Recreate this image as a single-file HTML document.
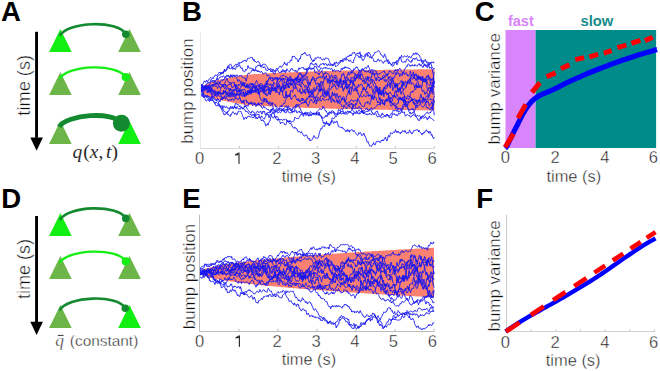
<!DOCTYPE html>
<html><head><meta charset="utf-8"><style>
html,body{margin:0;padding:0;background:#fff;}
svg{display:block;}
.lt{stroke:#fff;stroke-width:0.4px;}
</style></head><body>
<svg width="660" height="371" viewBox="0 0 660 371">
<rect width="660" height="371" fill="#fff"/>
<text x="1.11" y="20.6" font-family='"Liberation Sans", sans-serif' font-weight="bold" font-size="27.6" fill="#000">A</text>
<polygon points="49.1,51.9 71.7,51.9 60.4,28.9" fill="#11ee11"/>
<polygon points="118.2,51.9 140.8,51.9 129.5,28.9" fill="#6cb548"/>
<polygon points="49.1,94.9 71.7,94.9 60.4,71.9" fill="#6cb548"/>
<polygon points="118.2,94.9 140.8,94.9 129.5,71.9" fill="#6cb548"/>
<polygon points="49.1,143.9 71.7,143.9 60.4,120.9" fill="#6cb548"/>
<polygon points="118.2,143.9 140.8,143.9 129.5,120.9" fill="#11ee11"/>
<path d="M59.7,35.8 C67.6,21.4 117.9,19.8 125.8,34.2" fill="none" stroke="#138a2f" stroke-width="2.6" stroke-linecap="butt"/>
<circle cx="125.8" cy="34.2" r="3.8" fill="#138a2f"/>
<path d="M59.5,78.8 C67.5,64.7 117.8,63.1 125.8,77.2" fill="none" stroke="#14ee14" stroke-width="2.3" stroke-linecap="butt"/>
<circle cx="125.8" cy="77.2" r="4.1" fill="#14ee14"/>
<path d="M59.2,126.7 C66.7,114.3 113.9,110.9 121.4,123.3" fill="none" stroke="#138a2f" stroke-width="4.8" stroke-linecap="butt"/>
<circle cx="121.4" cy="123.3" r="8.5" fill="#138a2f"/>
<rect x="35.1" y="31.8" width="2.9" height="106" fill="#000"/>
<polygon points="30.3,137.6 42.9,137.6 36.6,150.7" fill="#000"/>
<text transform="translate(30.10,115.68) rotate(-90)" font-family='"Liberation Sans", sans-serif' font-size="18.2" class="lt" fill="#111" textLength="60.81" lengthAdjust="spacingAndGlyphs">time (s)</text>
<text x="72.6" y="157.6" font-family='"Liberation Serif", serif' font-size="19.5" fill="#2a2a2a"><tspan font-style="italic">q</tspan><tspan dx="0.8">(</tspan><tspan font-style="italic">x</tspan><tspan dx="0.3">,</tspan><tspan dx="2.4" font-style="italic">t</tspan><tspan dx="0.2">)</tspan></text>
<text x="1.15" y="207.8" font-family='"Liberation Sans", sans-serif' font-weight="bold" font-size="27.6" fill="#000">D</text>
<polygon points="49.1,236.1 71.7,236.1 60.4,213.1" fill="#11ee11"/>
<polygon points="118.2,236.1 140.8,236.1 129.5,213.1" fill="#6cb548"/>
<polygon points="49.1,279.1 71.7,279.1 60.4,256.1" fill="#6cb548"/>
<polygon points="118.2,279.1 140.8,279.1 129.5,256.1" fill="#6cb548"/>
<polygon points="49.1,328.1 71.7,328.1 60.4,305.1" fill="#6cb548"/>
<polygon points="118.2,328.1 140.8,328.1 129.5,305.1" fill="#11ee11"/>
<path d="M59.7,220.0 C67.6,205.6 117.9,204.0 125.8,218.39999999999998" fill="none" stroke="#138a2f" stroke-width="2.6" stroke-linecap="butt"/>
<circle cx="125.8" cy="218.39999999999998" r="3.8" fill="#138a2f"/>
<path d="M59.5,263.0 C67.5,248.9 117.8,247.3 125.8,261.4" fill="none" stroke="#14ee14" stroke-width="2.3" stroke-linecap="butt"/>
<circle cx="125.8" cy="261.4" r="4.1" fill="#14ee14"/>
<path d="M59.5,310.5 C67.4,296.2 117.4,293.9 125.3,308.2" fill="none" stroke="#138a2f" stroke-width="2.6" stroke-linecap="butt"/>
<circle cx="125.3" cy="308.2" r="3.8" fill="#138a2f"/>
<rect x="35.1" y="216.0" width="2.9" height="106" fill="#000"/>
<polygon points="30.3,321.79999999999995 42.9,321.79999999999995 36.6,334.9" fill="#000"/>
<text transform="translate(30.20,298.97) rotate(-90)" font-family='"Liberation Sans", sans-serif' font-size="18.2" class="lt" fill="#111" textLength="60.09" lengthAdjust="spacingAndGlyphs">time (s)</text>
<text x="55.3" y="346.0" class="lt" font-family='"Liberation Serif", serif' font-style="italic" font-size="17.5" fill="#222">q</text>
<rect x="57.8" y="334.9" width="5.8" height="1.0" fill="#3a3a3a"/>
<text x="69.85" y="346.00" font-family='"Liberation Sans", sans-serif' font-size="15.5" class="lt" fill="#111" textLength="68.41" lengthAdjust="spacingAndGlyphs">(constant)</text>
<text x="181.95" y="20.8" font-family='"Liberation Sans", sans-serif' font-weight="bold" font-size="27.6" fill="#000">B</text>
<polygon points="200.5,89.8 202.4,86.3 204.4,85.0 206.3,84.0 208.3,83.1 210.2,82.4 212.2,81.8 214.1,81.2 216.1,80.6 218.0,80.1 220.0,79.7 221.9,79.2 223.9,78.8 225.8,78.3 227.8,78.0 229.7,77.6 231.7,77.2 233.6,76.8 235.6,76.5 237.5,76.2 239.5,75.8 241.4,75.5 243.4,75.2 245.3,74.9 247.3,74.6 249.2,74.5 251.2,74.4 253.1,74.2 255.1,74.1 257.0,74.0 259.0,73.9 260.9,73.8 262.9,73.6 264.8,73.5 266.8,73.4 268.7,73.3 270.7,73.2 272.6,73.1 274.6,73.0 276.5,72.9 278.5,72.8 280.4,72.7 282.4,72.7 284.3,72.6 286.3,72.5 288.2,72.4 290.2,72.3 292.1,72.2 294.1,72.2 296.0,72.1 298.0,72.0 299.9,71.9 301.9,71.9 303.8,71.8 305.8,71.7 307.7,71.7 309.7,71.6 311.6,71.5 313.6,71.5 315.5,71.4 317.4,71.3 319.4,71.3 321.3,71.2 323.3,71.2 325.2,71.1 327.2,71.1 329.1,71.0 331.1,70.9 333.0,70.9 335.0,70.8 336.9,70.8 338.9,70.7 340.8,70.7 342.8,70.6 344.7,70.6 346.7,70.6 348.6,70.5 350.6,70.5 352.5,70.4 354.5,70.4 356.4,70.3 358.4,70.3 360.3,70.3 362.3,70.2 364.2,70.2 366.2,70.1 368.1,70.1 370.1,70.1 372.0,70.0 374.0,70.0 375.9,70.0 377.9,69.9 379.8,69.9 381.8,69.9 383.7,69.8 385.7,69.8 387.6,69.8 389.6,69.7 391.5,69.7 393.5,69.7 395.4,69.6 397.4,69.6 399.3,69.6 401.3,69.6 403.2,69.5 405.2,69.5 407.1,69.5 409.1,69.5 411.0,69.4 413.0,69.4 414.9,69.4 416.9,69.4 418.8,69.3 420.8,69.3 422.7,69.3 424.7,69.3 426.6,69.3 428.6,69.2 430.5,69.2 432.5,69.2 434.4,69.2 434.4,110.4 432.5,110.4 430.5,110.4 428.6,110.4 426.6,110.3 424.7,110.3 422.7,110.3 420.8,110.3 418.8,110.3 416.9,110.2 414.9,110.2 413.0,110.2 411.0,110.2 409.1,110.1 407.1,110.1 405.2,110.1 403.2,110.1 401.3,110.0 399.3,110.0 397.4,110.0 395.4,110.0 393.5,109.9 391.5,109.9 389.6,109.9 387.6,109.8 385.7,109.8 383.7,109.8 381.8,109.7 379.8,109.7 377.9,109.7 375.9,109.6 374.0,109.6 372.0,109.6 370.1,109.5 368.1,109.5 366.2,109.5 364.2,109.4 362.3,109.4 360.3,109.3 358.4,109.3 356.4,109.3 354.5,109.2 352.5,109.2 350.6,109.1 348.6,109.1 346.7,109.0 344.7,109.0 342.8,109.0 340.8,108.9 338.9,108.9 336.9,108.8 335.0,108.8 333.0,108.7 331.1,108.7 329.1,108.6 327.2,108.5 325.2,108.5 323.3,108.4 321.3,108.4 319.4,108.3 317.4,108.3 315.5,108.2 313.6,108.1 311.6,108.1 309.7,108.0 307.7,107.9 305.8,107.9 303.8,107.8 301.9,107.7 299.9,107.7 298.0,107.6 296.0,107.5 294.1,107.4 292.1,107.4 290.2,107.3 288.2,107.2 286.3,107.1 284.3,107.0 282.4,106.9 280.4,106.9 278.5,106.8 276.5,106.7 274.6,106.6 272.6,106.5 270.7,106.4 268.7,106.3 266.8,106.2 264.8,106.1 262.9,106.0 260.9,105.8 259.0,105.7 257.0,105.6 255.1,105.5 253.1,105.4 251.2,105.2 249.2,105.1 247.3,105.0 245.3,104.7 243.4,104.4 241.4,104.1 239.5,103.8 237.5,103.4 235.6,103.1 233.6,102.8 231.7,102.4 229.7,102.0 227.8,101.6 225.8,101.3 223.9,100.8 221.9,100.4 220.0,99.9 218.0,99.5 216.1,99.0 214.1,98.4 212.2,97.8 210.2,97.2 208.3,96.5 206.3,95.6 204.4,94.6 202.4,93.3 200.5,89.8" fill="#fa8072"/>
<g fill="none" stroke="#1515f2" stroke-width="0.9" stroke-linejoin="round"><polyline points="200.5,87.5 201.0,85.4 201.5,84.4 202.0,84.1 202.5,84.5 203.0,83.9 203.5,82.6 204.0,81.1 204.5,81.1 205.0,82.0 205.5,82.3 206.0,81.1 206.5,80.2 207.0,81.8 207.5,82.1 208.0,80.4 208.5,80.4 209.0,79.2 209.5,78.7 210.0,78.2 210.5,77.5 211.0,78.1 211.5,78.1 212.0,77.6 212.5,78.0 213.0,78.9 213.5,77.3 214.0,77.1 214.5,76.1 215.0,76.0 215.5,74.9 216.0,75.2 216.5,75.4 217.0,75.3 217.5,74.5 218.0,74.4 218.5,73.5 219.0,72.4 219.5,72.9 220.0,72.0 220.5,73.4 221.0,74.3 221.5,72.6 222.0,73.1 222.5,72.2 223.0,72.5 223.5,72.8 224.0,71.0 224.5,71.0 225.0,71.0 225.5,71.4 226.0,69.6 226.5,69.8 227.0,68.1 227.5,67.2 228.0,65.8 228.5,66.6 229.0,66.6 229.5,68.5 230.0,68.5 230.5,68.8 231.0,69.0 231.5,67.9 232.0,67.2 232.5,68.0 233.0,67.0 233.5,66.6 234.0,66.0 234.5,66.0 235.0,65.1 235.5,64.3 236.0,64.0 236.5,64.4 237.0,63.9 237.5,65.1 238.0,64.1 238.5,63.2 239.0,62.2 239.5,63.5 240.0,63.5 240.5,62.8 241.0,62.0 241.5,62.7 242.0,62.0 242.5,60.9 243.0,61.6 243.5,60.6 244.0,60.4 244.5,60.5 245.0,60.2 245.5,60.3 246.0,61.7 246.5,61.4 247.0,60.2 247.5,58.5 248.0,58.5 248.5,58.2 249.0,58.6 249.5,58.3 250.0,58.0 250.5,57.4 251.0,57.0 251.5,57.4 252.0,57.3 252.5,57.6 253.0,59.8 253.5,60.5 254.0,59.2 254.5,61.2 255.0,61.8 255.5,61.1 256.0,62.2 256.5,62.5 257.0,62.1 257.5,61.7 258.0,61.0 258.5,61.4 259.0,62.9 259.5,63.0 260.0,63.8 260.5,66.1 261.0,65.3 261.5,65.9 262.0,66.0 262.5,65.0 263.0,64.0 263.5,64.0 264.0,64.5 264.5,64.0 265.0,64.1 265.5,64.9 266.0,65.2 266.5,66.1 267.0,66.6 267.5,67.1 268.0,69.0 268.5,69.4 269.0,69.4 269.5,69.9 270.0,68.8 270.5,68.3 271.0,68.9 271.5,69.4 272.0,70.7 272.5,70.6 273.0,68.9 273.5,70.7 274.0,71.6 274.5,70.4 275.0,71.5 275.5,71.4 276.0,69.4 276.5,68.8 277.0,68.1 277.5,69.5 278.0,68.5 278.5,68.1 279.0,67.7 279.5,67.1 280.0,66.0 280.5,66.1 281.0,67.1 281.5,67.6 282.0,66.6 282.5,65.3 283.0,65.3 283.5,64.5 284.0,63.8 284.5,62.0 285.0,63.9 285.5,64.7 286.0,63.6 286.5,64.4 287.0,65.6 287.5,63.2 288.0,62.5 288.5,62.0 289.0,62.6 289.5,62.3 290.0,62.0 290.5,60.2 291.0,60.4 291.5,60.9 292.0,58.6 292.5,56.0 293.0,57.0 293.5,56.3 294.0,56.0 294.5,56.3 295.0,57.1 295.5,58.4 296.0,59.1 296.5,58.5 297.0,59.3 297.5,59.8 298.0,62.0 298.5,61.5 299.0,59.7 299.5,58.2 300.0,59.2 300.5,58.2 301.0,55.6 301.5,54.6 302.0,54.1 302.5,54.9 303.0,53.4 303.5,53.6 304.0,53.9 304.5,52.8 305.0,52.1 305.5,53.4 306.0,54.7 306.5,55.1 307.0,54.9 307.5,55.6 308.0,55.0 308.5,55.1 309.0,54.4 309.5,54.6 310.0,54.7 310.5,57.7 311.0,57.7 311.5,59.1 312.0,60.6 312.5,60.6 313.0,62.0 313.5,59.9 314.0,60.1 314.5,61.0 315.0,58.7 315.5,57.6 316.0,58.8 316.5,58.6 317.0,57.6 317.5,57.3 318.0,56.8 318.5,57.6 319.0,58.2 319.5,58.0 320.0,57.4 320.5,57.4 321.0,58.8 321.5,59.3 322.0,60.0 322.5,60.1 323.0,59.1 323.5,58.6 324.0,59.5 324.5,59.9 325.0,59.2 325.5,57.9 326.0,58.2 326.5,58.2 327.0,58.1 327.5,58.0 328.0,58.5 328.5,59.1 329.0,60.3 329.5,61.5 330.0,63.1 330.5,64.1 331.0,64.0 331.5,64.2 332.0,65.0 332.5,64.4 333.0,64.7 333.5,65.5 334.0,64.4 334.5,62.4 335.0,63.3 335.5,63.0 336.0,63.4 336.5,61.8 337.0,63.2 337.5,63.7 338.0,63.3 338.5,62.6 339.0,62.5 339.5,62.0 340.0,61.4 340.5,60.0 341.0,61.0 341.5,61.0 342.0,61.0 342.5,61.1 343.0,58.7 343.5,59.3 344.0,58.9 344.5,58.6 345.0,58.7 345.5,57.7 346.0,58.5 346.5,57.8 347.0,56.9 347.5,56.1 348.0,56.2 348.5,57.0 349.0,56.3 349.5,54.8 350.0,55.9 350.5,54.8 351.0,56.0 351.5,55.3 352.0,54.0 352.5,52.8 353.0,52.7 353.5,53.0 354.0,52.2 354.5,52.5 355.0,54.0 355.5,54.6 356.0,54.2 356.5,53.9 357.0,53.3 357.5,53.4 358.0,53.5 358.5,52.9 359.0,54.2 359.5,52.4 360.0,51.9 360.5,54.7 361.0,56.5 361.5,57.8 362.0,59.0 362.5,60.4 363.0,60.6 363.5,60.3 364.0,58.6 364.5,58.2 365.0,57.1 365.5,56.0 366.0,54.9 366.5,54.5 367.0,53.8 367.5,54.3 368.0,52.6 368.5,52.0 369.0,53.5 369.5,53.2 370.0,54.0 370.5,55.3 371.0,56.7 371.5,57.6 372.0,56.4 372.5,56.2 373.0,56.0 373.5,54.7 374.0,54.5 374.5,53.4 375.0,52.0 375.5,52.4 376.0,52.6 376.5,52.2 377.0,51.5 377.5,51.2 378.0,51.0 378.5,50.8 379.0,51.0 379.5,51.3 380.0,52.5 380.5,53.8 381.0,54.9 381.5,55.0 382.0,55.2 382.5,56.4 383.0,57.0 383.5,57.7 384.0,56.0 384.5,53.9 385.0,54.8 385.5,55.7 386.0,57.7 386.5,59.0 387.0,59.8 387.5,60.4 388.0,59.6 388.5,61.0 389.0,61.0 389.5,62.0 390.0,62.7 390.5,63.5 391.0,64.9 391.5,64.9 392.0,65.0 392.5,63.4 393.0,62.3 393.5,63.2 394.0,62.1 394.5,62.6 395.0,62.6 395.5,62.6 396.0,62.7 396.5,61.0 397.0,60.6 397.5,61.4 398.0,60.0 398.5,59.5 399.0,58.4 399.5,58.3 400.0,56.8 400.5,58.0 401.0,57.2 401.5,55.2 402.0,56.5 402.5,57.1 403.0,57.2 403.5,57.3 404.0,56.5 404.5,55.8 405.0,56.1 405.5,56.6 406.0,57.1 406.5,56.9 407.0,56.0 407.5,55.5 408.0,56.4 408.5,57.6 409.0,57.0 409.5,56.2 410.0,57.2 410.5,57.7 411.0,58.1 411.5,56.5 412.0,55.9 412.5,55.1 413.0,55.1 413.5,53.1 414.0,54.1 414.5,54.2 415.0,54.3 415.5,52.9 416.0,52.6 416.5,54.3 417.0,53.0 417.5,53.7 418.0,54.7 418.5,54.4 419.0,55.5 419.5,55.5 420.0,57.1 420.5,57.9 421.0,58.5 421.5,60.8 422.0,62.0 422.5,63.7 423.0,62.8 423.5,62.5 424.0,63.7 424.5,65.0 425.0,65.3 425.5,66.4 426.0,65.7 426.5,66.2 427.0,65.4 427.5,66.1 428.0,66.0 428.5,64.7 429.0,64.2 429.5,65.4 429.9,63.7 430.4,62.5 430.9,62.9 431.4,61.9 431.9,63.0 432.4,62.6 432.8,62.1 433.3,61.8 433.8,63.0 434.3,63.0"/><polyline points="200.5,90.8 201.0,90.5 201.5,88.4 202.0,87.0 202.5,87.9 203.0,88.2 203.5,88.1 204.0,88.2 204.5,87.2 205.0,87.0 205.5,85.5 206.0,85.4 206.5,84.1 207.0,83.3 207.5,83.3 208.0,82.4 208.5,82.5 209.0,82.4 209.5,82.2 210.0,83.0 210.5,81.2 211.0,79.3 211.5,79.6 212.0,80.2 212.5,81.8 213.0,82.3 213.5,82.8 214.0,81.5 214.5,82.0 215.0,82.3 215.5,80.9 216.0,79.7 216.5,79.3 217.0,79.2 217.5,75.9 218.0,75.7 218.5,75.6 219.0,75.1 219.5,75.0 220.0,75.1 220.5,73.8 221.0,73.9 221.5,73.3 222.0,72.0 222.5,72.2 223.0,73.8 223.5,72.4 224.0,70.7 224.5,69.1 225.0,71.1 225.5,70.9 226.0,70.9 226.5,70.2 227.0,69.3 227.5,67.3 228.0,67.5 228.5,67.8 229.0,65.9 229.5,64.9 230.0,64.1 230.5,64.2 231.0,64.4 231.5,65.6 232.0,67.0 232.5,68.1 233.0,69.5 233.5,68.4 234.0,67.9 234.5,69.0 235.0,69.4 235.5,69.4 236.0,67.5 236.5,65.7 237.0,66.4 237.5,66.8 238.0,66.6 238.5,66.2 239.0,64.5 239.5,64.9 240.0,66.0 240.5,67.9 241.0,68.3 241.5,68.4 242.0,67.6 242.5,69.1 243.0,71.2 243.5,70.9 244.0,71.5 244.5,71.8 245.0,71.6 245.5,69.4 246.0,69.3 246.5,70.2 247.0,69.1 247.5,68.6 248.0,65.6 248.5,67.2 249.0,68.0 249.5,68.3 250.0,68.4 250.5,68.1 251.0,68.3 251.5,68.3 252.0,68.3 252.5,68.6 253.0,69.0 253.5,70.9 254.0,69.7 254.5,70.3 255.0,70.0 255.5,68.9 256.0,66.6 256.5,67.2 257.0,66.3 257.5,65.5 258.0,66.0 258.5,65.0 259.0,65.0 259.5,65.0 260.0,65.8 260.5,66.9 261.0,66.0 261.5,67.0 262.0,66.9 262.5,67.1 263.0,66.9 263.5,67.7 264.0,66.5 264.5,66.8 265.0,68.0 265.5,68.1 266.0,70.4 266.5,70.0 267.0,70.6 267.5,70.4 268.0,70.1 268.5,69.3 269.0,69.1 269.5,69.4 270.0,69.0 270.5,70.2 271.0,72.0 271.5,70.8 272.0,72.0 272.5,71.7 273.0,71.5 273.5,73.5 274.0,74.2 274.5,74.1 275.0,73.8 275.5,71.2 276.0,71.5 276.5,70.3 277.0,70.0 277.5,69.6 278.0,70.1 278.5,71.7 279.0,72.2 279.5,73.0 280.0,72.3 280.5,72.3 281.0,72.6 281.5,70.7 282.0,72.3 282.5,71.1 283.0,69.4 283.5,70.6 284.0,72.2 284.5,71.1 285.0,70.0 285.5,72.6 286.0,72.3 286.5,69.9 287.0,68.8 287.5,70.3 288.0,70.5 288.5,70.8 289.0,71.6 289.5,71.8 290.0,71.0 290.5,69.3 291.0,69.6 291.5,68.4 292.0,68.2 292.5,69.9 293.0,70.3 293.5,70.2 294.0,70.2 294.5,70.8 295.0,71.6 295.5,70.2 296.0,70.2 296.5,71.8 297.0,72.5 297.5,71.6 298.0,70.8 298.5,68.6 299.0,67.7 299.5,69.2 300.0,69.0 300.5,68.3 301.0,67.8 301.5,67.9 302.0,67.9 302.5,67.7 303.0,67.1 303.5,67.8 304.0,69.5 304.5,69.1 305.0,68.7 305.5,70.0 306.0,68.7 306.5,68.2 307.0,68.0 307.5,68.3 308.0,68.1 308.5,67.4 309.0,67.8 309.5,66.8 310.0,65.2 310.5,63.3 311.0,64.2 311.5,62.6 312.0,63.2 312.5,64.0 313.0,64.9 313.5,64.9 314.0,64.5 314.5,64.7 315.0,64.2 315.5,63.1 316.0,64.5 316.5,63.7 317.0,65.7 317.5,66.3 318.0,66.0 318.5,66.4 319.0,67.5 319.5,66.0 320.0,65.0 320.5,63.9 321.0,64.0 321.5,64.3 322.0,64.3 322.5,63.5 323.0,62.9 323.5,64.0 324.0,65.0 324.5,64.9 325.0,63.4 325.5,63.9 326.0,63.9 326.5,64.0 327.0,65.5 327.5,66.1 328.0,65.0 328.5,63.8 329.0,65.0 329.5,65.0 330.0,65.7 330.5,65.4 331.0,64.2 331.5,64.4 332.0,65.8 332.5,66.0 333.0,64.7 333.5,64.3 334.0,63.6 334.5,63.7 335.0,64.6 335.5,66.4 336.0,66.6 336.5,66.0 337.0,66.0 337.5,65.7 338.0,64.9 338.5,64.6 339.0,64.2 339.5,62.7 340.0,62.9 340.5,62.2 341.0,60.8 341.5,61.0 342.0,60.1 342.5,61.5 343.0,61.7 343.5,61.4 344.0,60.3 344.5,59.5 345.0,60.0 345.5,59.5 346.0,60.4 346.5,58.4 347.0,58.8 347.5,59.7 348.0,60.2 348.5,60.3 349.0,61.5 349.5,60.8 350.0,59.9 350.5,60.2 351.0,61.5 351.5,62.1 352.0,62.0 352.5,62.4 353.0,63.0 353.5,61.9 354.0,59.2 354.5,58.4 355.0,57.0 355.5,56.5 356.0,55.4 356.5,54.7 357.0,55.2 357.5,55.4 358.0,55.5 358.5,57.2 359.0,56.9 359.5,56.6 360.0,58.0 360.5,56.6 361.0,54.6 361.5,55.6 362.0,55.7 362.5,56.0 363.0,56.3 363.5,56.9 364.0,56.1 364.5,55.8 365.0,54.3 365.5,54.2 366.0,54.1 366.5,53.4 367.0,53.8 367.5,56.4 368.0,55.0 368.5,55.7 369.0,56.5 369.5,57.5 370.0,56.6 370.5,57.7 371.0,58.2 371.5,58.0 372.0,57.6 372.5,57.7 373.0,58.6 373.5,59.4 374.0,61.6 374.5,61.1 375.0,61.7 375.5,61.2 376.0,61.9 376.5,61.9 377.0,61.2 377.5,59.8 378.0,59.0 378.5,59.2 379.0,60.6 379.5,61.3 380.0,60.0 380.5,60.0 381.0,60.6 381.5,60.9 382.0,61.5 382.5,62.7 383.0,63.4 383.5,63.1 384.0,61.6 384.5,61.7 385.0,60.5 385.5,60.7 386.0,61.4 386.5,60.5 387.0,60.7 387.5,60.7 388.0,63.0 388.5,63.8 389.0,62.3 389.5,63.0 390.0,63.8 390.5,63.9 391.0,63.8 391.5,64.7 392.0,65.7 392.5,66.4 393.0,65.7 393.5,65.8 394.0,64.5 394.5,63.3 395.0,63.0 395.5,62.0 396.0,61.7 396.5,64.3 397.0,64.9 397.5,64.0 398.0,62.0 398.5,61.2 399.0,59.8 399.5,57.7 400.0,58.4 400.5,58.0 401.0,58.5 401.5,61.6 402.0,62.0 402.5,62.1 403.0,62.5 403.5,62.3 404.0,61.5 404.5,61.4 405.0,62.5 405.5,62.3 406.0,61.0 406.5,59.8 407.0,58.8 407.5,58.9 408.0,59.4 408.5,60.0 409.0,61.2 409.5,61.1 410.0,62.0 410.5,62.0 411.0,62.5 411.5,60.4 412.0,61.4 412.5,59.6 413.0,58.2 413.5,58.7 414.0,58.1 414.5,59.6 415.0,59.6 415.5,58.3 416.0,58.2 416.5,57.6 417.0,59.0 417.5,60.4 418.0,60.9 418.5,60.3 419.0,60.2 419.5,61.0 420.0,60.0 420.5,59.5 421.0,60.7 421.5,61.7 422.0,61.8 422.5,61.8 423.0,60.2 423.5,61.7 423.9,61.9 424.4,60.8 424.9,59.9 425.4,59.4 425.9,61.4 426.4,62.4 426.9,61.4 427.4,63.5 427.9,65.2 428.4,64.4 428.9,62.1 429.4,63.4 429.9,63.1 430.4,63.3 430.8,63.1 431.3,64.6 431.8,66.4 432.3,67.6 432.8,67.7 433.3,68.3 433.8,69.3 434.3,68.0"/><polyline points="200.5,92.6 201.0,92.4 201.5,92.7 202.0,92.9 202.5,93.9 203.0,95.0 203.5,97.3 204.0,97.0 204.5,96.2 205.0,96.4 205.5,95.8 206.0,96.8 206.5,96.1 207.0,96.3 207.5,97.3 208.0,98.4 208.5,98.7 209.0,100.2 209.5,101.6 210.0,100.0 210.5,100.4 211.0,100.7 211.5,100.5 212.0,99.9 212.5,100.0 213.0,100.5 213.5,100.9 214.0,102.3 214.5,103.4 215.0,102.9 215.5,102.2 216.0,103.1 216.5,102.5 217.0,102.8 217.5,103.4 218.0,104.5 218.5,105.1 219.0,106.6 219.5,106.2 220.0,107.0 220.5,107.2 221.0,108.2 221.5,109.2 222.0,109.1 222.5,107.3 223.0,109.1 223.5,110.4 224.0,111.3 224.5,111.5 225.0,112.0 225.5,112.2 226.0,111.9 226.5,112.8 227.0,112.6 227.5,111.5 228.0,111.9 228.5,110.9 229.0,110.9 229.5,108.8 230.0,108.2 230.5,108.4 231.0,107.5 231.5,107.2 232.0,107.5 232.5,107.3 233.0,108.7 233.5,108.2 234.0,107.7 234.5,107.3 235.0,105.0 235.5,103.4 236.0,103.8 236.5,103.4 237.0,104.6 237.5,104.5 238.0,104.2 238.5,105.1 239.0,105.3 239.5,106.8 240.0,105.6 240.5,106.0 241.0,106.5 241.5,107.0 242.0,108.1 242.5,109.0 243.0,108.9 243.5,108.3 244.0,109.2 244.5,109.1 245.0,110.0 245.5,111.5 246.0,111.9 246.5,111.2 247.0,111.2 247.5,112.2 248.0,112.2 248.5,113.5 249.0,113.8 249.5,114.2 250.0,113.8 250.5,113.9 251.0,115.2 251.5,115.1 252.0,115.0 252.5,114.6 253.0,115.7 253.5,114.6 254.0,114.3 254.5,115.6 255.0,117.3 255.5,117.5 256.0,118.8 256.5,117.1 257.0,118.2 257.5,118.9 258.0,118.0 258.5,116.7 259.0,116.6 259.5,117.3 260.0,118.1 260.5,118.6 261.0,119.8 261.5,121.0 262.0,120.0 262.5,120.0 263.0,119.8 263.5,121.2 264.0,121.1 264.5,122.5 265.0,123.0 265.5,125.7 266.0,126.0 266.5,125.2 267.0,124.3 267.5,123.6 268.0,125.2 268.5,123.9 269.0,122.2 269.5,121.2 270.0,121.0 270.5,117.9 271.0,116.6 271.5,115.3 272.0,113.0 272.5,113.3 273.0,113.0 273.5,113.3 274.0,113.0 274.5,114.8 275.0,117.0 275.5,117.2 276.0,117.7 276.5,116.3 277.0,116.3 277.5,117.2 278.0,118.0 278.5,118.9 279.0,120.5 279.5,121.3 280.0,121.7 280.5,124.0 281.0,122.9 281.5,122.5 282.0,122.5 282.5,122.5 283.0,122.4 283.5,123.0 284.0,123.0 284.5,123.7 285.0,125.0 285.5,124.7 286.0,124.5 286.5,123.3 287.0,121.8 287.5,121.2 288.0,121.8 288.5,121.8 289.0,122.6 289.5,123.3 290.0,124.1 290.5,122.9 291.0,123.8 291.5,124.3 292.0,126.0 292.5,126.9 293.0,127.6 293.5,127.8 294.0,128.4 294.5,127.1 295.0,127.2 295.5,127.5 296.0,128.8 296.5,128.5 297.0,129.0 297.5,131.2 298.0,131.0 298.5,131.9 299.0,131.5 299.5,131.5 300.0,132.0 300.5,133.0 301.0,132.6 301.5,131.6 302.0,133.2 302.5,133.5 303.0,134.4 303.5,135.4 304.0,136.2 304.5,136.0 305.0,136.0 305.5,134.8 306.0,135.3 306.5,135.2 307.0,135.5 307.5,137.7 308.0,138.7 308.5,139.1 309.0,138.1 309.5,139.2 310.0,141.0 310.5,140.1 311.0,140.5 311.5,139.9 312.0,139.7 312.5,139.3 313.0,137.7 313.5,137.1 314.0,135.5 314.5,136.8 315.0,137.8 315.5,137.8 316.0,138.0 316.5,138.0 317.0,138.1 317.5,138.3 318.0,138.0 318.5,136.8 319.0,134.4 319.5,132.4 320.0,130.7 320.5,129.8 321.0,128.4 321.5,129.2 322.0,128.0 322.5,126.6 323.0,125.9 323.5,125.8 324.0,126.6 324.5,126.5 325.0,124.8 325.5,123.5 326.0,123.5 326.5,123.3 327.0,123.6 327.5,123.1 328.0,124.3 328.5,125.2 329.0,125.9 329.5,125.6 330.0,123.6 330.5,121.8 331.0,121.7 331.5,121.9 332.0,118.6 332.5,117.7 333.0,118.4 333.5,118.9 334.0,118.0 334.5,117.8 335.0,117.0 335.5,116.0 336.0,116.3 336.5,116.6 337.0,115.3 337.5,113.6 338.0,111.5 338.5,109.3 339.0,109.8 339.5,110.8 340.0,110.2 340.5,110.5 341.0,109.0 341.5,108.7 342.0,109.4 342.5,109.5 343.0,109.3 343.5,107.5 344.0,105.8 344.5,105.2 345.0,104.5 345.5,104.2 346.0,103.4 346.5,103.0 347.0,102.8 347.5,103.1 348.0,103.0 348.5,102.3 349.0,101.8 349.5,102.5 350.0,102.1 350.5,100.9 351.0,99.7 351.5,99.8 352.0,100.1 352.5,101.1 353.0,100.6 353.5,101.7 354.0,101.2 354.5,100.8 355.0,100.0 355.5,100.4 356.0,101.2 356.5,101.1 357.0,100.4 357.5,98.8 358.0,98.8 358.5,98.3 359.0,98.0 359.5,97.2 360.0,96.2 360.5,95.6 361.0,95.9 361.5,96.7 362.0,96.5 362.5,96.7 363.0,96.3 363.5,96.1 364.0,94.6 364.5,95.3 365.0,95.7 365.5,97.0 366.0,96.2 366.5,96.2 367.0,95.1 367.5,95.2 368.0,95.0 368.5,95.5 369.0,95.2 369.5,95.6 370.0,95.0 370.5,95.6 371.0,95.4 371.5,95.0 372.0,95.2 372.5,95.6 373.0,94.3 373.5,92.8 374.0,93.1 374.5,93.1 375.0,91.2 375.5,89.6 376.0,88.9 376.5,89.3 377.0,89.5 377.5,90.5 378.0,91.7 378.5,94.1 379.0,92.7 379.5,92.8 380.0,93.8 380.5,92.7 381.0,91.4 381.5,91.6 382.0,92.7 382.5,94.0 383.0,92.4 383.5,91.2 384.0,91.2 384.5,90.7 385.0,91.1 385.5,91.3 386.0,93.1 386.5,93.1 387.0,93.3 387.5,93.4 388.0,94.6 388.5,93.6 389.0,94.0 389.5,93.3 390.0,92.0 390.5,93.1 391.0,93.5 391.5,94.8 392.0,94.9 392.5,95.5 393.0,95.5 393.5,96.0 394.0,95.5 394.5,97.1 395.0,96.2 395.5,97.8 396.0,97.5 396.5,98.3 397.0,98.4 397.5,98.7 398.0,100.1 398.5,100.2 399.0,99.2 399.5,99.4 400.0,99.9 400.5,97.5 401.0,98.4 401.5,99.4 402.0,97.6 402.5,97.4 403.0,98.1 403.5,96.9 404.0,96.4 404.5,96.0 405.0,96.5 405.5,97.5 406.0,97.5 406.5,97.5 407.0,98.3 407.5,98.8 408.0,98.6 408.5,99.8 409.0,98.4 409.5,98.5 410.0,98.0 410.5,97.6 411.0,97.8 411.5,97.9 412.0,100.4 412.5,101.1 413.0,101.5 413.5,103.2 414.0,104.3 414.5,102.5 415.0,102.7 415.5,103.5 416.0,103.0 416.4,103.3 416.9,102.9 417.4,103.4 417.9,101.8 418.4,100.0 418.9,99.5 419.4,99.8 419.9,101.1 420.4,100.9 420.9,100.2 421.4,101.2 421.9,101.3 422.4,103.1 422.9,103.1 423.4,101.2 423.9,100.5 424.4,99.6 424.9,98.3 425.4,97.5 425.9,96.9 426.4,96.7 426.9,96.2 427.4,96.6 427.9,97.1 428.3,97.3 428.8,97.5 429.3,95.7 429.8,94.1 430.3,93.3 430.8,93.6 431.3,92.2 431.8,91.8 432.3,92.1 432.8,94.1 433.3,94.4 433.8,93.9 434.3,95.0"/><polyline points="200.5,90.1 201.0,90.0 201.5,91.3 202.0,90.6 202.5,91.0 203.0,91.3 203.5,92.4 204.0,91.5 204.5,90.4 205.0,90.2 205.5,90.2 206.0,90.4 206.5,90.2 207.0,90.9 207.5,91.8 208.0,92.2 208.5,91.3 209.0,92.7 209.5,91.3 210.0,91.3 210.5,92.4 211.0,92.0 211.5,93.5 212.0,95.6 212.5,97.3 213.0,97.9 213.5,99.1 214.0,98.8 214.5,99.4 215.0,100.0 215.5,100.4 216.0,100.9 216.5,101.0 217.0,99.3 217.5,100.0 218.0,100.6 218.5,103.0 219.0,104.0 219.5,104.4 220.0,105.5 220.5,106.5 221.0,106.8 221.5,106.7 222.0,105.5 222.5,106.0 223.0,107.9 223.5,106.3 224.0,105.7 224.5,106.8 225.0,107.3 225.5,108.0 226.0,106.5 226.5,106.2 227.0,107.0 227.5,107.9 228.0,108.5 228.5,107.9 229.0,108.8 229.5,107.9 230.0,107.2 230.5,106.4 231.0,108.1 231.5,108.0 232.0,108.4 232.5,106.5 233.0,107.9 233.5,108.7 234.0,107.3 234.5,106.0 235.0,108.0 235.5,107.2 236.0,109.1 236.5,108.7 237.0,106.4 237.5,107.6 238.0,108.2 238.5,109.0 239.0,108.6 239.5,108.5 240.0,109.5 240.5,108.8 241.0,107.0 241.5,108.0 242.0,107.5 242.5,108.8 243.0,108.4 243.5,108.1 244.0,108.0 244.5,105.7 245.0,107.0 245.5,106.5 246.0,106.4 246.5,107.9 247.0,108.2 247.5,109.2 248.0,109.6 248.5,110.5 249.0,110.9 249.5,112.1 250.0,112.0 250.5,112.5 251.0,111.9 251.5,113.1 252.0,111.0 252.5,111.2 253.0,111.6 253.5,112.0 254.0,112.1 254.5,113.4 255.0,115.6 255.5,115.1 256.0,113.2 256.5,112.2 257.0,111.4 257.5,111.3 258.0,111.3 258.5,112.5 259.0,112.1 259.5,112.1 260.0,112.3 260.5,111.4 261.0,111.2 261.5,114.0 262.0,113.9 262.5,113.0 263.0,110.9 263.5,112.0 264.0,111.7 264.5,111.1 265.0,113.6 265.5,115.1 266.0,113.5 266.5,113.2 267.0,114.2 267.5,115.1 268.0,114.0 268.5,115.9 269.0,117.8 269.5,116.7 270.0,115.0 270.5,114.0 271.0,115.1 271.5,116.6 272.0,117.2 272.5,117.0 273.0,117.3 273.5,118.3 274.0,117.5 274.5,116.2 275.0,116.5 275.5,118.2 276.0,118.8 276.5,119.4 277.0,119.1 277.5,120.4 278.0,119.1 278.5,119.5 279.0,119.3 279.5,119.5 280.0,119.0 280.5,119.9 281.0,119.9 281.5,119.5 282.0,120.1 282.5,120.2 283.0,119.8 283.5,119.3 284.0,120.2 284.5,119.4 285.0,119.3 285.5,119.1 286.0,119.6 286.5,119.5 287.0,121.8 287.5,120.1 288.0,120.8 288.5,120.9 289.0,122.1 289.5,120.6 290.0,122.0 290.5,120.7 291.0,121.5 291.5,122.1 292.0,122.3 292.5,121.7 293.0,121.0 293.5,121.2 294.0,120.5 294.5,118.7 295.0,117.0 295.5,117.6 296.0,118.2 296.5,118.5 297.0,118.3 297.5,118.4 298.0,118.7 298.5,118.8 299.0,117.7 299.5,116.8 300.0,115.4 300.5,115.4 301.0,114.2 301.5,113.8 302.0,114.9 302.5,114.3 303.0,115.1 303.5,116.4 304.0,114.4 304.5,112.7 305.0,113.0 305.5,112.1 306.0,112.5 306.5,113.1 307.0,112.4 307.5,113.1 308.0,114.7 308.5,115.5 309.0,114.5 309.5,114.2 310.0,113.6 310.5,115.0 311.0,114.7 311.5,113.9 312.0,113.8 312.5,114.2 313.0,113.7 313.5,113.6 314.0,113.5 314.5,114.1 315.0,115.0 315.5,115.1 316.0,114.5 316.5,114.8 317.0,113.8 317.5,114.8 318.0,115.0 318.5,114.8 319.0,112.0 319.5,114.0 320.0,115.0 320.5,115.9 321.0,115.6 321.5,115.9 322.0,118.4 322.5,117.3 323.0,117.7 323.5,117.9 324.0,117.7 324.5,117.6 325.0,116.3 325.5,116.6 326.0,114.9 326.5,116.3 327.0,116.8 327.5,115.6 328.0,113.1 328.5,112.9 329.0,113.0 329.5,111.7 330.0,113.0 330.5,113.1 331.0,112.6 331.5,111.0 332.0,110.8 332.5,110.5 333.0,111.0 333.5,112.0 334.0,111.9 334.5,112.2 335.0,113.5 335.5,114.0 336.0,113.7 336.5,114.2 337.0,113.5 337.5,113.9 338.0,113.8 338.5,112.6 339.0,113.1 339.5,113.1 340.0,113.7 340.5,112.2 341.0,113.2 341.5,114.3 342.0,113.8 342.5,113.6 343.0,113.5 343.5,113.4 344.0,114.1 344.5,113.3 345.0,112.0 345.5,111.7 346.0,113.5 346.5,113.1 347.0,112.0 347.5,111.0 348.0,111.1 348.5,112.2 349.0,111.4 349.5,111.5 350.0,111.7 350.5,112.1 351.0,112.1 351.5,113.1 352.0,113.7 352.5,113.0 353.0,115.4 353.5,113.9 354.0,112.5 354.5,113.5 355.0,113.6 355.5,113.2 356.0,113.4 356.5,114.0 357.0,113.4 357.5,112.7 358.0,111.6 358.5,110.6 359.0,109.8 359.5,110.8 360.0,111.0 360.5,111.6 361.0,111.0 361.5,112.1 362.0,110.6 362.5,111.1 363.0,111.8 363.5,111.2 364.0,110.2 364.5,110.7 365.0,110.0 365.5,109.2 366.0,109.2 366.5,108.0 367.0,107.9 367.5,110.0 368.0,109.5 368.5,110.5 369.0,109.4 369.5,109.5 370.0,109.3 370.5,109.1 371.0,109.9 371.5,112.0 372.0,111.9 372.5,113.2 373.0,113.6 373.5,114.3 374.0,113.9 374.5,113.2 375.0,113.0 375.5,112.2 376.0,112.2 376.5,111.1 377.0,111.1 377.5,111.2 378.0,113.0 378.5,114.7 379.0,115.2 379.5,114.7 380.0,115.3 380.5,116.1 381.0,115.9 381.5,115.0 382.0,113.2 382.5,113.1 383.0,115.0 383.5,114.8 384.0,115.2 384.5,115.5 385.0,116.0 385.5,116.7 386.0,114.7 386.5,114.5 387.0,114.9 387.5,114.8 388.0,116.0 388.5,115.5 389.0,116.3 389.5,117.9 390.0,117.5 390.5,117.4 391.0,117.0 391.5,117.6 392.0,115.4 392.5,113.8 393.0,113.4 393.5,114.1 394.0,114.6 394.5,113.6 395.0,115.1 395.5,115.1 396.0,114.4 396.5,114.8 397.0,116.0 397.5,115.8 398.0,114.1 398.5,113.5 399.0,113.4 399.5,114.3 400.0,113.2 400.5,113.3 401.0,112.0 401.5,112.0 402.0,110.6 402.5,110.1 403.0,108.5 403.5,107.5 404.0,105.8 404.5,103.8 405.0,105.0 405.5,106.1 406.0,106.5 406.5,106.1 407.0,107.6 407.5,107.2 408.0,107.6 408.5,108.7 409.0,108.9 409.5,110.3 410.0,110.1 410.5,109.9 411.0,110.0 411.5,109.3 412.0,108.6 412.5,109.9 413.0,108.6 413.5,110.1 414.0,110.9 414.5,112.5 415.0,113.7 415.5,114.7 416.0,116.9 416.5,117.3 417.0,117.6 417.5,119.2 418.0,119.0 418.5,120.2 419.0,120.9 419.5,120.5 420.0,119.2 420.5,117.3 421.0,119.2 421.5,117.7 422.0,116.6 422.5,117.5 423.0,118.0 423.5,118.2 424.0,118.4 424.5,118.0 425.0,117.1 425.5,116.4 426.0,117.0 426.5,118.3 427.0,119.6 427.5,119.8 428.0,117.7 428.4,118.4 428.9,118.5 429.4,115.9 429.9,117.5 430.4,117.9 430.9,118.1 431.4,118.4 431.9,118.7 432.3,119.2 432.8,119.5 433.3,119.7 433.8,120.5 434.3,121.0"/><polyline points="200.5,95.7 201.0,96.1 201.5,95.9 202.0,95.6 202.5,96.3 203.0,96.8 203.5,97.3 204.0,97.4 204.5,97.6 205.0,98.7 205.5,100.3 206.0,101.0 206.5,101.2 207.0,100.4 207.5,99.5 208.0,99.9 208.5,100.0 209.0,100.2 209.5,99.4 210.0,99.5 210.5,97.9 211.0,97.0 211.5,96.5 212.0,97.4 212.5,97.0 213.0,96.4 213.5,96.9 214.0,97.1 214.5,98.3 215.0,98.9 215.5,99.4 216.0,99.4 216.5,100.4 217.0,99.9 217.5,98.6 218.0,99.8 218.5,99.5 219.0,99.8 219.5,100.7 220.0,102.0 220.5,99.3 221.0,98.5 221.5,100.0 222.0,98.5 222.5,99.2 223.0,99.1 223.5,98.4 224.0,98.5 224.5,97.1 225.0,97.7 225.5,99.2 226.0,98.0 226.5,97.5 227.0,99.0 227.5,99.6 228.0,99.5 228.5,101.2 229.0,99.7 229.5,99.7 230.0,100.0 230.5,99.7 231.0,100.6 231.5,99.0 232.0,99.1 232.5,98.4 233.0,99.6 233.5,100.7 234.0,100.0 234.5,99.0 235.0,99.0 235.5,98.2 236.0,97.7 236.5,98.2 237.0,97.8 237.5,99.6 238.0,99.8 238.5,99.3 239.0,98.2 239.5,97.8 240.0,98.9 240.5,99.5 241.0,101.0 241.5,102.4 242.0,103.0 242.5,102.4 243.0,102.3 243.5,102.4 244.0,100.8 244.5,101.2 245.0,100.2 245.5,100.1 246.0,99.7 246.5,100.3 247.0,103.0 247.5,101.9 248.0,101.9 248.5,104.0 249.0,103.1 249.5,103.0 250.0,102.9 250.5,103.3 251.0,101.7 251.5,102.1 252.0,102.8 252.5,105.4 253.0,105.4 253.5,104.8 254.0,105.0 254.5,102.5 255.0,102.9 255.5,104.5 256.0,104.5 256.5,104.6 257.0,104.4 257.5,104.6 258.0,103.4 258.5,105.0 259.0,104.7 259.5,104.3 260.0,106.0 260.5,106.0 261.0,105.6 261.5,107.3 262.0,107.5 262.5,108.4 263.0,107.9 263.5,106.1 264.0,106.3 264.5,107.8 265.0,107.4 265.5,107.7 266.0,108.5 266.5,108.8 267.0,108.9 267.5,109.7 268.0,109.9 268.5,109.4 269.0,110.5 269.5,111.4 270.0,111.8 270.5,112.5 271.0,109.9 271.5,110.2 272.0,110.3 272.5,108.3 273.0,110.4 273.5,110.8 274.0,110.4 274.5,110.1 275.0,110.4 275.5,110.4 276.0,108.8 276.5,108.5 277.0,109.0 277.5,109.6 278.0,110.5 278.5,109.5 279.0,108.9 279.5,109.4 280.0,108.8 280.5,109.1 281.0,108.3 281.5,108.9 282.0,109.0 282.5,109.7 283.0,109.7 283.5,109.0 284.0,107.9 284.5,108.0 285.0,107.4 285.5,106.0 286.0,105.5 286.5,106.4 287.0,107.7 287.5,108.5 288.0,109.9 288.5,109.7 289.0,109.6 289.5,108.7 290.0,108.0 290.5,109.1 291.0,109.0 291.5,109.2 292.0,111.3 292.5,112.7 293.0,111.3 293.5,111.8 294.0,110.6 294.5,111.0 295.0,108.6 295.5,107.2 296.0,105.8 296.5,107.3 297.0,105.0 297.5,105.6 298.0,106.2 298.5,105.8 299.0,106.1 299.5,108.2 300.0,108.0 300.5,108.5 301.0,110.7 301.5,112.2 302.0,111.9 302.5,112.9 303.0,113.9 303.5,113.6 304.0,113.4 304.5,113.5 305.0,113.1 305.5,114.4 306.0,115.5 306.5,114.0 307.0,114.4 307.5,115.3 308.0,114.7 308.5,115.2 309.0,116.3 309.5,115.4 310.0,115.8 310.5,114.2 311.0,115.7 311.5,115.7 312.0,115.0 312.5,113.9 313.0,113.0 313.5,114.7 314.0,114.3 314.5,114.2 315.0,114.2 315.5,113.1 316.0,114.3 316.5,112.1 317.0,113.5 317.5,113.1 318.0,113.5 318.5,114.2 319.0,115.5 319.5,114.6 320.0,115.7 320.5,116.0 321.0,116.5 321.5,116.9 322.0,118.7 322.5,119.8 323.0,121.8 323.5,123.4 324.0,122.0 324.5,122.6 325.0,124.3 325.5,124.0 326.0,123.0 326.5,121.3 327.0,124.0 327.5,123.7 328.0,124.5 328.5,123.4 329.0,123.9 329.5,125.6 330.0,124.1 330.5,124.1 331.0,123.3 331.5,121.4 332.0,120.5 332.5,120.6 333.0,121.9 333.5,123.2 334.0,123.2 334.5,121.6 335.0,122.3 335.5,122.3 336.0,122.3 336.5,121.1 337.0,121.0 337.5,123.2 338.0,124.8 338.5,126.3 339.0,127.1 339.5,126.9 340.0,127.0 340.5,127.3 341.0,127.9 341.5,127.7 342.0,126.9 342.5,128.2 343.0,128.0 343.5,128.9 344.0,128.9 344.5,129.6 345.0,130.2 345.5,131.1 346.0,131.9 346.5,131.0 347.0,129.7 347.5,129.7 348.0,131.5 348.5,130.8 349.0,129.9 349.5,132.3 350.0,130.8 350.5,130.3 351.0,130.0 351.5,129.6 352.0,129.3 352.5,130.7 353.0,131.3 353.5,131.8 354.0,130.4 354.5,131.6 355.0,132.0 355.5,132.5 356.0,133.7 356.5,134.3 357.0,134.6 357.5,135.4 358.0,135.0 358.5,134.0 359.0,132.5 359.5,133.4 360.0,132.6 360.5,132.7 361.0,133.7 361.5,135.5 362.0,135.0 362.5,135.1 363.0,135.1 363.5,133.6 364.0,133.0 364.5,135.8 365.0,135.6 365.5,137.3 366.0,138.0 366.5,140.1 367.0,141.8 367.5,142.3 368.0,141.4 368.5,143.2 369.0,144.2 369.5,145.0 370.0,146.2 370.5,145.7 371.0,146.2 371.5,146.5 372.0,145.3 372.5,144.4 373.0,144.6 373.5,142.6 374.0,143.7 374.5,144.8 375.0,145.0 375.5,144.6 376.0,142.0 376.5,141.5 377.0,141.6 377.5,141.4 378.0,141.7 378.5,140.9 379.0,142.2 379.5,142.0 380.0,142.1 380.5,142.5 381.0,141.0 381.5,140.0 382.0,141.0 382.5,139.9 383.0,139.5 383.5,140.7 384.0,139.8 384.5,139.0 385.0,137.9 385.5,137.0 386.0,139.1 386.5,139.9 387.0,141.0 387.5,139.3 388.0,137.0 388.5,135.5 389.0,136.3 389.5,137.2 390.0,134.9 390.5,132.8 391.0,133.2 391.5,133.2 392.0,133.3 392.5,133.7 393.0,132.4 393.5,132.2 394.0,131.6 394.5,132.6 395.0,131.9 395.5,129.7 396.0,130.7 396.5,132.2 397.0,132.9 397.5,132.3 398.0,131.0 398.5,132.3 399.0,132.0 399.5,132.7 400.0,133.7 400.5,133.8 401.0,132.0 401.5,132.8 402.0,132.0 402.5,130.6 403.0,130.8 403.5,131.2 404.0,131.3 404.5,132.2 405.0,130.4 405.5,131.3 406.0,133.1 406.5,133.3 407.0,133.0 407.5,132.5 408.0,133.5 408.5,133.0 409.0,131.9 409.5,129.9 410.0,131.1 410.5,132.3 411.0,132.0 411.5,133.8 412.0,133.2 412.5,133.6 413.0,132.0 413.5,130.7 414.0,130.4 414.5,130.6 415.0,131.0 415.5,130.2 416.0,129.8 416.5,129.9 417.0,129.7 417.5,129.6 418.0,130.6 418.5,131.9 419.0,130.2 419.5,131.7 420.0,132.0 420.5,132.5 421.0,133.0 421.5,134.1 422.0,135.0 422.5,133.3 423.0,134.0 423.5,132.6 424.0,132.8 424.5,132.9 425.0,131.1 425.5,131.0 426.0,130.5 426.5,129.7 427.0,131.6 427.5,131.6 428.0,131.0 428.5,133.0 429.0,133.1 429.5,133.1 429.9,131.3 430.4,132.1 430.9,133.3 431.4,135.4 431.9,134.5 432.4,135.8 432.8,137.4 433.3,138.3 433.8,138.5 434.3,137.0"/><polyline points="200.5,90.0 201.0,90.5 201.5,89.9 202.0,91.6 202.5,92.6 203.0,93.5 203.5,96.6 204.0,97.1 204.5,96.1 205.0,95.0 205.5,96.6 206.0,97.4 206.5,97.7 207.0,96.5 207.5,96.7 208.0,96.6 208.5,97.5 209.0,97.7 209.5,97.8 210.0,98.8 210.5,99.0 211.0,100.4 211.5,98.0 212.0,97.7 212.5,100.0 213.0,101.2 213.5,101.1 214.0,101.9 214.5,102.4 215.0,103.0 215.5,105.1 216.0,105.2 216.5,106.0 217.0,105.8 217.5,105.6 218.0,104.7 218.5,104.6 219.0,104.8 219.5,105.1 220.0,105.7 220.5,106.4 221.0,107.7 221.5,108.1 222.0,110.0 222.5,111.0 223.0,112.7 223.5,113.0 224.0,114.6 224.5,115.1 225.0,113.8 225.5,114.1 226.0,114.3 226.5,113.2 227.0,112.6 227.5,112.3 228.0,115.0 228.5,114.6 229.0,115.6 229.5,115.8 230.0,116.2 230.5,116.3 231.0,114.0 231.5,114.5 232.0,112.8 232.5,112.5 233.0,111.6 233.5,112.5 234.0,113.0 234.5,114.1 235.0,113.9 235.5,113.1 236.0,113.2 236.5,114.9 237.0,114.7 237.5,114.0 238.0,112.0 238.5,111.1 239.0,110.8 239.5,111.3 240.0,111.8 240.5,111.5 241.0,111.4 241.5,112.8 242.0,114.5 242.5,115.5 243.0,116.9 243.5,117.9 244.0,119.6 244.5,118.2 245.0,117.5 245.5,117.6 246.0,117.8 246.5,118.9 247.0,116.9 247.5,116.9 248.0,117.0 248.5,116.2 249.0,115.9 249.5,116.8 250.0,117.1 250.5,116.9 251.0,116.9 251.5,116.7 252.0,117.5 252.5,117.3 253.0,118.1 253.5,117.4 254.0,117.3 254.5,116.0 255.0,115.7 255.5,116.4 256.0,115.3 256.5,114.8 257.0,114.8 257.5,114.3 258.0,115.0 258.5,113.9 259.0,114.8 259.5,116.2 260.0,118.0 260.5,118.1 261.0,117.4 261.5,115.9 262.0,116.7 262.5,117.6 263.0,118.0 263.5,118.4 264.0,119.2 264.5,119.0 265.0,117.6 265.5,116.3 266.0,115.6 266.5,114.8 267.0,113.3 267.5,112.9 268.0,112.0 268.5,112.6 269.0,112.5 269.5,113.2 270.0,111.8 270.5,110.7 271.0,109.0 271.5,109.2 272.0,112.3 272.5,112.5 273.0,112.0 273.5,112.2 274.0,112.1 274.5,113.0 275.0,112.9 275.5,112.0 276.0,110.0 276.5,110.3 277.0,111.3 277.5,111.4 278.0,110.5 278.5,110.0 279.0,109.6 279.5,110.1 280.0,110.0 280.5,110.9 281.0,110.4 281.5,109.5 282.0,111.1 282.5,109.8 283.0,108.7 283.5,110.5 284.0,110.5 284.5,112.1 285.0,109.3 285.5,110.2 286.0,110.0 286.5,109.8 287.0,110.0 287.5,106.9 288.0,105.8 288.5,105.9 289.0,108.9 289.5,107.9 290.0,110.0 290.5,110.3 291.0,111.1 291.5,109.8 292.0,110.2 292.5,109.0 293.0,107.5 293.5,108.5 294.0,107.6 294.5,106.8 295.0,107.2 295.5,106.1 296.0,104.5 296.5,104.5 297.0,104.5 297.5,105.7 298.0,104.3 298.5,104.7 299.0,105.2 299.5,104.5 300.0,104.0 300.5,104.3 301.0,103.6 301.5,102.5 302.0,103.5 302.5,102.7 303.0,102.0 303.5,103.1 304.0,102.9 304.5,102.8 305.0,101.6 305.5,100.7 306.0,99.5 306.5,98.4 307.0,100.0 307.5,99.3 308.0,97.2 308.5,96.3 309.0,97.3 309.5,96.4 310.0,96.6 310.5,95.9 311.0,94.4 311.5,94.1 312.0,93.3 312.5,93.7 313.0,94.6 313.5,94.8 314.0,97.7 314.5,96.8 315.0,98.4 315.5,99.1 316.0,100.7 316.5,101.5 317.0,99.4 317.5,99.4 318.0,100.6 318.5,100.9 319.0,99.8 319.5,99.4 320.0,100.0 320.5,101.2 321.0,100.6 321.5,100.7 322.0,99.8 322.5,98.5 323.0,98.0 323.5,99.4 324.0,100.1 324.5,99.8 325.0,99.7 325.5,100.3 326.0,100.1 326.5,99.6 327.0,99.3 327.5,99.9 328.0,99.5 328.5,100.3 329.0,98.4 329.5,97.6 330.0,97.1 330.5,97.6 331.0,96.7 331.5,96.1 332.0,96.4 332.5,96.2 333.0,95.5 333.5,95.1 334.0,94.1 334.5,94.9 335.0,95.3 335.5,96.1 336.0,98.3 336.5,99.5 337.0,100.0 337.5,99.9 338.0,102.2 338.5,102.4 339.0,102.2 339.5,103.5 340.0,104.0 340.5,103.7 341.0,104.1 341.5,106.1 342.0,106.2 342.5,106.6 343.0,105.7 343.5,105.3 344.0,106.2 344.5,106.1 345.0,106.3 345.5,107.5 346.0,107.2 346.5,108.8 347.0,108.2 347.5,107.5 348.0,106.8 348.5,105.3 349.0,105.9 349.5,106.0 350.0,107.4 350.5,106.8 351.0,107.6 351.5,109.0 352.0,108.8 352.5,108.7 353.0,106.2 353.5,108.2 354.0,108.1 354.5,108.8 355.0,108.3 355.5,108.7 356.0,107.5 356.5,108.3 357.0,108.4 357.5,108.1 358.0,108.6 358.5,106.8 359.0,107.0 359.5,106.5 360.0,108.0 360.5,108.8 361.0,108.6 361.5,108.3 362.0,111.2 362.5,110.2 363.0,112.1 363.5,113.0 364.0,113.8 364.5,111.8 365.0,112.6 365.5,112.1 366.0,111.2 366.5,111.7 367.0,111.0 367.5,111.5 368.0,110.5 368.5,111.1 369.0,111.5 369.5,110.6 370.0,109.6 370.5,108.9 371.0,108.3 371.5,107.6 372.0,109.4 372.5,109.8 373.0,109.4 373.5,109.0 374.0,108.1 374.5,108.3 375.0,108.2 375.5,107.4 376.0,106.7 376.5,106.2 377.0,105.1 377.5,105.1 378.0,104.1 378.5,104.6 379.0,104.2 379.5,104.7 380.0,104.0 380.5,101.8 381.0,100.1 381.5,99.5 382.0,99.6 382.5,99.7 383.0,99.9 383.5,100.2 384.0,100.3 384.5,100.4 385.0,99.9 385.5,100.1 386.0,99.7 386.5,99.3 387.0,99.2 387.5,101.1 388.0,99.4 388.5,98.6 389.0,98.0 389.5,98.1 390.0,97.8 390.5,99.2 391.0,97.3 391.5,98.8 392.0,97.3 392.5,96.3 393.0,96.5 393.5,96.3 394.0,96.0 394.5,95.8 395.0,95.9 395.5,96.5 396.0,96.6 396.5,95.1 397.0,94.1 397.5,95.2 398.0,96.8 398.5,97.4 399.0,98.2 399.5,98.2 400.0,100.0 400.5,99.7 401.0,99.6 401.5,99.0 402.0,100.8 402.5,100.5 403.0,101.3 403.5,100.1 404.0,98.9 404.5,100.1 405.0,101.1 405.5,102.2 406.0,102.6 406.5,102.6 407.0,102.4 407.5,101.6 408.0,101.4 408.5,103.0 409.0,103.1 409.5,102.0 410.0,102.0 410.5,101.3 411.0,100.4 411.5,100.5 412.0,100.0 412.5,99.0 413.0,100.8 413.5,102.7 414.0,103.1 414.5,104.8 415.0,104.6 415.5,104.8 416.0,106.3 416.5,106.9 417.0,107.9 417.5,105.4 418.0,105.9 418.5,105.7 419.0,105.8 419.5,104.5 420.0,104.0 420.5,104.4 421.0,104.9 421.5,105.5 422.0,106.1 422.5,107.1 423.0,107.3 423.5,106.9 423.9,106.1 424.4,105.5 424.9,104.4 425.4,103.2 425.9,103.0 426.4,100.5 426.9,99.1 427.4,98.2 427.9,98.5 428.4,99.4 428.9,99.6 429.4,99.4 429.9,98.7 430.4,99.6 430.8,100.2 431.3,99.3 431.8,99.2 432.3,99.4 432.8,100.1 433.3,99.7 433.8,101.0 434.3,102.0"/><polyline points="200.5,85.9 201.0,86.8 201.5,85.3 202.0,84.6 202.5,85.7 203.0,85.8 203.5,86.1 204.0,86.0 204.5,85.9 205.0,86.7 205.5,86.1 206.0,86.3 206.5,86.7 207.0,86.1 207.5,86.3 208.0,86.8 208.5,88.8 209.0,89.1 209.5,88.2 210.0,89.1 210.5,90.0 211.0,91.4 211.5,90.7 212.0,90.8 212.5,91.6 213.0,90.5 213.5,90.8 214.0,92.4 214.5,91.8 215.0,91.5 215.5,92.5 216.0,92.8 216.5,91.6 217.0,91.7 217.5,91.7 218.0,93.0 218.5,94.6 219.0,94.2 219.5,93.5 220.0,92.0 220.5,92.2 221.0,93.1 221.5,93.6 222.0,93.6 222.5,92.6 223.0,92.8 223.5,90.0 224.0,92.2 224.5,92.8 225.0,92.9 225.5,91.6 226.0,91.8 226.5,94.1 227.0,93.7 227.5,92.8 228.0,92.2 228.5,92.1 229.0,92.5 229.5,91.5 230.0,90.3 230.5,88.5 231.0,88.9 231.5,89.8 232.0,89.4 232.5,90.8 233.0,91.0 233.5,89.5 234.0,89.2 234.5,89.9 235.0,90.9 235.5,90.3 236.0,89.3 236.5,89.6 237.0,88.0 237.5,88.3 238.0,89.3 238.5,89.8 239.0,91.5 239.5,89.5 240.0,89.0 240.5,90.6 241.0,89.6 241.5,91.8 242.0,92.9 242.5,92.5 243.0,92.4 243.5,92.5 244.0,96.3 244.5,96.9 245.0,95.4 245.5,91.8 246.0,94.2 246.5,94.6 247.0,94.2 247.5,94.2 248.0,93.8 248.5,90.8 249.0,91.7 249.5,90.7 250.0,93.7 250.5,91.8 251.0,90.9 251.5,91.9 252.0,91.5 252.5,89.2 253.0,85.2 253.5,84.7 254.0,86.5 254.5,88.0 255.0,88.6 255.5,88.6 256.0,86.4 256.5,88.7 257.0,88.2 257.5,88.3 258.0,89.8 258.5,91.1 258.9,90.3 259.4,88.3 259.9,88.0 260.4,87.8 260.9,86.6 261.4,85.4 261.9,85.5 262.4,89.2 262.9,89.6 263.4,90.7 263.9,92.3 264.4,87.7 264.9,87.1 265.4,86.9 265.9,84.3 266.4,82.6 266.9,81.4 267.4,80.4 267.9,81.6 268.4,80.1 268.9,77.9 269.4,77.9 269.9,77.6 270.4,79.4 270.9,80.4 271.4,80.8 271.9,80.2 272.4,80.3 272.9,81.6 273.4,80.7 273.9,79.0 274.4,78.4 274.9,77.4 275.4,77.4 275.9,78.0 276.4,77.8 276.9,77.0 277.4,78.7 277.9,77.7 278.4,80.3 278.9,78.9 279.4,77.9 279.9,78.3 280.4,79.1 280.9,78.0 281.4,79.5 281.9,78.5 282.4,78.4 282.9,80.6 283.4,77.9 283.9,79.7 284.4,78.4 284.9,79.3 285.4,79.2 285.9,78.8 286.4,79.3 286.9,79.8 287.4,81.0 287.9,82.1 288.4,82.4 288.9,79.7 289.4,78.7 289.9,78.8 290.4,79.2 290.9,81.5 291.4,82.1 291.9,81.6 292.4,80.7 292.9,79.4 293.4,81.8 293.9,81.3 294.4,80.0 294.9,78.4 295.4,78.2 295.9,78.9 296.4,80.7 296.9,79.5 297.4,78.8 297.9,78.9 298.4,78.7 298.9,79.8 299.4,79.4 299.9,82.5 300.4,81.5 300.9,77.6 301.4,76.3 301.9,74.5 302.4,75.9 302.9,77.5 303.4,76.9 303.9,77.3 304.4,76.9 304.9,76.0 305.4,74.1 305.9,74.7 306.4,74.3 306.9,73.3 307.4,70.5 307.9,70.5 308.4,69.1 308.9,69.1 309.4,68.7 309.9,68.2 310.4,69.0 310.9,69.7 311.4,69.3 311.9,69.6 312.4,69.2 312.9,68.1 313.4,68.8 313.9,67.7 314.4,66.4 314.9,66.2 315.4,67.1 315.9,66.3 316.4,67.0 316.9,68.3 317.4,69.6 317.9,69.7 318.4,71.4 318.9,71.5 319.4,70.1 319.9,69.9 320.4,68.9 320.9,67.6 321.4,68.0 321.9,68.5 322.4,68.8 322.9,68.9 323.4,67.9 323.9,67.7 324.4,67.9 324.9,67.5 325.4,67.0 325.9,68.5 326.4,68.0 326.9,67.6 327.4,68.5 327.9,69.2 328.4,68.6 328.9,68.5 329.4,68.4 329.9,68.4 330.4,69.4 330.9,68.8 331.4,68.5 331.9,68.5 332.4,70.1 332.9,71.6 333.4,70.1 333.9,70.5 334.4,69.6 334.9,70.4 335.4,71.7 335.9,71.1 336.4,70.6 336.9,70.6 337.4,70.8 337.9,70.3 338.4,70.9 338.9,70.5 339.4,71.3 339.9,72.1 340.4,71.8 340.9,70.4 341.4,68.0 341.9,68.7 342.4,69.7 342.9,67.9 343.4,67.7 343.9,68.8 344.4,68.4 344.9,66.7 345.4,68.0 345.9,66.9 346.4,67.8 346.9,67.9 347.4,67.8 347.9,67.8 348.4,67.7 348.9,69.0 349.4,68.3 349.9,68.5 350.4,69.5 350.9,69.8 351.4,70.7 351.9,71.0 352.4,72.8 352.9,72.4 353.4,73.3 353.9,72.7 354.4,73.2 354.9,73.9 355.4,73.5 355.9,74.9 356.4,76.7 356.9,75.6 357.4,76.2 357.9,77.9 358.4,75.7 358.9,76.1 359.4,75.1 359.9,77.4 360.4,75.9 360.9,75.2 361.4,74.4 361.9,74.0 362.4,74.2 362.9,76.3 363.4,78.6 363.9,78.4 364.4,80.2 364.9,81.1 365.4,82.4 365.9,82.3 366.4,82.7 366.9,82.5 367.4,82.7 367.9,84.0 368.4,86.1 368.9,85.2 369.4,86.7 369.9,88.2 370.4,87.1 370.9,86.4 371.4,86.5 371.9,87.8 372.4,90.3 372.9,92.6 373.4,91.6 373.9,88.9 374.4,88.5 374.9,88.5 375.4,87.5 375.9,88.6 376.3,86.0 376.8,87.8 377.3,88.5 377.8,90.1 378.3,94.8 378.8,96.3 379.3,100.2 379.8,97.3 380.3,98.6 380.8,100.1 381.3,100.5 381.8,101.7 382.3,100.2 382.8,103.3 383.3,103.4 383.8,103.8 384.3,105.5 384.8,103.8 385.3,101.5 385.8,100.8 386.3,100.5 386.8,101.5 387.3,99.6 387.8,99.0 388.3,101.2 388.8,101.1 389.3,101.6 389.8,101.7 390.3,103.6 390.8,105.3 391.3,106.3 391.8,105.0 392.3,105.1 392.8,103.6 393.3,102.9 393.8,103.5 394.3,102.8 394.8,103.3 395.3,105.7 395.8,105.6 396.3,105.5 396.8,104.4 397.3,102.9 397.8,103.1 398.3,103.3 398.8,99.0 399.3,97.4 399.8,96.9 400.3,99.0 400.8,97.8 401.3,98.2 401.8,99.1 402.3,100.1 402.8,98.0 403.3,99.9 403.8,103.4 404.3,100.0 404.8,100.8 405.3,101.1 405.8,101.0 406.3,101.9 406.8,103.7 407.3,106.4 407.8,108.6 408.3,110.2 408.8,111.4 409.3,112.2 409.8,113.4 410.3,112.2 410.8,114.0 411.3,113.7 411.8,113.5 412.3,112.6 412.8,113.4 413.3,111.9 413.8,112.3 414.3,111.4 414.8,110.3 415.3,108.4 415.8,105.3 416.3,106.1 416.8,104.4 417.3,104.0 417.8,103.7 418.3,101.9 418.8,100.1 419.3,99.4 419.8,99.8 420.3,95.9 420.8,94.2 421.3,95.3 421.8,98.2 422.3,98.5 422.8,100.0 423.3,98.3 423.8,99.2 424.3,100.9 424.8,101.0 425.3,98.7 425.8,100.3 426.3,100.8 426.8,102.8 427.3,101.1 427.8,100.7 428.3,101.8 428.8,104.3 429.3,106.1 429.8,105.7 430.3,103.8 430.8,104.4 431.3,103.3 431.8,101.5 432.3,102.3 432.8,105.3 433.3,110.4 433.8,111.7 434.3,115.3"/><polyline points="200.5,88.9 201.0,89.5 201.5,90.0 202.0,89.8 202.5,89.8 203.0,90.1 203.5,89.0 204.0,88.4 204.5,87.8 205.0,88.7 205.5,88.9 206.0,89.4 206.5,88.3 207.0,89.7 207.5,89.2 208.0,89.5 208.5,89.6 209.0,90.9 209.5,89.4 210.0,89.9 210.5,90.8 211.0,90.7 211.5,89.7 212.0,88.6 212.5,89.9 213.0,90.8 213.5,90.0 214.0,90.0 214.5,89.8 215.0,90.5 215.5,92.2 216.0,92.9 216.5,93.5 217.0,93.8 217.5,92.2 218.0,91.8 218.5,91.2 219.0,93.3 219.5,93.3 220.0,91.5 220.5,89.4 221.0,87.4 221.5,86.7 222.0,85.9 222.5,84.6 223.0,85.2 223.5,85.5 224.0,87.9 224.5,88.7 225.0,87.3 225.5,87.6 226.0,88.6 226.5,89.4 227.0,87.7 227.5,88.4 228.0,87.6 228.5,88.5 229.0,90.5 229.5,91.2 230.0,88.0 230.5,90.1 231.0,90.3 231.5,91.9 232.0,93.3 232.5,91.8 233.0,90.2 233.5,91.4 234.0,91.4 234.5,90.0 235.0,90.1 235.5,86.9 236.0,86.2 236.5,86.4 237.0,85.8 237.5,86.1 238.0,86.5 238.5,84.1 239.0,85.3 239.5,84.6 240.0,84.8 240.5,84.2 241.0,83.2 241.5,84.9 242.0,85.0 242.5,84.6 243.0,83.5 243.5,85.4 244.0,83.5 244.5,86.5 245.0,86.4 245.5,87.8 246.0,86.2 246.5,85.3 247.0,87.2 247.5,85.2 248.0,85.2 248.5,85.2 249.0,86.6 249.5,84.3 250.0,83.3 250.5,84.0 251.0,83.3 251.5,85.0 252.0,84.1 252.5,83.5 253.0,85.6 253.5,85.6 254.0,88.2 254.5,89.0 255.0,89.6 255.5,87.1 256.0,86.9 256.5,87.2 257.0,87.1 257.5,90.2 258.0,90.7 258.5,88.7 258.9,88.4 259.4,86.4 259.9,84.3 260.4,83.6 260.9,83.6 261.4,83.6 261.9,83.6 262.4,84.4 262.9,87.5 263.4,87.0 263.9,86.6 264.4,86.5 264.9,84.7 265.4,83.8 265.9,84.6 266.4,85.0 266.9,83.2 267.4,85.3 267.9,85.7 268.4,87.0 268.9,88.5 269.4,87.4 269.9,88.7 270.4,88.7 270.9,87.8 271.4,87.0 271.9,85.6 272.4,84.5 272.9,86.2 273.4,84.3 273.9,82.3 274.4,83.9 274.9,83.8 275.4,84.2 275.9,83.7 276.4,84.0 276.9,82.6 277.4,79.5 277.9,79.4 278.4,79.0 278.9,79.4 279.4,78.2 279.9,77.2 280.4,77.0 280.9,76.1 281.4,75.8 281.9,76.2 282.4,76.3 282.9,75.0 283.4,75.3 283.9,75.0 284.4,75.6 284.9,76.2 285.4,76.5 285.9,77.7 286.4,76.4 286.9,77.0 287.4,77.7 287.9,80.2 288.4,78.8 288.9,79.3 289.4,77.5 289.9,76.4 290.4,75.9 290.9,78.5 291.4,80.0 291.9,80.6 292.4,80.8 292.9,79.7 293.4,82.1 293.9,80.9 294.4,79.4 294.9,78.7 295.4,79.0 295.9,77.7 296.4,80.0 296.9,77.1 297.4,78.6 297.9,80.5 298.4,82.1 298.9,81.0 299.4,80.6 299.9,81.9 300.4,80.3 300.9,80.7 301.4,78.4 301.9,78.2 302.4,78.6 302.9,78.1 303.4,80.5 303.9,79.2 304.4,78.9 304.9,78.3 305.4,78.4 305.9,78.1 306.4,76.9 306.9,76.1 307.4,79.0 307.9,79.3 308.4,82.2 308.9,82.9 309.4,82.0 309.9,84.5 310.4,83.0 310.9,82.2 311.4,81.6 311.9,78.8 312.4,78.1 312.9,76.6 313.4,77.9 313.9,78.2 314.4,80.5 314.9,80.0 315.4,80.9 315.9,81.2 316.4,77.9 316.9,78.9 317.4,77.7 317.9,77.9 318.4,77.9 318.9,76.6 319.4,77.2 319.9,77.3 320.4,76.1 320.9,77.4 321.4,77.0 321.9,78.2 322.4,77.7 322.9,75.7 323.4,73.9 323.9,74.6 324.4,73.2 324.9,74.1 325.4,71.8 325.9,72.9 326.4,72.9 326.9,73.9 327.4,73.9 327.9,73.3 328.4,73.9 328.9,74.3 329.4,77.2 329.9,78.8 330.4,76.7 330.9,77.1 331.4,74.8 331.9,74.9 332.4,77.5 332.9,77.9 333.4,77.5 333.9,78.0 334.4,75.4 334.9,76.1 335.4,76.0 335.9,75.3 336.4,76.6 336.9,78.0 337.4,80.3 337.9,80.8 338.4,81.3 338.9,81.9 339.4,81.7 339.9,83.3 340.4,83.2 340.9,84.4 341.4,85.3 341.9,87.1 342.4,85.8 342.9,83.3 343.4,82.8 343.9,84.5 344.4,82.4 344.9,82.8 345.4,81.7 345.9,81.9 346.4,85.0 346.9,85.9 347.4,88.4 347.9,85.7 348.4,85.4 348.9,87.1 349.4,85.0 349.9,85.2 350.4,82.6 350.9,81.8 351.4,83.0 351.9,81.4 352.4,82.7 352.9,84.5 353.4,84.0 353.9,81.2 354.4,77.2 354.9,74.5 355.4,74.6 355.9,75.4 356.4,75.3 356.9,76.3 357.4,74.5 357.9,75.1 358.4,73.2 358.9,72.0 359.4,71.5 359.9,69.9 360.4,70.8 360.9,71.5 361.4,71.0 361.9,69.5 362.4,69.2 362.9,69.9 363.4,69.5 363.9,69.8 364.4,70.9 364.9,71.8 365.4,70.7 365.9,71.8 366.4,72.2 366.9,71.1 367.4,71.7 367.9,71.8 368.4,70.4 368.9,71.6 369.4,73.0 369.9,72.3 370.4,72.0 370.9,71.5 371.4,69.3 371.9,69.9 372.4,70.1 372.9,69.7 373.4,70.6 373.9,70.3 374.4,70.3 374.9,70.3 375.4,70.7 375.9,71.8 376.3,71.2 376.8,73.6 377.3,73.3 377.8,73.4 378.3,74.4 378.8,74.1 379.3,74.2 379.8,73.0 380.3,73.8 380.8,73.2 381.3,72.9 381.8,72.3 382.3,71.6 382.8,71.9 383.3,71.8 383.8,71.9 384.3,70.8 384.8,73.1 385.3,73.0 385.8,73.6 386.3,75.2 386.8,75.3 387.3,74.9 387.8,73.5 388.3,74.4 388.8,73.7 389.3,70.6 389.8,71.7 390.3,71.3 390.8,71.7 391.3,71.7 391.8,72.6 392.3,73.9 392.8,74.0 393.3,73.4 393.8,73.7 394.3,70.6 394.8,71.2 395.3,69.6 395.8,71.0 396.3,70.6 396.8,70.3 397.3,69.3 397.8,71.3 398.3,70.0 398.8,69.8 399.3,68.9 399.8,68.1 400.3,69.3 400.8,69.6 401.3,71.6 401.8,72.2 402.3,72.2 402.8,74.3 403.3,73.3 403.8,72.2 404.3,73.4 404.8,74.6 405.3,73.3 405.8,73.1 406.3,72.5 406.8,73.6 407.3,76.0 407.8,74.5 408.3,76.0 408.8,75.7 409.3,76.2 409.8,75.7 410.3,70.9 410.8,73.7 411.3,74.0 411.8,75.4 412.3,75.7 412.8,74.1 413.3,71.8 413.8,74.7 414.3,75.7 414.8,78.9 415.3,78.3 415.8,80.2 416.3,80.9 416.8,78.6 417.3,76.9 417.8,77.8 418.3,78.1 418.8,76.7 419.3,76.2 419.8,77.6 420.3,80.2 420.8,78.8 421.3,79.7 421.8,80.9 422.3,78.4 422.8,76.3 423.3,79.0 423.8,80.1 424.3,78.7 424.8,80.1 425.3,79.8 425.8,80.0 426.3,82.0 426.8,81.1 427.3,82.6 427.8,84.0 428.3,84.5 428.8,84.9 429.3,85.6 429.8,85.7 430.3,84.4 430.8,82.2 431.3,82.0 431.8,82.5 432.3,82.0 432.8,87.5 433.3,90.1 433.8,93.0 434.3,92.7"/><polyline points="200.5,93.0 201.0,93.6 201.5,94.8 202.0,95.1 202.5,95.8 203.0,94.2 203.5,92.8 204.0,94.4 204.5,95.1 205.0,95.6 205.5,95.8 206.0,96.1 206.5,95.7 207.0,96.3 207.5,95.2 208.0,95.8 208.5,96.5 209.0,96.0 209.5,97.1 210.0,96.8 210.5,97.3 211.0,98.3 211.5,97.6 212.0,96.8 212.5,95.7 213.0,95.5 213.5,96.0 214.0,96.7 214.5,95.8 215.0,93.7 215.5,95.9 216.0,95.3 216.5,96.6 217.0,96.9 217.5,96.2 218.0,95.6 218.5,95.1 219.0,95.7 219.5,96.1 220.0,96.2 220.5,96.7 221.0,95.8 221.5,97.2 222.0,99.7 222.5,96.9 223.0,98.6 223.5,98.0 224.0,96.6 224.5,97.5 225.0,95.3 225.5,96.3 226.0,96.9 226.5,97.1 227.0,96.3 227.5,94.1 228.0,93.8 228.5,95.4 229.0,96.3 229.5,95.4 230.0,92.8 230.5,94.7 231.0,95.8 231.5,94.7 232.0,92.7 232.5,94.4 233.0,93.7 233.5,92.9 234.0,92.4 234.5,93.2 235.0,94.7 235.5,94.8 236.0,93.8 236.5,94.2 237.0,95.5 237.5,94.3 238.0,95.1 238.5,95.1 239.0,94.1 239.5,96.0 240.0,98.8 240.5,99.7 241.0,100.7 241.5,102.0 242.0,101.4 242.5,101.7 243.0,100.4 243.5,100.3 244.0,102.9 244.5,104.4 245.0,104.8 245.5,106.4 246.0,106.5 246.5,105.4 247.0,105.4 247.5,105.5 248.0,106.4 248.5,105.4 249.0,103.5 249.5,104.1 250.0,103.1 250.5,104.0 251.0,102.9 251.5,103.5 252.0,102.6 252.5,103.0 253.0,103.1 253.5,103.5 254.0,103.7 254.5,103.4 255.0,103.9 255.5,105.3 256.0,106.6 256.5,104.6 257.0,105.3 257.5,105.1 258.0,102.9 258.5,103.0 258.9,102.8 259.4,104.5 259.9,103.9 260.4,103.3 260.9,103.2 261.4,102.7 261.9,104.7 262.4,103.8 262.9,103.0 263.4,102.3 263.9,100.2 264.4,100.1 264.9,98.0 265.4,99.9 265.9,98.8 266.4,99.0 266.9,101.1 267.4,101.7 267.9,101.6 268.4,102.1 268.9,104.8 269.4,105.1 269.9,105.1 270.4,105.3 270.9,105.5 271.4,103.7 271.9,102.7 272.4,105.3 272.9,106.8 273.4,108.0 273.9,109.6 274.4,110.6 274.9,112.1 275.4,112.0 275.9,111.1 276.4,110.7 276.9,111.7 277.4,112.8 277.9,113.2 278.4,112.5 278.9,112.5 279.4,111.6 279.9,111.8 280.4,112.7 280.9,112.4 281.4,111.8 281.9,110.7 282.4,110.2 282.9,110.5 283.4,110.8 283.9,111.4 284.4,111.1 284.9,112.4 285.4,113.2 285.9,112.5 286.4,112.5 286.9,111.1 287.4,109.1 287.9,111.4 288.4,111.8 288.9,111.9 289.4,112.8 289.9,112.9 290.4,112.7 290.9,113.3 291.4,112.1 291.9,111.7 292.4,110.9 292.9,110.9 293.4,111.9 293.9,111.3 294.4,112.2 294.9,111.5 295.4,111.1 295.9,110.4 296.4,110.7 296.9,113.0 297.4,112.9 297.9,112.3 298.4,111.3 298.9,111.5 299.4,111.2 299.9,112.9 300.4,112.2 300.9,112.9 301.4,113.4 301.9,113.3 302.4,114.0 302.9,113.9 303.4,114.2 303.9,113.6 304.4,114.2 304.9,113.1 305.4,113.8 305.9,113.2 306.4,113.0 306.9,113.5 307.4,113.5 307.9,112.6 308.4,112.8 308.9,113.1 309.4,113.1 309.9,112.6 310.4,111.6 310.9,111.8 311.4,112.6 311.9,112.7 312.4,113.6 312.9,114.0 313.4,113.2 313.9,112.8 314.4,113.2 314.9,113.0 315.4,113.3 315.9,113.1 316.4,113.2 316.9,111.9 317.4,111.0 317.9,110.6 318.4,110.4 318.9,110.0 319.4,109.3 319.9,108.5 320.4,109.1 320.9,109.0 321.4,109.8 321.9,109.2 322.4,108.7 322.9,106.2 323.4,107.4 323.9,107.1 324.4,108.3 324.9,109.7 325.4,111.1 325.9,111.1 326.4,111.1 326.9,112.6 327.4,113.4 327.9,113.8 328.4,114.9 328.9,114.9 329.4,112.9 329.9,112.3 330.4,112.2 330.9,113.3 331.4,113.1 331.9,113.4 332.4,112.8 332.9,111.9 333.4,112.3 333.9,112.5 334.4,114.2 334.9,115.1 335.4,115.4 335.9,114.5 336.4,114.2 336.9,114.3 337.4,113.6 337.9,114.2 338.4,114.4 338.9,113.6 339.4,113.6 339.9,112.4 340.4,112.2 340.9,111.0 341.4,111.9 341.9,111.7 342.4,112.1 342.9,110.5 343.4,112.2 343.9,113.8 344.4,113.7 344.9,113.9 345.4,114.2 345.9,113.6 346.4,114.2 346.9,114.0 347.4,114.1 347.9,113.7 348.4,112.8 348.9,111.4 349.4,112.2 349.9,112.9 350.4,112.0 350.9,111.1 351.4,110.7 351.9,109.4 352.4,109.2 352.9,110.4 353.4,110.9 353.9,111.7 354.4,112.2 354.9,112.2 355.4,112.7 355.9,113.2 356.4,110.7 356.9,111.8 357.4,112.8 357.9,112.7 358.4,113.9 358.9,114.1 359.4,113.9 359.9,112.4 360.4,113.5 360.9,112.8 361.4,112.4 361.9,112.4 362.4,113.2 362.9,111.4 363.4,113.5 363.9,113.5 364.4,113.3 364.9,113.8 365.4,114.1 365.9,114.6 366.4,113.7 366.9,114.8 367.4,114.9 367.9,113.9 368.4,114.4 368.9,114.1 369.4,113.3 369.9,114.4 370.4,113.7 370.9,114.5 371.4,114.8 371.9,114.2 372.4,113.9 372.9,113.6 373.4,113.9 373.9,114.7 374.4,114.2 374.9,114.3 375.4,114.1 375.9,113.6 376.3,114.7 376.8,115.9 377.3,116.8 377.8,117.0 378.3,116.8 378.8,116.0 379.3,116.4 379.8,116.1 380.3,117.0 380.8,117.4 381.3,117.9 381.8,117.5 382.3,116.8 382.8,117.3 383.3,117.2 383.8,117.0 384.3,116.3 384.8,115.8 385.3,116.0 385.8,116.0 386.3,116.3 386.8,115.3 387.3,114.1 387.8,115.5 388.3,116.4 388.8,116.4 389.3,115.7 389.8,115.8 390.3,115.0 390.8,114.2 391.3,113.2 391.8,113.6 392.3,112.7 392.8,111.7 393.3,109.9 393.8,110.4 394.3,110.7 394.8,110.8 395.3,110.2 395.8,110.6 396.3,110.2 396.8,111.4 397.3,110.1 397.8,109.1 398.3,108.2 398.8,108.0 399.3,108.9 399.8,108.3 400.3,109.2 400.8,108.4 401.3,109.7 401.8,107.8 402.3,107.9 402.8,105.5 403.3,104.3 403.8,104.3 404.3,104.8 404.8,104.8 405.3,101.0 405.8,99.7 406.3,99.0 406.8,97.5 407.3,96.3 407.8,95.3 408.3,96.9 408.8,96.4 409.3,96.1 409.8,97.9 410.3,93.7 410.8,92.0 411.3,92.0 411.8,92.2 412.3,90.9 412.8,92.5 413.3,91.2 413.8,90.5 414.3,89.7 414.8,90.1 415.3,89.5 415.8,89.5 416.3,86.9 416.8,85.1 417.3,88.0 417.8,85.8 418.3,87.7 418.8,85.8 419.3,87.8 419.8,86.6 420.3,87.1 420.8,87.5 421.3,87.1 421.8,87.3 422.3,84.1 422.8,81.2 423.3,81.2 423.8,81.4 424.3,80.0 424.8,79.2 425.3,81.2 425.8,82.7 426.3,82.6 426.8,85.0 427.3,89.5 427.8,91.2 428.3,89.7 428.8,88.0 429.3,87.0 429.8,89.1 430.3,87.0 430.8,91.4 431.3,89.0 431.8,87.9 432.3,85.0 432.8,84.6 433.3,84.5 433.8,85.9 434.3,87.3"/><polyline points="200.5,88.5 201.0,86.5 201.5,86.8 202.0,86.6 202.5,86.6 203.0,86.5 203.5,87.0 204.0,86.9 204.5,86.6 205.0,86.4 205.5,85.2 206.0,85.7 206.5,86.0 207.0,86.0 207.5,86.5 208.0,86.0 208.5,86.7 209.0,86.4 209.5,85.9 210.0,87.0 210.5,86.4 211.0,86.1 211.5,85.9 212.0,85.4 212.5,85.4 213.0,84.6 213.5,84.7 214.0,84.3 214.5,83.8 215.0,82.9 215.5,84.0 216.0,84.4 216.5,83.1 217.0,82.8 217.5,81.8 218.0,82.1 218.5,81.4 219.0,81.8 219.5,83.8 220.0,83.0 220.5,82.2 221.0,80.7 221.5,79.6 222.0,80.2 222.5,80.3 223.0,80.6 223.5,79.2 224.0,80.1 224.5,78.5 225.0,78.1 225.5,77.1 226.0,77.4 226.5,77.0 227.0,76.9 227.5,75.4 228.0,74.9 228.5,75.9 229.0,76.5 229.5,77.4 230.0,76.5 230.5,74.7 231.0,74.9 231.5,76.2 232.0,77.1 232.5,77.6 233.0,76.4 233.5,75.6 234.0,75.9 234.5,75.1 235.0,75.4 235.5,76.2 236.0,77.1 236.5,77.3 237.0,78.9 237.5,79.8 238.0,81.6 238.5,80.7 239.0,79.6 239.5,80.3 240.0,80.8 240.5,82.9 241.0,81.7 241.5,82.1 242.0,81.9 242.5,84.4 243.0,86.2 243.5,85.8 244.0,86.3 244.5,85.9 245.0,85.2 245.5,85.8 246.0,86.7 246.5,87.8 247.0,84.4 247.5,83.8 248.0,85.0 248.5,87.4 249.0,87.7 249.5,88.2 250.0,88.9 250.5,92.5 251.0,94.3 251.5,92.0 252.0,90.6 252.5,91.6 253.0,91.1 253.5,92.5 254.0,92.0 254.5,91.7 255.0,92.5 255.5,89.6 256.0,90.2 256.5,90.2 257.0,88.9 257.5,90.8 258.0,90.2 258.5,94.3 258.9,91.7 259.4,93.4 259.9,92.7 260.4,91.2 260.9,90.8 261.4,90.4 261.9,91.5 262.4,92.2 262.9,91.3 263.4,93.0 263.9,93.6 264.4,91.7 264.9,93.9 265.4,94.7 265.9,92.9 266.4,95.7 266.9,95.8 267.4,95.8 267.9,93.4 268.4,93.9 268.9,91.4 269.4,90.6 269.9,92.6 270.4,92.0 270.9,91.2 271.4,87.5 271.9,88.6 272.4,87.2 272.9,87.1 273.4,87.9 273.9,89.9 274.4,89.9 274.9,90.3 275.4,89.9 275.9,88.5 276.4,90.5 276.9,88.2 277.4,88.3 277.9,87.1 278.4,88.9 278.9,88.6 279.4,89.0 279.9,89.0 280.4,90.1 280.9,90.1 281.4,89.2 281.9,88.6 282.4,84.7 282.9,85.2 283.4,86.3 283.9,86.8 284.4,89.8 284.9,88.6 285.4,84.9 285.9,86.3 286.4,83.2 286.9,84.9 287.4,84.8 287.9,84.5 288.4,84.0 288.9,83.2 289.4,83.7 289.9,84.2 290.4,79.5 290.9,79.7 291.4,78.0 291.9,78.3 292.4,80.0 292.9,80.0 293.4,79.5 293.9,80.1 294.4,80.1 294.9,79.6 295.4,78.7 295.9,79.7 296.4,80.3 296.9,77.9 297.4,77.9 297.9,75.6 298.4,76.5 298.9,73.5 299.4,72.9 299.9,74.9 300.4,72.8 300.9,73.5 301.4,75.3 301.9,75.6 302.4,77.3 302.9,77.8 303.4,75.9 303.9,74.7 304.4,75.5 304.9,74.7 305.4,74.8 305.9,73.5 306.4,71.6 306.9,68.7 307.4,69.9 307.9,69.2 308.4,68.6 308.9,68.9 309.4,68.6 309.9,67.7 310.4,67.8 310.9,68.6 311.4,68.1 311.9,68.1 312.4,68.9 312.9,68.3 313.4,67.9 313.9,68.5 314.4,69.5 314.9,72.7 315.4,72.4 315.9,71.7 316.4,72.8 316.9,72.9 317.4,73.5 317.9,72.8 318.4,73.3 318.9,75.1 319.4,73.3 319.9,73.6 320.4,72.0 320.9,72.0 321.4,71.6 321.9,70.3 322.4,72.9 322.9,73.5 323.4,74.6 323.9,76.6 324.4,79.4 324.9,78.6 325.4,78.8 325.9,78.9 326.4,78.5 326.9,79.0 327.4,79.7 327.9,80.1 328.4,81.6 328.9,83.1 329.4,83.0 329.9,83.5 330.4,80.4 330.9,81.4 331.4,81.0 331.9,80.7 332.4,80.0 332.9,81.6 333.4,81.6 333.9,80.8 334.4,81.7 334.9,81.9 335.4,80.8 335.9,82.4 336.4,80.9 336.9,83.1 337.4,83.2 337.9,83.0 338.4,82.3 338.9,81.1 339.4,82.3 339.9,81.7 340.4,81.0 340.9,79.3 341.4,79.7 341.9,81.9 342.4,81.6 342.9,82.1 343.4,81.2 343.9,82.9 344.4,81.9 344.9,82.9 345.4,83.3 345.9,87.8 346.4,86.4 346.9,89.3 347.4,86.9 347.9,86.7 348.4,88.1 348.9,87.6 349.4,90.1 349.9,94.0 350.4,95.0 350.9,94.1 351.4,90.9 351.9,88.0 352.4,87.3 352.9,89.0 353.4,91.0 353.9,91.2 354.4,89.5 354.9,88.0 355.4,87.5 355.9,91.0 356.4,91.3 356.9,86.3 357.4,86.6 357.9,87.7 358.4,84.4 358.9,86.2 359.4,86.0 359.9,86.1 360.4,84.5 360.9,83.9 361.4,84.1 361.9,83.9 362.4,86.0 362.9,87.2 363.4,90.1 363.9,88.7 364.4,88.4 364.9,88.7 365.4,89.4 365.9,91.7 366.4,93.6 366.9,92.8 367.4,91.4 367.9,92.3 368.4,95.4 368.9,96.7 369.4,94.7 369.9,95.4 370.4,94.7 370.9,95.1 371.4,96.8 371.9,99.2 372.4,95.7 372.9,98.5 373.4,99.7 373.9,99.6 374.4,94.9 374.9,94.6 375.4,93.2 375.9,92.0 376.3,89.8 376.8,91.8 377.3,91.2 377.8,90.5 378.3,88.9 378.8,89.4 379.3,87.6 379.8,92.3 380.3,93.2 380.8,91.3 381.3,91.6 381.8,90.2 382.3,89.9 382.8,89.8 383.3,91.3 383.8,96.8 384.3,94.0 384.8,92.5 385.3,91.9 385.8,93.2 386.3,93.0 386.8,94.9 387.3,93.4 387.8,92.9 388.3,95.3 388.8,97.0 389.3,100.0 389.8,102.1 390.3,102.2 390.8,100.7 391.3,103.2 391.8,101.5 392.3,101.0 392.8,98.7 393.3,97.4 393.8,95.2 394.3,96.0 394.8,92.8 395.3,90.5 395.8,91.2 396.3,93.3 396.8,91.9 397.3,89.1 397.8,87.8 398.3,92.4 398.8,91.9 399.3,89.9 399.8,88.6 400.3,89.1 400.8,89.0 401.3,86.7 401.8,86.6 402.3,84.8 402.8,88.6 403.3,90.8 403.8,88.5 404.3,88.6 404.8,88.3 405.3,88.1 405.8,88.0 406.3,85.5 406.8,84.7 407.3,82.1 407.8,82.7 408.3,82.1 408.8,81.6 409.3,79.0 409.8,79.5 410.3,80.7 410.8,77.4 411.3,78.2 411.8,78.9 412.3,79.4 412.8,79.2 413.3,78.5 413.8,78.3 414.3,74.2 414.8,75.6 415.3,75.5 415.8,75.6 416.3,74.2 416.8,75.1 417.3,77.9 417.8,76.7 418.3,75.3 418.8,78.9 419.3,78.8 419.8,78.9 420.3,76.7 420.8,78.1 421.3,76.5 421.8,77.2 422.3,79.0 422.8,80.7 423.3,82.0 423.8,80.2 424.3,81.8 424.8,81.2 425.3,82.0 425.8,80.0 426.3,78.2 426.8,75.8 427.3,76.6 427.8,77.4 428.3,74.8 428.8,77.7 429.3,79.7 429.8,79.3 430.3,82.7 430.8,82.6 431.3,85.5 431.8,88.8 432.3,91.6 432.8,86.1 433.3,79.7 433.8,74.0 434.3,71.7"/><polyline points="200.5,85.8 201.0,85.3 201.5,85.4 202.0,85.3 202.5,85.2 203.0,85.9 203.5,88.0 204.0,87.2 204.5,87.5 205.0,88.1 205.5,87.8 206.0,86.7 206.5,86.0 207.0,85.5 207.5,86.2 208.0,86.3 208.5,86.3 209.0,86.8 209.5,88.0 210.0,86.9 210.5,88.0 211.0,87.1 211.5,89.1 212.0,86.9 212.5,86.1 213.0,84.9 213.5,85.2 214.0,84.3 214.5,84.6 215.0,86.6 215.5,86.2 216.0,85.8 216.5,85.8 217.0,86.7 217.5,88.5 218.0,87.0 218.5,86.2 219.0,85.8 219.5,85.9 220.0,88.0 220.5,88.0 221.0,87.4 221.5,86.5 222.0,85.8 222.5,85.5 223.0,86.3 223.5,84.4 224.0,85.3 224.5,84.4 225.0,85.6 225.5,84.0 226.0,86.4 226.5,87.2 227.0,85.0 227.5,86.1 228.0,84.8 228.5,84.9 229.0,84.4 229.5,83.7 230.0,85.0 230.5,84.1 231.0,83.6 231.5,83.7 232.0,82.3 232.5,81.8 233.0,82.4 233.5,83.3 234.0,82.2 234.5,83.3 235.0,86.6 235.5,86.3 236.0,84.4 236.5,85.5 237.0,88.4 237.5,88.3 238.0,87.5 238.5,88.6 239.0,89.0 239.5,89.3 240.0,88.3 240.5,87.8 241.0,86.0 241.5,86.3 242.0,83.9 242.5,83.6 243.0,82.0 243.5,82.2 244.0,85.3 244.5,83.6 245.0,82.7 245.5,83.5 246.0,83.9 246.5,84.4 247.0,85.1 247.5,86.4 248.0,88.5 248.5,87.7 249.0,86.7 249.5,87.6 250.0,87.6 250.5,87.5 251.0,84.1 251.5,84.7 252.0,83.8 252.5,83.1 253.0,83.9 253.5,85.2 254.0,84.6 254.5,85.4 255.0,84.1 255.5,82.6 256.0,81.7 256.5,80.4 257.0,82.1 257.5,83.2 258.0,83.9 258.5,84.8 258.9,86.7 259.4,86.3 259.9,86.6 260.4,87.1 260.9,88.4 261.4,88.0 261.9,88.8 262.4,87.7 262.9,88.0 263.4,90.5 263.9,90.3 264.4,90.8 264.9,89.7 265.4,90.4 265.9,92.0 266.4,89.7 266.9,89.1 267.4,90.2 267.9,88.6 268.4,88.8 268.9,91.5 269.4,94.4 269.9,93.7 270.4,94.8 270.9,91.0 271.4,89.7 271.9,90.6 272.4,90.3 272.9,89.7 273.4,91.2 273.9,90.3 274.4,88.3 274.9,88.6 275.4,90.0 275.9,90.9 276.4,87.7 276.9,86.4 277.4,84.8 277.9,84.6 278.4,87.4 278.9,86.4 279.4,84.2 279.9,85.4 280.4,88.6 280.9,91.6 281.4,90.8 281.9,91.6 282.4,90.3 282.9,92.0 283.4,89.3 283.9,89.1 284.4,86.6 284.9,89.3 285.4,86.9 285.9,87.6 286.4,88.2 286.9,87.8 287.4,86.6 287.9,85.5 288.4,86.3 288.9,88.0 289.4,87.9 289.9,85.9 290.4,84.0 290.9,82.9 291.4,82.9 291.9,85.4 292.4,84.1 292.9,82.9 293.4,83.4 293.9,81.9 294.4,84.9 294.9,83.8 295.4,82.9 295.9,82.3 296.4,80.2 296.9,78.9 297.4,77.2 297.9,76.2 298.4,76.9 298.9,77.0 299.4,80.1 299.9,81.2 300.4,79.4 300.9,80.0 301.4,79.6 301.9,80.2 302.4,81.5 302.9,80.5 303.4,80.1 303.9,80.2 304.4,79.6 304.9,80.1 305.4,79.2 305.9,79.7 306.4,79.6 306.9,81.2 307.4,81.8 307.9,84.9 308.4,84.7 308.9,88.2 309.4,88.4 309.9,90.3 310.4,91.2 310.9,92.9 311.4,91.0 311.9,89.6 312.4,91.6 312.9,93.0 313.4,89.6 313.9,87.4 314.4,90.7 314.9,89.7 315.4,90.7 315.9,89.6 316.4,87.6 316.9,86.1 317.4,86.1 317.9,86.0 318.4,86.5 318.9,83.2 319.4,85.2 319.9,88.4 320.4,85.0 320.9,81.4 321.4,82.4 321.9,81.2 322.4,83.9 322.9,83.3 323.4,83.1 323.9,80.3 324.4,76.9 324.9,78.0 325.4,76.6 325.9,76.8 326.4,75.4 326.9,77.9 327.4,82.0 327.9,83.3 328.4,78.8 328.9,78.7 329.4,81.2 329.9,79.5 330.4,81.5 330.9,82.0 331.4,82.1 331.9,79.8 332.4,78.6 332.9,79.7 333.4,81.7 333.9,78.8 334.4,78.9 334.9,77.2 335.4,77.2 335.9,79.4 336.4,80.5 336.9,80.5 337.4,81.1 337.9,86.3 338.4,85.8 338.9,85.1 339.4,84.7 339.9,86.5 340.4,87.5 340.9,87.1 341.4,87.5 341.9,87.1 342.4,86.5 342.9,90.3 343.4,91.3 343.9,88.3 344.4,89.2 344.9,86.6 345.4,86.1 345.9,83.9 346.4,82.4 346.9,84.1 347.4,84.9 347.9,84.0 348.4,85.5 348.9,85.3 349.4,86.0 349.9,83.8 350.4,82.1 350.9,81.1 351.4,81.1 351.9,79.7 352.4,81.1 352.9,80.6 353.4,83.4 353.9,85.4 354.4,84.2 354.9,86.7 355.4,86.9 355.9,87.8 356.4,88.5 356.9,89.0 357.4,89.7 357.9,93.9 358.4,93.3 358.9,95.6 359.4,96.8 359.9,95.5 360.4,95.2 360.9,95.6 361.4,91.3 361.9,92.3 362.4,90.8 362.9,88.6 363.4,89.8 363.9,87.0 364.4,89.8 364.9,89.3 365.4,90.6 365.9,90.4 366.4,89.1 366.9,86.2 367.4,86.5 367.9,83.4 368.4,85.1 368.9,86.1 369.4,84.4 369.9,84.7 370.4,82.5 370.9,83.1 371.4,79.3 371.9,79.2 372.4,80.7 372.9,84.0 373.4,85.2 373.9,86.3 374.4,86.7 374.9,87.3 375.4,86.6 375.9,86.1 376.3,86.7 376.8,87.1 377.3,87.1 377.8,88.2 378.3,90.6 378.8,91.6 379.3,93.6 379.8,94.9 380.3,95.0 380.8,93.8 381.3,94.2 381.8,95.4 382.3,93.6 382.8,92.8 383.3,92.6 383.8,89.4 384.3,86.8 384.8,88.5 385.3,87.2 385.8,85.3 386.3,85.6 386.8,86.4 387.3,84.6 387.8,82.4 388.3,81.3 388.8,81.3 389.3,82.6 389.8,85.3 390.3,85.3 390.8,82.6 391.3,82.8 391.8,81.3 392.3,86.7 392.8,90.5 393.3,89.8 393.8,89.1 394.3,84.8 394.8,84.5 395.3,88.1 395.8,85.7 396.3,86.1 396.8,85.0 397.3,88.0 397.8,90.7 398.3,91.9 398.8,90.3 399.3,88.4 399.8,87.6 400.3,92.0 400.8,93.9 401.3,94.4 401.8,91.6 402.3,91.0 402.8,91.7 403.3,92.7 403.8,93.9 404.3,95.6 404.8,101.0 405.3,102.8 405.8,106.5 406.3,105.0 406.8,104.9 407.3,104.1 407.8,105.8 408.3,101.6 408.8,101.0 409.3,100.8 409.8,101.1 410.3,101.7 410.8,99.9 411.3,99.6 411.8,98.2 412.3,101.0 412.8,99.3 413.3,99.0 413.8,99.9 414.3,99.4 414.8,98.6 415.3,101.6 415.8,100.9 416.3,99.8 416.8,102.6 417.3,101.7 417.8,100.2 418.3,101.7 418.8,100.8 419.3,100.9 419.8,100.6 420.3,104.1 420.8,101.8 421.3,101.7 421.8,101.8 422.3,101.3 422.8,99.7 423.3,97.1 423.8,99.6 424.3,101.5 424.8,101.9 425.3,102.0 425.8,103.4 426.3,107.5 426.8,107.6 427.3,108.1 427.8,107.2 428.3,108.6 428.8,107.9 429.3,109.1 429.8,109.2 430.3,109.8 430.8,109.3 431.3,106.6 431.8,108.9 432.3,107.3 432.8,106.8 433.3,106.0 433.8,103.5 434.3,100.4"/><polyline points="200.5,91.9 201.0,91.1 201.5,88.4 202.0,88.3 202.5,89.1 203.0,89.3 203.5,88.3 204.0,88.0 204.5,87.3 205.0,86.5 205.5,87.1 206.0,87.3 206.5,87.1 207.0,86.8 207.5,86.3 208.0,86.7 208.5,87.9 209.0,85.5 209.5,84.9 210.0,83.7 210.5,82.5 211.0,82.0 211.5,81.3 212.0,81.3 212.5,81.0 213.0,80.9 213.5,80.2 214.0,81.3 214.5,80.7 215.0,80.4 215.5,81.0 216.0,80.4 216.5,79.5 217.0,78.5 217.5,79.8 218.0,80.1 218.5,79.4 219.0,78.2 219.5,77.8 220.0,77.9 220.5,76.8 221.0,77.1 221.5,76.7 222.0,76.9 222.5,77.1 223.0,76.0 223.5,75.7 224.0,76.7 224.5,76.9 225.0,77.8 225.5,76.6 226.0,76.5 226.5,75.4 227.0,75.4 227.5,75.7 228.0,76.5 228.5,76.3 229.0,76.1 229.5,77.1 230.0,77.8 230.5,75.9 231.0,75.1 231.5,75.2 232.0,76.6 232.5,76.1 233.0,74.7 233.5,75.4 234.0,75.4 234.5,76.8 235.0,76.6 235.5,75.4 236.0,75.1 236.5,75.2 237.0,74.7 237.5,76.3 238.0,76.7 238.5,76.3 239.0,76.0 239.5,75.5 240.0,76.3 240.5,75.8 241.0,75.1 241.5,76.2 242.0,76.4 242.5,77.6 243.0,78.0 243.5,77.7 244.0,77.9 244.5,77.9 245.0,78.0 245.5,79.1 246.0,81.2 246.5,80.3 247.0,76.9 247.5,74.6 248.0,73.8 248.5,72.8 249.0,73.7 249.5,73.5 250.0,73.3 250.5,72.7 251.0,71.8 251.5,70.7 252.0,69.9 252.5,70.4 253.0,68.8 253.5,69.2 254.0,70.3 254.5,71.3 255.0,70.6 255.5,70.5 256.0,69.7 256.5,71.0 257.0,70.7 257.5,71.8 258.0,70.4 258.5,71.9 258.9,71.3 259.4,71.3 259.9,72.4 260.4,72.2 260.9,72.2 261.4,71.1 261.9,72.3 262.4,72.5 262.9,73.9 263.4,73.9 263.9,74.1 264.4,73.3 264.9,72.7 265.4,72.8 265.9,72.7 266.4,73.5 266.9,74.7 267.4,76.1 267.9,75.7 268.4,74.9 268.9,75.9 269.4,75.9 269.9,76.6 270.4,79.4 270.9,79.1 271.4,77.5 271.9,77.7 272.4,77.3 272.9,79.7 273.4,79.5 273.9,77.9 274.4,78.7 274.9,79.7 275.4,78.8 275.9,78.0 276.4,79.2 276.9,78.9 277.4,81.3 277.9,83.3 278.4,84.2 278.9,82.4 279.4,81.5 279.9,81.6 280.4,81.1 280.9,78.8 281.4,79.8 281.9,80.7 282.4,83.5 282.9,84.9 283.4,85.9 283.9,83.4 284.4,80.6 284.9,82.9 285.4,83.1 285.9,82.7 286.4,83.0 286.9,80.7 287.4,81.4 287.9,77.7 288.4,80.6 288.9,80.7 289.4,79.8 289.9,81.0 290.4,78.9 290.9,79.9 291.4,81.0 291.9,80.8 292.4,80.9 292.9,81.7 293.4,82.0 293.9,83.0 294.4,81.9 294.9,79.7 295.4,79.6 295.9,79.3 296.4,80.1 296.9,80.3 297.4,80.5 297.9,83.0 298.4,82.5 298.9,82.4 299.4,83.2 299.9,86.0 300.4,85.9 300.9,86.9 301.4,85.7 301.9,87.4 302.4,88.8 302.9,90.3 303.4,90.9 303.9,92.0 304.4,89.0 304.9,89.7 305.4,89.4 305.9,89.2 306.4,88.0 306.9,87.2 307.4,88.7 307.9,89.0 308.4,89.5 308.9,92.2 309.4,96.0 309.9,97.8 310.4,95.0 310.9,95.6 311.4,96.9 311.9,97.3 312.4,96.0 312.9,96.7 313.4,98.2 313.9,99.4 314.4,100.4 314.9,99.3 315.4,98.9 315.9,96.6 316.4,98.0 316.9,96.5 317.4,94.4 317.9,93.8 318.4,92.4 318.9,91.1 319.4,88.9 319.9,90.4 320.4,89.1 320.9,90.8 321.4,89.4 321.9,85.7 322.4,83.1 322.9,84.1 323.4,86.7 323.9,87.2 324.4,88.4 324.9,90.7 325.4,93.1 325.9,92.4 326.4,90.6 326.9,92.2 327.4,93.2 327.9,92.5 328.4,91.5 328.9,92.4 329.4,88.5 329.9,88.8 330.4,89.2 330.9,89.6 331.4,88.4 331.9,86.5 332.4,87.5 332.9,85.7 333.4,85.7 333.9,85.6 334.4,85.5 334.9,86.4 335.4,85.5 335.9,88.0 336.4,89.2 336.9,89.4 337.4,89.3 337.9,88.7 338.4,87.7 338.9,83.0 339.4,81.1 339.9,78.8 340.4,80.7 340.9,80.8 341.4,84.3 341.9,84.6 342.4,84.1 342.9,84.2 343.4,80.1 343.9,82.3 344.4,82.5 344.9,80.2 345.4,81.3 345.9,79.2 346.4,82.8 346.9,81.5 347.4,79.5 347.9,77.6 348.4,78.7 348.9,80.5 349.4,81.7 349.9,79.7 350.4,81.5 350.9,78.0 351.4,77.3 351.9,78.3 352.4,77.7 352.9,77.2 353.4,77.3 353.9,79.0 354.4,79.4 354.9,80.5 355.4,80.7 355.9,78.2 356.4,78.4 356.9,76.2 357.4,75.3 357.9,75.4 358.4,73.3 358.9,73.5 359.4,75.4 359.9,78.5 360.4,78.2 360.9,78.5 361.4,79.7 361.9,79.5 362.4,80.4 362.9,81.5 363.4,81.0 363.9,80.8 364.4,83.9 364.9,82.6 365.4,83.0 365.9,81.5 366.4,80.4 366.9,79.8 367.4,76.0 367.9,78.8 368.4,76.9 368.9,78.5 369.4,77.0 369.9,77.4 370.4,77.5 370.9,78.0 371.4,77.4 371.9,74.1 372.4,72.4 372.9,75.0 373.4,74.0 373.9,74.0 374.4,75.8 374.9,73.4 375.4,74.2 375.9,73.2 376.3,73.6 376.8,74.3 377.3,74.2 377.8,75.9 378.3,77.9 378.8,77.1 379.3,78.2 379.8,77.6 380.3,78.2 380.8,80.0 381.3,79.0 381.8,79.6 382.3,77.9 382.8,77.1 383.3,77.2 383.8,78.1 384.3,81.0 384.8,81.4 385.3,81.4 385.8,79.2 386.3,81.6 386.8,80.9 387.3,80.6 387.8,79.7 388.3,77.4 388.8,79.1 389.3,79.4 389.8,80.3 390.3,81.1 390.8,78.7 391.3,78.2 391.8,77.9 392.3,80.1 392.8,78.3 393.3,81.2 393.8,83.2 394.3,84.0 394.8,84.5 395.3,86.5 395.8,85.3 396.3,85.6 396.8,85.4 397.3,85.2 397.8,88.3 398.3,88.0 398.8,88.8 399.3,88.6 399.8,89.4 400.3,90.9 400.8,87.8 401.3,86.4 401.8,84.1 402.3,83.9 402.8,81.1 403.3,81.5 403.8,83.3 404.3,83.9 404.8,85.2 405.3,86.3 405.8,86.0 406.3,86.9 406.8,83.9 407.3,83.4 407.8,80.4 408.3,80.8 408.8,80.3 409.3,80.0 409.8,78.7 410.3,77.8 410.8,76.9 411.3,75.2 411.8,76.2 412.3,77.4 412.8,77.2 413.3,77.5 413.8,76.7 414.3,78.5 414.8,76.2 415.3,74.4 415.8,73.7 416.3,74.9 416.8,75.6 417.3,77.4 417.8,80.4 418.3,78.3 418.8,79.1 419.3,78.8 419.8,77.3 420.3,78.7 420.8,78.2 421.3,78.5 421.8,78.6 422.3,77.8 422.8,80.2 423.3,79.5 423.8,79.2 424.3,78.8 424.8,78.7 425.3,78.3 425.8,78.5 426.3,81.6 426.8,80.4 427.3,79.5 427.8,80.1 428.3,78.3 428.8,77.9 429.3,76.7 429.8,77.6 430.3,79.1 430.8,80.7 431.3,79.3 431.8,80.4 432.3,78.4 432.8,77.9 433.3,80.6 433.8,84.6 434.3,81.0"/><polyline points="200.5,86.4 201.0,88.3 201.5,88.4 202.0,88.8 202.5,89.2 203.0,90.5 203.5,90.5 204.0,90.0 204.5,88.2 205.0,87.0 205.5,87.2 206.0,89.5 206.5,90.1 207.0,90.7 207.5,92.9 208.0,91.4 208.5,90.1 209.0,91.2 209.5,90.9 210.0,91.4 210.5,91.3 211.0,93.5 211.5,92.9 212.0,94.8 212.5,93.4 213.0,92.7 213.5,92.9 214.0,94.0 214.5,95.2 215.0,95.5 215.5,94.2 216.0,94.4 216.5,94.9 217.0,95.1 217.5,95.3 218.0,93.9 218.5,95.0 219.0,92.9 219.5,92.9 220.0,92.6 220.5,93.6 221.0,93.4 221.5,94.2 222.0,93.4 222.5,93.4 223.0,94.3 223.5,92.9 224.0,91.9 224.5,91.8 225.0,92.2 225.5,93.5 226.0,94.8 226.5,93.8 227.0,94.5 227.5,94.7 228.0,96.7 228.5,96.5 229.0,94.4 229.5,94.8 230.0,97.4 230.5,96.4 231.0,95.9 231.5,96.3 232.0,95.7 232.5,93.5 233.0,94.0 233.5,95.2 234.0,96.3 234.5,96.7 235.0,97.6 235.5,98.3 236.0,95.1 236.5,93.6 237.0,91.5 237.5,92.2 238.0,91.1 238.5,91.0 239.0,91.1 239.5,90.0 240.0,93.7 240.5,92.4 241.0,91.4 241.5,90.4 242.0,89.4 242.5,90.8 243.0,90.1 243.5,89.5 244.0,89.0 244.5,89.0 245.0,90.1 245.5,91.6 246.0,93.7 246.5,95.0 247.0,93.1 247.5,93.2 248.0,95.0 248.5,94.7 249.0,93.5 249.5,91.3 250.0,90.7 250.5,88.9 251.0,88.2 251.5,87.9 252.0,87.4 252.5,90.3 253.0,90.6 253.5,90.9 254.0,90.3 254.5,89.8 255.0,91.7 255.5,91.8 256.0,91.7 256.5,91.8 257.0,90.0 257.5,89.6 258.0,89.2 258.5,89.3 258.9,94.2 259.4,93.0 259.9,96.8 260.4,98.0 260.9,99.8 261.4,100.5 261.9,100.2 262.4,101.1 262.9,100.7 263.4,98.1 263.9,98.1 264.4,99.6 264.9,101.5 265.4,102.1 265.9,101.0 266.4,102.1 266.9,100.2 267.4,103.0 267.9,103.5 268.4,103.0 268.9,103.5 269.4,103.5 269.9,101.8 270.4,102.3 270.9,103.2 271.4,104.6 271.9,104.0 272.4,102.6 272.9,104.1 273.4,103.6 273.9,104.1 274.4,104.5 274.9,104.2 275.4,104.7 275.9,107.1 276.4,106.1 276.9,107.4 277.4,108.2 277.9,108.0 278.4,108.3 278.9,109.1 279.4,109.3 279.9,106.5 280.4,106.2 280.9,106.6 281.4,105.1 281.9,107.1 282.4,105.5 282.9,105.0 283.4,103.9 283.9,102.9 284.4,103.4 284.9,103.2 285.4,100.3 285.9,99.3 286.4,97.7 286.9,94.8 287.4,97.6 287.9,96.3 288.4,95.0 288.9,96.1 289.4,94.3 289.9,93.7 290.4,96.3 290.9,99.1 291.4,99.6 291.9,98.0 292.4,97.8 292.9,97.1 293.4,96.5 293.9,95.6 294.4,96.0 294.9,94.7 295.4,95.9 295.9,97.3 296.4,98.9 296.9,99.9 297.4,99.3 297.9,101.0 298.4,98.5 298.9,98.8 299.4,101.7 299.9,100.4 300.4,101.4 300.9,101.2 301.4,98.8 301.9,98.0 302.4,100.8 302.9,98.3 303.4,99.6 303.9,99.3 304.4,102.1 304.9,101.9 305.4,102.8 305.9,100.6 306.4,101.9 306.9,104.2 307.4,104.4 307.9,106.2 308.4,105.9 308.9,103.7 309.4,103.2 309.9,100.4 310.4,99.3 310.9,99.0 311.4,101.0 311.9,100.3 312.4,101.3 312.9,101.3 313.4,103.1 313.9,102.7 314.4,102.2 314.9,100.7 315.4,102.4 315.9,103.4 316.4,104.1 316.9,102.1 317.4,99.3 317.9,97.6 318.4,97.2 318.9,98.6 319.4,99.3 319.9,100.2 320.4,97.1 320.9,96.1 321.4,96.1 321.9,96.2 322.4,95.1 322.9,92.3 323.4,96.3 323.9,96.0 324.4,97.8 324.9,96.9 325.4,95.2 325.9,93.4 326.4,94.4 326.9,95.2 327.4,93.4 327.9,89.2 328.4,88.5 328.9,87.7 329.4,87.2 329.9,84.9 330.4,81.3 330.9,80.7 331.4,80.5 331.9,81.9 332.4,82.9 332.9,84.5 333.4,85.9 333.9,84.1 334.4,84.1 334.9,83.8 335.4,81.6 335.9,82.5 336.4,84.1 336.9,85.2 337.4,85.7 337.9,85.3 338.4,84.8 338.9,84.2 339.4,83.0 339.9,83.4 340.4,81.7 340.9,78.0 341.4,77.1 341.9,74.0 342.4,74.5 342.9,75.3 343.4,72.9 343.9,74.0 344.4,76.4 344.9,79.2 345.4,79.6 345.9,76.8 346.4,78.1 346.9,76.1 347.4,75.9 347.9,73.9 348.4,72.2 348.9,73.5 349.4,75.2 349.9,74.4 350.4,71.6 350.9,72.4 351.4,73.6 351.9,71.8 352.4,70.3 352.9,70.4 353.4,71.2 353.9,68.6 354.4,69.5 354.9,69.3 355.4,67.8 355.9,67.3 356.4,68.0 356.9,66.7 357.4,67.9 357.9,68.7 358.4,69.9 358.9,71.0 359.4,70.5 359.9,71.9 360.4,77.3 360.9,73.8 361.4,70.6 361.9,68.9 362.4,68.4 362.9,69.7 363.4,70.6 363.9,69.1 364.4,68.3 364.9,67.7 365.4,67.2 365.9,67.8 366.4,68.8 366.9,67.5 367.4,66.3 367.9,65.5 368.4,65.6 368.9,67.6 369.4,68.3 369.9,70.2 370.4,72.0 370.9,73.2 371.4,73.4 371.9,72.9 372.4,71.3 372.9,71.3 373.4,71.4 373.9,72.7 374.4,75.1 374.9,77.2 375.4,78.0 375.9,80.4 376.3,81.1 376.8,77.5 377.3,78.8 377.8,79.2 378.3,79.8 378.8,81.0 379.3,81.1 379.8,79.4 380.3,79.0 380.8,78.3 381.3,79.4 381.8,78.7 382.3,78.8 382.8,75.9 383.3,75.6 383.8,75.4 384.3,75.4 384.8,77.7 385.3,75.5 385.8,75.2 386.3,75.9 386.8,74.1 387.3,74.2 387.8,76.7 388.3,77.4 388.8,76.8 389.3,78.1 389.8,76.8 390.3,76.2 390.8,76.5 391.3,78.0 391.8,78.5 392.3,78.4 392.8,77.6 393.3,77.2 393.8,78.3 394.3,76.7 394.8,76.4 395.3,74.7 395.8,72.5 396.3,74.9 396.8,74.4 397.3,71.7 397.8,72.5 398.3,73.3 398.8,73.0 399.3,74.9 399.8,76.6 400.3,74.4 400.8,73.5 401.3,74.4 401.8,75.5 402.3,75.7 402.8,72.7 403.3,71.6 403.8,72.2 404.3,70.1 404.8,69.5 405.3,67.9 405.8,67.6 406.3,67.3 406.8,65.9 407.3,66.3 407.8,64.6 408.3,63.9 408.8,64.2 409.3,64.6 409.8,66.1 410.3,65.4 410.8,66.4 411.3,66.0 411.8,65.2 412.3,64.6 412.8,66.0 413.3,65.5 413.8,65.9 414.3,66.1 414.8,64.5 415.3,65.3 415.8,65.0 416.3,65.8 416.8,66.3 417.3,66.0 417.8,65.2 418.3,64.1 418.8,63.9 419.3,63.6 419.8,65.1 420.3,66.0 420.8,64.6 421.3,64.4 421.8,65.8 422.3,67.1 422.8,67.3 423.3,67.3 423.8,64.8 424.3,64.8 424.8,65.7 425.3,64.6 425.8,64.4 426.3,65.6 426.8,66.6 427.3,67.9 427.8,67.5 428.3,65.6 428.8,66.2 429.3,66.8 429.8,68.4 430.3,67.9 430.8,67.4 431.3,67.2 431.8,69.2 432.3,69.5 432.8,72.8 433.3,74.4 433.8,79.3 434.3,83.9"/><polyline points="200.5,88.8 201.0,89.3 201.5,91.5 202.0,91.9 202.5,90.7 203.0,89.5 203.5,88.4 204.0,89.3 204.5,89.8 205.0,89.7 205.5,88.3 206.0,86.7 206.5,87.7 207.0,89.0 207.5,87.5 208.0,90.4 208.5,90.6 209.0,90.9 209.5,87.4 210.0,89.0 210.5,88.5 211.0,91.3 211.5,91.4 212.0,90.3 212.5,90.2 213.0,92.2 213.5,93.0 214.0,93.3 214.5,92.1 215.0,91.4 215.5,94.8 216.0,95.1 216.5,94.7 217.0,92.7 217.5,93.6 218.0,93.4 218.5,92.3 219.0,93.9 219.5,91.9 220.0,93.1 220.5,94.5 221.0,95.4 221.5,94.6 222.0,94.2 222.5,92.6 223.0,94.3 223.5,92.8 224.0,91.7 224.5,91.5 225.0,91.0 225.5,89.8 226.0,93.0 226.5,92.7 227.0,92.1 227.5,91.9 228.0,93.3 228.5,93.8 229.0,93.1 229.5,93.2 230.0,93.9 230.5,92.1 231.0,93.8 231.5,94.8 232.0,96.4 232.5,95.9 233.0,96.9 233.5,94.5 234.0,93.2 234.5,95.4 235.0,95.1 235.5,95.5 236.0,94.5 236.5,95.5 237.0,94.5 237.5,92.6 238.0,93.5 238.5,93.9 239.0,93.5 239.5,95.0 240.0,95.5 240.5,93.8 241.0,92.9 241.5,93.5 242.0,94.0 242.5,94.3 243.0,92.4 243.5,91.5 244.0,92.6 244.5,96.8 245.0,95.1 245.5,95.0 246.0,94.0 246.5,95.3 247.0,92.7 247.5,90.3 248.0,91.3 248.5,90.6 249.0,90.6 249.5,93.2 250.0,92.7 250.5,90.1 251.0,89.3 251.5,90.8 252.0,92.8 252.5,92.1 253.0,92.5 253.5,90.7 254.0,90.7 254.5,91.2 255.0,91.5 255.5,89.8 256.0,91.4 256.5,92.7 257.0,92.8 257.5,93.0 258.0,92.7 258.5,91.3 258.9,93.0 259.4,92.1 259.9,91.3 260.4,88.7 260.9,89.4 261.4,90.1 261.9,90.6 262.4,91.4 262.9,90.0 263.4,86.5 263.9,85.2 264.4,88.2 264.9,88.4 265.4,85.0 265.9,83.8 266.4,81.0 266.9,81.6 267.4,81.4 267.9,84.0 268.4,84.6 268.9,83.9 269.4,84.6 269.9,85.5 270.4,83.9 270.9,83.8 271.4,85.5 271.9,85.2 272.4,85.2 272.9,85.0 273.4,86.4 273.9,86.9 274.4,87.1 274.9,89.4 275.4,88.8 275.9,87.0 276.4,85.6 276.9,84.5 277.4,86.8 277.9,87.1 278.4,86.2 278.9,87.2 279.4,85.6 279.9,87.4 280.4,88.6 280.9,90.4 281.4,89.1 281.9,86.5 282.4,88.0 282.9,88.6 283.4,86.3 283.9,86.6 284.4,85.0 284.9,85.1 285.4,85.1 285.9,85.5 286.4,86.2 286.9,85.4 287.4,83.0 287.9,84.6 288.4,87.4 288.9,83.1 289.4,83.5 289.9,82.9 290.4,84.8 290.9,84.8 291.4,83.8 291.9,84.1 292.4,86.1 292.9,86.3 293.4,86.6 293.9,85.9 294.4,84.4 294.9,84.7 295.4,85.4 295.9,87.0 296.4,87.1 296.9,89.0 297.4,90.4 297.9,90.7 298.4,91.9 298.9,91.7 299.4,91.7 299.9,88.7 300.4,93.0 300.9,93.6 301.4,92.1 301.9,94.1 302.4,91.6 302.9,91.4 303.4,91.0 303.9,92.6 304.4,90.7 304.9,92.8 305.4,94.0 305.9,91.3 306.4,89.8 306.9,90.2 307.4,89.1 307.9,93.0 308.4,91.0 308.9,93.2 309.4,92.3 309.9,91.0 310.4,92.2 310.9,93.9 311.4,94.9 311.9,92.2 312.4,94.8 312.9,95.5 313.4,91.4 313.9,91.6 314.4,90.5 314.9,91.4 315.4,91.1 315.9,90.2 316.4,89.3 316.9,87.1 317.4,87.8 317.9,88.5 318.4,89.9 318.9,89.8 319.4,90.5 319.9,92.1 320.4,90.6 320.9,90.5 321.4,90.6 321.9,88.8 322.4,91.4 322.9,91.7 323.4,91.4 323.9,92.3 324.4,93.8 324.9,92.2 325.4,92.0 325.9,91.9 326.4,95.0 326.9,94.7 327.4,93.5 327.9,91.9 328.4,95.5 328.9,96.5 329.4,97.8 329.9,98.6 330.4,99.4 330.9,98.7 331.4,95.7 331.9,94.2 332.4,91.8 332.9,95.4 333.4,95.5 333.9,94.3 334.4,92.9 334.9,93.2 335.4,96.2 335.9,97.2 336.4,93.6 336.9,94.3 337.4,93.9 337.9,97.3 338.4,98.7 338.9,96.3 339.4,96.9 339.9,95.6 340.4,96.6 340.9,97.8 341.4,99.3 341.9,99.8 342.4,97.6 342.9,96.8 343.4,96.8 343.9,96.6 344.4,98.8 344.9,101.2 345.4,101.2 345.9,100.1 346.4,97.5 346.9,95.5 347.4,95.0 347.9,93.9 348.4,90.5 348.9,93.4 349.4,89.6 349.9,89.7 350.4,87.0 350.9,88.0 351.4,86.7 351.9,87.5 352.4,86.0 352.9,86.2 353.4,82.0 353.9,81.0 354.4,80.8 354.9,79.4 355.4,77.4 355.9,79.1 356.4,78.4 356.9,77.7 357.4,77.7 357.9,77.6 358.4,78.8 358.9,79.0 359.4,78.6 359.9,79.1 360.4,78.9 360.9,78.3 361.4,79.8 361.9,79.6 362.4,80.2 362.9,81.5 363.4,80.6 363.9,80.7 364.4,80.9 364.9,79.6 365.4,77.6 365.9,77.9 366.4,79.3 366.9,80.7 367.4,79.2 367.9,78.5 368.4,78.8 368.9,81.7 369.4,81.4 369.9,81.1 370.4,80.0 370.9,78.6 371.4,79.6 371.9,79.6 372.4,79.7 372.9,79.9 373.4,80.0 373.9,81.0 374.4,81.8 374.9,83.6 375.4,83.8 375.9,85.3 376.3,87.7 376.8,86.1 377.3,89.4 377.8,91.0 378.3,91.4 378.8,93.9 379.3,89.5 379.8,87.0 380.3,91.8 380.8,91.5 381.3,95.1 381.8,92.6 382.3,93.6 382.8,90.9 383.3,90.2 383.8,87.7 384.3,88.3 384.8,89.0 385.3,89.2 385.8,88.1 386.3,88.7 386.8,87.7 387.3,87.4 387.8,83.9 388.3,85.4 388.8,84.7 389.3,85.5 389.8,86.7 390.3,88.2 390.8,84.4 391.3,81.7 391.8,80.1 392.3,79.1 392.8,81.5 393.3,82.0 393.8,82.0 394.3,84.7 394.8,84.9 395.3,83.4 395.8,85.0 396.3,87.1 396.8,83.1 397.3,83.7 397.8,85.6 398.3,84.5 398.8,83.6 399.3,83.9 399.8,83.0 400.3,82.3 400.8,81.1 401.3,80.4 401.8,81.9 402.3,83.5 402.8,82.3 403.3,85.6 403.8,82.3 404.3,83.0 404.8,83.3 405.3,81.3 405.8,81.1 406.3,83.5 406.8,83.9 407.3,82.9 407.8,82.2 408.3,83.0 408.8,81.6 409.3,84.1 409.8,82.7 410.3,79.3 410.8,80.7 411.3,84.4 411.8,82.8 412.3,83.1 412.8,83.5 413.3,83.4 413.8,84.5 414.3,85.8 414.8,88.5 415.3,85.4 415.8,84.5 416.3,87.0 416.8,83.2 417.3,82.0 417.8,81.5 418.3,82.7 418.8,85.3 419.3,84.9 419.8,86.2 420.3,85.6 420.8,85.2 421.3,88.5 421.8,88.5 422.3,91.4 422.8,90.6 423.3,90.9 423.8,90.3 424.3,93.0 424.8,94.4 425.3,93.1 425.8,92.1 426.3,91.9 426.8,91.9 427.3,95.4 427.8,96.3 428.3,97.0 428.8,94.2 429.3,93.7 429.8,90.7 430.3,91.4 430.8,92.0 431.3,88.7 431.8,88.3 432.3,88.9 432.8,88.4 433.3,86.8 433.8,85.8 434.3,86.7"/><polyline points="200.5,88.9 201.0,89.5 201.5,89.0 202.0,88.5 202.5,86.0 203.0,86.4 203.5,87.5 204.0,87.8 204.5,86.4 205.0,86.0 205.5,86.6 206.0,87.7 206.5,88.1 207.0,86.9 207.5,87.1 208.0,87.3 208.5,85.9 209.0,84.5 209.5,84.9 210.0,85.3 210.5,85.9 211.0,84.7 211.5,85.1 212.0,85.4 212.5,84.4 213.0,85.4 213.5,86.4 214.0,85.5 214.5,85.5 215.0,84.5 215.5,83.3 216.0,82.4 216.5,84.3 217.0,83.1 217.5,84.4 218.0,84.7 218.5,85.6 219.0,82.5 219.5,83.5 220.0,83.3 220.5,84.0 221.0,85.0 221.5,84.1 222.0,84.8 222.5,86.4 223.0,87.1 223.5,85.8 224.0,84.2 224.5,83.7 225.0,83.0 225.5,81.2 226.0,80.6 226.5,78.9 227.0,78.0 227.5,80.6 228.0,81.5 228.5,81.9 229.0,81.7 229.5,83.1 230.0,82.9 230.5,82.4 231.0,83.5 231.5,86.9 232.0,87.1 232.5,87.9 233.0,86.6 233.5,87.2 234.0,86.7 234.5,84.3 235.0,84.3 235.5,86.0 236.0,88.1 236.5,89.9 237.0,91.9 237.5,90.1 238.0,90.8 238.5,91.2 239.0,90.6 239.5,90.7 240.0,92.4 240.5,93.5 241.0,94.2 241.5,95.8 242.0,95.8 242.5,96.5 243.0,95.2 243.5,94.7 244.0,96.0 244.5,95.7 245.0,95.6 245.5,95.9 246.0,96.2 246.5,95.2 247.0,92.8 247.5,91.9 248.0,92.8 248.5,91.6 249.0,92.7 249.5,90.4 250.0,90.6 250.5,93.9 251.0,93.1 251.5,89.6 252.0,87.8 252.5,86.1 253.0,86.2 253.5,87.5 254.0,87.2 254.5,88.2 255.0,85.7 255.5,85.6 256.0,87.6 256.5,85.6 257.0,86.0 257.5,85.1 258.0,86.5 258.5,86.5 258.9,85.1 259.4,84.3 259.9,84.5 260.4,88.3 260.9,87.1 261.4,89.1 261.9,88.3 262.4,88.7 262.9,90.4 263.4,91.4 263.9,89.8 264.4,91.3 264.9,88.9 265.4,86.8 265.9,87.3 266.4,87.3 266.9,85.9 267.4,86.9 267.9,87.3 268.4,90.3 268.9,88.9 269.4,88.8 269.9,90.9 270.4,92.0 270.9,92.7 271.4,89.4 271.9,88.9 272.4,87.6 272.9,90.0 273.4,90.7 273.9,90.2 274.4,90.2 274.9,90.9 275.4,91.4 275.9,92.8 276.4,91.5 276.9,90.1 277.4,92.1 277.9,92.1 278.4,93.1 278.9,92.6 279.4,94.8 279.9,92.0 280.4,89.9 280.9,87.7 281.4,90.4 281.9,90.9 282.4,91.3 282.9,95.2 283.4,96.4 283.9,97.7 284.4,97.0 284.9,98.1 285.4,97.0 285.9,90.9 286.4,93.4 286.9,95.0 287.4,96.0 287.9,95.7 288.4,96.5 288.9,95.2 289.4,97.0 289.9,95.2 290.4,91.7 290.9,90.1 291.4,90.7 291.9,90.5 292.4,92.4 292.9,91.4 293.4,87.1 293.9,86.6 294.4,88.1 294.9,89.0 295.4,87.9 295.9,82.7 296.4,82.5 296.9,84.0 297.4,85.1 297.9,84.5 298.4,84.5 298.9,84.5 299.4,84.8 299.9,85.4 300.4,85.1 300.9,84.1 301.4,83.9 301.9,81.5 302.4,81.5 302.9,84.5 303.4,84.4 303.9,84.8 304.4,85.9 304.9,87.4 305.4,86.3 305.9,85.3 306.4,85.5 306.9,86.8 307.4,88.3 307.9,87.3 308.4,86.2 308.9,83.5 309.4,82.7 309.9,85.6 310.4,82.2 310.9,81.4 311.4,79.1 311.9,80.0 312.4,79.9 312.9,78.9 313.4,78.1 313.9,78.7 314.4,78.8 314.9,81.3 315.4,83.0 315.9,84.6 316.4,84.8 316.9,83.9 317.4,82.6 317.9,83.4 318.4,84.3 318.9,84.0 319.4,84.2 319.9,87.8 320.4,90.3 320.9,89.2 321.4,90.3 321.9,89.0 322.4,88.9 322.9,88.5 323.4,88.9 323.9,91.1 324.4,91.6 324.9,94.5 325.4,92.4 325.9,94.2 326.4,96.4 326.9,96.1 327.4,94.2 327.9,94.9 328.4,93.8 328.9,92.8 329.4,95.9 329.9,96.9 330.4,99.7 330.9,100.8 331.4,102.6 331.9,100.2 332.4,98.1 332.9,98.8 333.4,101.3 333.9,99.7 334.4,100.0 334.9,102.3 335.4,101.8 335.9,101.4 336.4,101.7 336.9,100.0 337.4,100.7 337.9,103.4 338.4,102.2 338.9,100.7 339.4,99.5 339.9,101.6 340.4,102.8 340.9,101.8 341.4,100.0 341.9,99.5 342.4,98.6 342.9,100.1 343.4,99.1 343.9,98.5 344.4,100.9 344.9,102.3 345.4,100.7 345.9,102.0 346.4,103.9 346.9,105.1 347.4,105.8 347.9,105.8 348.4,105.0 348.9,103.8 349.4,104.3 349.9,105.3 350.4,104.4 350.9,103.0 351.4,104.6 351.9,103.3 352.4,105.0 352.9,107.2 353.4,104.8 353.9,104.0 354.4,104.7 354.9,105.5 355.4,106.6 355.9,103.0 356.4,104.6 356.9,103.1 357.4,101.0 357.9,99.1 358.4,99.5 358.9,100.5 359.4,102.3 359.9,103.4 360.4,102.6 360.9,105.0 361.4,105.6 361.9,105.5 362.4,106.5 362.9,106.1 363.4,106.8 363.9,107.0 364.4,106.1 364.9,104.3 365.4,102.6 365.9,102.3 366.4,102.6 366.9,102.4 367.4,103.4 367.9,101.3 368.4,102.5 368.9,103.0 369.4,103.8 369.9,104.8 370.4,102.1 370.9,101.3 371.4,96.7 371.9,96.4 372.4,98.8 372.9,98.9 373.4,98.7 373.9,97.2 374.4,95.5 374.9,97.7 375.4,97.4 375.9,97.4 376.3,98.2 376.8,100.7 377.3,101.8 377.8,103.1 378.3,101.2 378.8,101.5 379.3,102.5 379.8,101.9 380.3,105.2 380.8,103.8 381.3,103.2 381.8,103.1 382.3,103.6 382.8,102.1 383.3,103.4 383.8,103.1 384.3,104.9 384.8,101.1 385.3,101.1 385.8,100.5 386.3,99.2 386.8,100.8 387.3,100.1 387.8,98.6 388.3,96.6 388.8,95.3 389.3,98.1 389.8,99.0 390.3,98.8 390.8,101.7 391.3,101.2 391.8,102.7 392.3,103.9 392.8,105.1 393.3,104.2 393.8,104.4 394.3,106.1 394.8,105.8 395.3,107.0 395.8,109.0 396.3,107.9 396.8,106.4 397.3,108.2 397.8,110.0 398.3,112.3 398.8,111.4 399.3,111.9 399.8,111.7 400.3,110.0 400.8,109.8 401.3,110.4 401.8,110.3 402.3,112.6 402.8,112.7 403.3,112.4 403.8,112.4 404.3,111.8 404.8,114.1 405.3,116.0 405.8,116.1 406.3,115.4 406.8,115.3 407.3,114.4 407.8,114.7 408.3,115.1 408.8,115.7 409.3,115.3 409.8,115.5 410.3,117.1 410.8,117.1 411.3,116.8 411.8,116.0 412.3,115.3 412.8,115.9 413.3,114.4 413.8,114.2 414.3,114.7 414.8,115.8 415.3,116.4 415.8,116.3 416.3,116.6 416.8,115.9 417.3,115.1 417.8,115.5 418.3,116.0 418.8,116.1 419.3,115.5 419.8,116.2 420.3,116.8 420.8,117.0 421.3,116.9 421.8,117.0 422.3,116.8 422.8,115.5 423.3,116.5 423.8,116.4 424.3,115.3 424.8,115.1 425.3,113.8 425.8,113.3 426.3,113.0 426.8,113.1 427.3,111.8 427.8,112.5 428.3,113.6 428.8,113.6 429.3,112.9 429.8,112.4 430.3,113.1 430.8,111.8 431.3,110.9 431.8,111.0 432.3,110.0 432.8,106.5 433.3,101.2 433.8,98.5 434.3,95.6"/></g>
<line x1="200.5" y1="32.2" x2="200.5" y2="148.5" stroke="#e8e8e8" stroke-width="1"/>
<line x1="200.5" y1="148.5" x2="434.5" y2="148.5" stroke="#d8d8d8" stroke-width="1.2"/>
<g stroke="#c4c4c4" stroke-width="1"><line x1="239.5" y1="146" x2="239.5" y2="148"/><line x1="278.4" y1="146" x2="278.4" y2="148"/><line x1="317.4" y1="146" x2="317.4" y2="148"/><line x1="356.4" y1="146" x2="356.4" y2="148"/><line x1="395.4" y1="146" x2="395.4" y2="148"/><line x1="434.3" y1="146" x2="434.3" y2="148"/></g>
<text transform="translate(192.50,143.69) rotate(-90)" font-family='"Liberation Sans", sans-serif' font-size="16" class="lt" fill="#111" textLength="105.29" lengthAdjust="spacingAndGlyphs">bump position</text>
<text x="199.7" y="164.1" text-anchor="middle" class="lt" font-family='"Liberation Sans", sans-serif' font-size="16.6" fill="#111">0</text>
<rect x="238.43" y="152.50" width="1.15" height="11.4" fill="#2a2a2a"/>
<polygon points="235.10,154.30 238.50,152.60 238.50,155.20 235.10,155.50" fill="#2a2a2a"/>
<text x="276.8" y="164.1" text-anchor="middle" class="lt" font-family='"Liberation Sans", sans-serif' font-size="16.6" fill="#111">2</text>
<text x="315.6" y="164.1" text-anchor="middle" class="lt" font-family='"Liberation Sans", sans-serif' font-size="16.6" fill="#111">3</text>
<text x="354.8" y="164.1" text-anchor="middle" class="lt" font-family='"Liberation Sans", sans-serif' font-size="16.6" fill="#111">4</text>
<text x="393.1" y="164.1" text-anchor="middle" class="lt" font-family='"Liberation Sans", sans-serif' font-size="16.6" fill="#111">5</text>
<text x="432.2" y="164.1" text-anchor="middle" class="lt" font-family='"Liberation Sans", sans-serif' font-size="16.6" fill="#111">6</text>
<text x="281.75" y="182.30" font-family='"Liberation Sans", sans-serif' font-size="16" class="lt" fill="#111" textLength="54.05" lengthAdjust="spacingAndGlyphs">time (s)</text>
<text x="182.35" y="207.8" font-family='"Liberation Sans", sans-serif' font-weight="bold" font-size="27.6" fill="#000">E</text>
<polygon points="200.0,272.5 201.9,270.2 203.9,269.3 205.8,268.6 207.8,268.0 209.8,267.4 211.7,267.0 213.7,266.5 215.6,266.1 217.6,265.7 219.5,265.3 221.4,265.0 223.4,264.7 225.3,264.3 227.3,264.0 229.2,263.7 231.2,263.4 233.2,263.2 235.1,262.9 237.1,262.6 239.0,262.4 240.9,262.1 242.9,261.9 244.8,261.6 246.8,261.4 248.8,261.2 250.7,261.0 252.7,260.7 254.6,260.5 256.6,260.3 258.5,260.1 260.4,259.9 262.4,259.7 264.4,259.5 266.3,259.3 268.2,259.1 270.2,258.9 272.1,258.7 274.1,258.5 276.1,258.4 278.0,258.2 279.9,258.0 281.9,257.8 283.9,257.7 285.8,257.5 287.8,257.3 289.7,257.1 291.6,257.0 293.6,256.8 295.6,256.7 297.5,256.5 299.4,256.3 301.4,256.2 303.4,256.0 305.3,255.9 307.2,255.7 309.2,255.6 311.1,255.4 313.1,255.3 315.1,255.1 317.0,255.0 318.9,254.8 320.9,254.7 322.9,254.5 324.8,254.4 326.8,254.2 328.7,254.1 330.6,254.0 332.6,253.8 334.6,253.7 336.5,253.6 338.5,253.4 340.4,253.3 342.4,253.2 344.3,253.0 346.2,252.9 348.2,252.8 350.1,252.6 352.1,252.5 354.1,252.4 356.0,252.3 357.9,252.1 359.9,252.0 361.9,251.9 363.8,251.8 365.8,251.6 367.7,251.5 369.6,251.4 371.6,251.3 373.5,251.1 375.5,251.0 377.5,250.9 379.4,250.8 381.4,250.7 383.3,250.6 385.2,250.4 387.2,250.3 389.1,250.2 391.1,250.1 393.0,250.0 395.0,249.9 397.0,249.7 398.9,249.6 400.9,249.5 402.8,249.4 404.8,249.3 406.7,249.2 408.6,249.1 410.6,249.0 412.5,248.9 414.5,248.8 416.5,248.6 418.4,248.5 420.4,248.4 422.3,248.3 424.2,248.2 426.2,248.1 428.1,248.0 430.1,247.9 432.0,247.8 434.0,247.7 434.0,297.3 432.0,297.2 430.1,297.1 428.1,297.0 426.2,296.9 424.2,296.8 422.3,296.7 420.4,296.6 418.4,296.5 416.5,296.4 414.5,296.2 412.5,296.1 410.6,296.0 408.6,295.9 406.7,295.8 404.8,295.7 402.8,295.6 400.9,295.5 398.9,295.4 397.0,295.3 395.0,295.1 393.0,295.0 391.1,294.9 389.1,294.8 387.2,294.7 385.2,294.6 383.3,294.4 381.4,294.3 379.4,294.2 377.5,294.1 375.5,294.0 373.5,293.9 371.6,293.7 369.6,293.6 367.7,293.5 365.8,293.4 363.8,293.2 361.9,293.1 359.9,293.0 357.9,292.9 356.0,292.7 354.1,292.6 352.1,292.5 350.1,292.4 348.2,292.2 346.2,292.1 344.3,292.0 342.4,291.8 340.4,291.7 338.5,291.6 336.5,291.4 334.6,291.3 332.6,291.2 330.6,291.0 328.7,290.9 326.8,290.8 324.8,290.6 322.9,290.5 320.9,290.3 318.9,290.2 317.0,290.0 315.1,289.9 313.1,289.7 311.1,289.6 309.2,289.4 307.2,289.3 305.3,289.1 303.4,289.0 301.4,288.8 299.4,288.7 297.5,288.5 295.6,288.3 293.6,288.2 291.6,288.0 289.7,287.9 287.8,287.7 285.8,287.5 283.9,287.3 281.9,287.2 279.9,287.0 278.0,286.8 276.1,286.6 274.1,286.5 272.1,286.3 270.2,286.1 268.2,285.9 266.3,285.7 264.4,285.5 262.4,285.3 260.4,285.1 258.5,284.9 256.6,284.7 254.6,284.5 252.7,284.3 250.7,284.0 248.8,283.8 246.8,283.6 244.8,283.4 242.9,283.1 240.9,282.9 239.0,282.6 237.1,282.4 235.1,282.1 233.2,281.8 231.2,281.6 229.2,281.3 227.3,281.0 225.3,280.7 223.4,280.3 221.4,280.0 219.5,279.7 217.6,279.3 215.6,278.9 213.7,278.5 211.7,278.0 209.8,277.6 207.8,277.0 205.8,276.4 203.9,275.7 201.9,274.8 200.0,272.5" fill="#fa8072"/>
<g fill="none" stroke="#1515f2" stroke-width="0.9" stroke-linejoin="round"><polyline points="200.0,270.5 200.5,270.3 201.0,268.3 201.5,268.5 202.0,269.2 202.5,268.4 203.0,268.4 203.5,268.2 204.0,267.4 204.5,266.1 205.0,263.7 205.5,264.7 206.0,264.2 206.5,266.3 207.0,266.7 207.5,266.6 208.0,265.5 208.5,266.5 209.0,265.6 209.5,266.8 210.0,265.9 210.5,265.7 211.0,263.8 211.5,265.7 212.0,265.2 212.5,264.4 213.0,264.8 213.5,264.0 214.0,264.9 214.5,263.8 215.1,264.5 215.6,263.6 216.1,261.8 216.6,261.4 217.1,260.0 217.6,260.7 218.2,260.8 218.7,261.4 219.2,261.6 219.7,261.4 220.2,261.3 220.7,262.2 221.3,261.9 221.8,261.0 222.3,259.8 222.8,259.5 223.3,258.6 223.8,260.3 224.4,259.0 224.9,257.8 225.4,257.3 225.9,258.1 226.5,257.9 227.0,257.0 227.5,256.3 228.0,256.1 228.6,257.2 229.1,256.3 229.6,256.5 230.1,256.2 230.7,256.8 231.2,257.6 231.7,256.4 232.2,259.1 232.7,259.6 233.2,259.4 233.8,258.8 234.3,258.9 234.8,259.2 235.3,260.5 235.8,261.1 236.4,262.3 236.9,261.3 237.4,261.2 237.9,260.9 238.5,261.7 239.0,262.8 239.5,262.0 240.0,261.2 240.5,261.4 241.1,261.7 241.6,260.0 242.1,259.9 242.6,259.7 243.1,258.7 243.6,260.0 244.2,258.3 244.7,257.4 245.2,257.3 245.7,257.2 246.2,256.7 246.8,257.8 247.3,258.9 247.8,259.5 248.3,260.1 248.9,259.7 249.4,258.2 249.9,260.1 250.4,259.1 250.9,261.2 251.4,261.0 251.9,261.1 252.4,260.9 252.9,261.8 253.5,261.2 254.0,262.9 254.5,263.4 255.0,263.5 255.5,262.8 256.0,263.0 256.5,262.6 257.0,264.1 257.6,264.7 258.1,262.7 258.6,263.9 259.1,261.1 259.6,262.3 260.1,260.0 260.6,259.6 261.2,260.1 261.7,259.7 262.2,258.2 262.7,259.5 263.2,257.8 263.7,256.4 264.1,257.8 264.6,257.0 265.1,257.3 265.6,258.2 266.1,258.1 266.6,258.4 267.1,258.6 267.6,258.9 268.1,260.1 268.5,261.1 269.0,261.5 269.5,262.5 270.0,262.0 270.5,261.1 271.0,260.0 271.5,260.7 272.0,262.3 272.5,262.3 273.0,260.2 273.5,259.6 274.0,260.0 274.5,260.2 275.0,260.2 275.5,261.1 276.0,261.9 276.5,260.5 277.0,260.8 277.5,260.0 278.0,260.1 278.5,261.3 279.0,263.0 279.5,263.6 280.0,263.0 280.5,262.7 281.0,263.4 281.5,262.5 282.0,262.5 282.5,263.2 283.0,264.2 283.5,264.0 284.0,264.4 284.5,265.9 285.0,266.3 285.5,264.6 286.0,264.9 286.5,265.3 287.0,264.9 287.5,265.1 288.0,263.7 288.5,265.0 289.0,265.5 289.5,265.1 290.0,265.4 290.5,265.6 291.0,264.8 291.5,262.2 292.0,259.5 292.5,261.6 293.0,260.5 293.5,260.3 294.0,261.0 294.5,260.7 295.0,262.0 295.5,260.8 296.0,261.2 296.5,258.9 297.0,259.4 297.5,259.9 298.0,260.0 298.5,260.1 299.0,260.2 299.5,260.8 300.0,261.6 300.5,260.4 301.0,261.3 301.5,260.1 302.0,260.1 302.5,259.6 303.0,259.9 303.5,259.4 304.0,259.6 304.5,258.9 305.0,257.7 305.5,258.6 306.0,258.9 306.5,259.2 307.0,260.0 307.5,258.7 308.0,259.4 308.5,258.2 309.0,258.3 309.5,257.9 310.0,258.0 310.5,259.0 311.0,259.4 311.5,258.8 312.0,260.0 312.5,261.5 313.0,262.5 313.5,263.9 314.0,262.4 314.5,262.8 315.0,263.0 315.5,261.4 316.0,261.8 316.5,262.1 317.0,260.9 317.5,260.4 318.0,260.8 318.5,261.7 319.0,262.8 319.5,262.0 320.0,261.2 320.5,261.0 321.0,261.3 321.5,261.0 322.0,261.2 322.5,262.2 323.0,263.2 323.5,263.7 324.0,262.8 324.5,262.7 325.0,263.6 325.5,264.7 326.0,266.1 326.5,265.4 327.0,265.2 327.5,264.3 328.0,261.7 328.5,260.9 329.0,259.5 329.5,261.2 330.0,262.0 330.5,261.2 331.0,261.1 331.5,261.3 332.0,262.9 332.5,263.5 333.0,264.9 333.5,265.2 334.0,266.3 334.5,267.6 335.0,268.4 335.5,268.2 336.0,269.2 336.5,268.6 337.0,269.9 337.5,269.4 338.0,268.6 338.5,270.3 339.0,269.7 339.5,269.7 340.0,268.5 340.5,267.6 341.0,267.1 341.5,266.0 342.0,267.0 342.5,266.2 343.0,264.7 343.5,265.7 344.0,266.2 344.5,263.7 345.0,263.0 345.5,263.8 346.0,262.9 346.5,262.5 347.0,262.1 347.5,259.7 348.0,258.6 348.5,259.2 349.0,260.5 349.5,260.3 350.0,260.0 350.5,260.5 351.0,260.6 351.5,261.0 352.0,260.1 352.5,260.1 353.0,260.5 353.5,261.1 354.0,259.4 354.5,260.2 355.0,260.3 355.5,260.4 356.0,258.5 356.5,258.5 357.0,256.9 357.5,254.3 358.0,254.3 358.5,254.3 359.0,254.3 359.5,254.4 360.0,254.3 360.5,255.4 361.0,256.2 361.5,257.7 362.0,260.2 362.5,261.0 363.0,261.7 363.5,263.6 364.0,262.7 364.5,262.3 365.0,262.5 365.5,260.9 366.0,261.9 366.5,263.4 367.0,262.1 367.5,261.3 368.0,262.1 368.5,263.5 369.0,261.8 369.5,262.3 370.0,262.0 370.5,260.4 371.0,260.2 371.5,259.9 372.0,260.3 372.5,260.5 373.0,260.5 373.5,260.6 374.0,260.7 374.5,261.4 375.0,262.6 375.5,263.8 376.0,263.2 376.5,262.6 377.0,262.2 377.5,263.8 378.0,264.6 378.5,264.0 379.0,263.1 379.5,262.3 380.0,262.6 380.5,261.7 381.0,261.9 381.5,263.5 382.0,263.5 382.5,264.6 383.0,263.3 383.5,263.9 384.0,264.4 384.5,263.7 385.0,265.3 385.5,265.5 386.0,265.1 386.5,265.0 387.0,266.2 387.5,265.0 388.0,265.4 388.5,264.7 389.0,265.1 389.5,264.8 390.0,265.0 390.5,265.6 391.0,265.5 391.5,265.9 392.0,266.4 392.5,266.7 393.0,266.7 393.5,266.6 394.0,267.1 394.5,268.1 395.0,269.8 395.5,271.4 396.0,270.3 396.5,270.4 397.0,270.7 397.5,271.8 398.0,272.7 398.5,271.1 399.0,271.2 399.5,269.4 400.0,268.7 400.5,267.6 401.0,266.9 401.5,268.3 402.0,267.6 402.5,266.9 403.0,266.9 403.5,267.8 404.0,265.9 404.5,267.4 405.0,266.5 405.5,265.3 406.0,265.3 406.5,265.8 407.0,268.4 407.5,269.1 408.0,268.3 408.5,268.0 409.0,266.8 409.5,267.3 410.0,268.0 410.5,267.8 411.0,269.1 411.5,267.6 412.0,267.2 412.5,266.5 413.0,266.0 413.5,264.5 414.0,265.6 414.5,264.8 415.0,264.9 415.5,266.2 416.0,268.0 416.5,269.3 417.0,267.2 417.5,267.0 418.0,266.8 418.5,266.3 419.0,265.7 419.5,265.3 420.0,266.0 420.5,265.7 421.0,264.5 421.5,263.0 422.0,263.3 422.5,261.8 423.0,262.6 423.5,262.3 424.0,261.9 424.5,262.3 425.0,262.1 425.5,262.9 426.0,261.8 426.5,260.1 427.0,262.2 427.5,262.6 428.0,260.1 428.5,262.0 429.0,260.7 429.5,262.9 430.0,264.9 430.5,266.0 431.0,266.1 431.5,265.4 432.0,266.5 432.5,266.3 433.0,267.5 433.5,267.4 434.0,266.0"/><polyline points="200.0,270.7 200.5,270.7 201.0,270.2 201.5,270.3 202.0,269.3 202.5,270.8 203.0,270.2 203.5,270.7 204.0,268.9 204.5,269.7 205.0,271.2 205.5,271.8 206.0,271.5 206.5,270.5 207.0,271.0 207.5,271.5 208.0,270.2 208.5,270.1 209.0,270.6 209.5,269.8 210.0,270.4 210.5,270.0 211.0,271.4 211.5,270.1 212.0,270.6 212.5,270.7 213.0,268.7 213.5,267.7 214.0,266.8 214.5,267.7 215.0,267.3 215.5,267.2 216.0,267.3 216.5,269.9 217.0,269.6 217.5,271.4 218.0,271.2 218.5,269.6 219.0,268.7 219.5,267.4 220.0,267.0 220.5,265.4 221.0,264.4 221.5,266.3 222.0,266.5 222.5,266.8 223.0,268.5 223.5,266.8 224.0,267.3 224.5,266.8 225.0,266.7 225.5,266.0 226.0,266.0 226.5,267.2 227.0,268.3 227.5,268.5 228.0,269.3 228.5,268.0 229.0,265.0 229.5,266.0 230.0,268.0 230.5,268.2 231.0,267.4 231.5,267.2 232.0,268.2 232.5,266.8 233.0,266.6 233.5,267.0 234.0,265.7 234.5,267.6 235.0,268.2 235.5,269.6 236.0,268.3 236.5,268.3 237.0,269.6 237.5,269.8 238.0,270.8 238.5,268.7 239.0,268.4 239.5,266.1 240.0,265.4 240.5,265.5 241.0,265.1 241.5,263.6 242.0,263.7 242.5,264.1 243.0,263.7 243.5,264.3 244.0,265.2 244.5,266.2 245.0,265.6 245.5,265.9 246.0,265.0 246.5,264.7 247.0,265.5 247.5,265.2 248.0,264.5 248.5,263.7 249.0,263.9 249.5,265.3 250.0,266.0 250.5,265.6 251.0,266.3 251.5,267.0 252.0,268.3 252.5,267.5 253.0,268.0 253.5,267.4 254.0,266.7 254.5,267.8 255.0,268.2 255.5,268.1 256.0,269.3 256.5,269.3 257.0,268.3 257.5,269.0 258.0,267.9 258.5,266.9 259.0,266.3 259.5,266.0 260.0,266.7 260.5,266.2 261.0,264.2 261.5,263.5 262.0,263.7 262.5,263.4 263.0,263.1 263.5,261.7 264.0,261.2 264.5,261.6 265.0,262.0 265.5,260.9 266.0,260.0 266.5,258.8 267.0,259.5 267.5,258.5 268.1,258.0 268.6,256.9 269.1,255.8 269.6,255.4 270.1,256.1 270.6,255.3 271.1,256.2 271.6,255.9 272.1,256.4 272.6,258.7 273.1,260.7 273.6,260.8 274.1,260.6 274.7,260.2 275.2,260.7 275.7,258.6 276.2,257.7 276.7,257.3 277.2,256.3 277.7,255.1 278.2,256.2 278.8,254.6 279.3,254.0 279.8,253.2 280.3,252.6 280.8,251.3 281.3,251.9 281.9,251.6 282.4,253.2 282.9,251.6 283.4,252.1 283.9,251.1 284.4,251.7 284.9,253.2 285.4,252.3 285.9,253.7 286.4,253.2 287.0,252.4 287.5,253.0 288.0,254.1 288.5,254.6 289.0,255.2 289.5,255.5 290.0,255.3 290.5,253.5 291.0,252.8 291.5,251.8 292.0,252.1 292.5,251.0 293.0,252.7 293.5,253.0 294.0,252.3 294.5,252.6 295.0,252.1 295.5,253.1 296.0,252.4 296.5,253.5 297.0,252.1 297.5,252.0 298.0,251.6 298.5,250.8 299.0,250.6 299.5,250.8 300.0,249.7 300.5,249.0 301.0,249.6 301.5,249.0 302.0,250.7 302.5,252.4 303.0,252.0 303.5,252.5 304.0,253.2 304.5,254.0 305.0,253.6 305.5,254.5 306.0,253.6 306.5,253.2 307.0,254.1 307.5,253.7 308.0,252.4 308.5,251.5 309.0,251.5 309.6,250.4 310.1,249.1 310.6,248.9 311.1,247.6 311.6,249.4 312.1,248.3 312.6,248.7 313.1,246.9 313.6,246.8 314.1,247.9 314.6,248.7 315.1,249.6 315.6,249.3 316.0,249.8 316.5,249.8 317.0,248.7 317.5,250.1 318.0,249.7 318.5,248.5 319.0,248.3 319.5,248.0 320.0,249.6 320.4,248.5 320.9,248.9 321.4,247.8 321.9,246.8 322.4,246.9 322.9,247.5 323.4,246.9 323.9,246.7 324.4,246.8 324.9,248.4 325.4,247.5 325.9,247.6 326.4,248.1 326.9,248.2 327.4,247.6 327.9,248.3 328.4,247.3 328.9,249.1 329.4,246.4 329.9,244.4 330.4,244.5 330.9,245.0 331.4,246.2 331.9,246.3 332.5,246.9 333.0,247.7 333.5,247.5 334.0,247.9 334.6,247.7 335.1,249.5 335.6,250.7 336.1,250.5 336.6,250.3 337.1,250.0 337.6,249.9 338.1,250.4 338.5,250.2 339.0,249.9 339.5,250.5 340.0,250.5 340.5,250.7 341.0,251.0 341.5,251.2 342.0,250.4 342.5,250.6 343.0,252.2 343.5,251.7 344.0,251.2 344.5,251.2 345.0,251.2 345.5,252.9 346.0,253.0 346.5,252.6 346.9,251.8 347.4,251.0 347.9,250.1 348.3,248.8 348.8,247.8 349.3,249.4 349.8,247.8 350.4,248.5 350.9,250.1 351.4,249.8 351.9,250.2 352.4,251.4 353.0,250.0 353.5,250.7 354.0,250.0 354.5,250.2 355.0,250.6 355.5,250.8 356.0,249.8 356.5,249.8 357.0,249.1 357.5,249.4 358.0,249.0 358.5,248.8 359.0,250.3 359.5,249.7 360.0,249.8 360.5,251.5 361.0,252.4 361.5,253.9 362.0,253.5 362.5,254.3 363.0,254.0 363.5,252.9 364.0,254.0 364.5,253.6 365.0,254.3 365.5,254.0 366.0,255.1 366.5,256.3 367.0,255.9 367.5,255.4 368.0,253.4 368.5,253.5 369.0,253.9 369.5,253.7 370.0,255.0 370.5,255.2 371.0,255.4 371.5,255.0 372.0,253.8 372.5,254.1 373.0,255.2 373.5,256.7 374.0,257.1 374.5,256.1 375.0,256.0 375.5,256.4 376.0,255.5 376.5,255.4 377.0,255.0 377.5,254.5 378.0,253.7 378.5,254.2 379.0,255.0 379.5,256.5 380.0,256.5 380.5,256.8 381.0,255.3 381.5,255.9 382.0,257.5 382.5,257.0 383.0,257.7 383.5,257.4 384.0,258.2 384.5,259.2 385.0,258.0 385.5,256.7 386.0,255.6 386.5,255.1 387.0,256.0 387.5,255.7 388.0,255.5 388.5,255.3 389.0,254.3 389.5,255.1 390.0,255.2 390.5,255.6 391.0,255.6 391.5,253.8 392.0,254.0 392.5,253.0 393.0,251.8 393.5,254.1 394.0,254.7 394.5,253.9 395.0,254.4 395.5,255.1 396.0,255.0 396.5,254.3 397.0,254.9 397.5,255.3 398.0,255.7 398.5,253.6 399.0,253.7 399.5,255.4 400.0,254.0 400.5,253.2 401.0,252.0 401.5,251.1 402.0,250.6 402.5,252.2 403.0,251.6 403.5,252.8 404.0,251.4 404.5,251.7 405.0,251.3 405.6,250.5 406.1,250.4 406.6,251.3 407.1,251.4 407.6,251.6 408.1,251.4 408.6,251.5 409.1,251.5 409.6,252.0 410.1,251.5 410.6,250.5 411.1,249.7 411.6,248.3 412.1,247.9 412.5,246.1 413.0,245.9 413.5,245.2 413.9,245.6 414.4,244.8 414.9,245.0 415.4,245.7 415.9,246.1 416.4,246.1 416.9,246.8 417.4,247.1 417.9,246.7 418.4,246.5 418.9,244.8 419.4,246.2 419.9,247.6 420.4,247.3 420.9,246.3 421.4,247.2 421.9,248.6 422.4,248.8 422.9,247.3 423.4,247.7 424.0,247.8 424.5,248.0 425.0,249.1 425.5,248.2 426.0,247.5 426.5,248.7 427.1,248.7 427.6,250.4 428.1,246.9 428.6,245.2 429.0,245.6 429.5,245.8 430.0,244.5 430.4,243.3 430.9,242.2 431.4,243.7 431.9,243.2 432.4,243.9 433.0,244.0 433.5,241.9 434.0,243.0"/><polyline points="200.0,277.0 200.5,277.0 201.0,278.0 201.5,278.3 202.0,278.4 202.5,276.9 203.0,277.0 203.5,275.2 204.0,274.8 204.5,275.1 205.0,275.5 205.5,274.9 206.0,275.0 206.5,274.2 207.0,275.2 207.5,274.3 208.0,277.3 208.5,278.4 209.0,278.6 209.5,280.6 210.0,280.0 210.5,281.6 211.0,281.4 211.5,281.9 212.0,281.7 212.5,281.4 213.0,281.2 213.5,281.8 214.0,281.9 214.5,284.2 215.0,284.6 215.5,282.4 216.0,282.0 216.5,282.1 217.0,282.8 217.5,283.7 218.0,282.8 218.5,283.3 219.0,282.8 219.5,283.2 220.0,283.3 220.5,284.9 221.0,286.2 221.5,288.1 222.0,287.6 222.5,287.0 223.0,287.0 223.5,286.4 224.0,285.7 224.5,286.2 225.0,288.4 225.5,288.7 226.0,290.2 226.5,288.7 227.0,290.7 227.5,292.9 228.0,293.0 228.5,292.5 229.0,293.0 229.5,291.3 230.0,291.6 230.5,289.8 231.0,291.4 231.5,291.3 232.0,290.5 232.5,288.5 233.0,290.1 233.5,290.3 234.0,289.9 234.5,291.2 235.0,290.0 235.5,291.3 236.0,292.7 236.5,292.6 237.0,294.0 237.5,295.9 238.0,295.3 238.5,294.8 239.0,295.8 239.5,296.8 240.0,296.2 240.5,293.3 241.0,292.1 241.5,293.7 242.0,293.5 242.5,292.9 243.0,293.6 243.5,292.2 244.0,294.7 244.5,293.1 245.0,293.3 245.5,294.0 246.0,294.9 246.5,294.2 247.0,294.2 247.5,295.5 248.0,296.0 248.5,296.9 249.0,297.3 249.5,297.8 250.0,297.1 250.5,296.2 251.0,296.2 251.6,295.3 252.1,297.0 252.6,297.9 253.1,299.4 253.6,298.2 254.1,297.1 254.6,298.0 255.1,299.2 255.5,300.5 256.0,302.5 256.5,302.5 256.9,302.2 257.4,302.4 257.9,303.3 258.4,302.1 258.9,300.2 259.4,300.5 259.9,300.3 260.4,300.0 260.9,299.5 261.4,298.1 261.9,298.7 262.4,299.5 262.9,298.3 263.4,297.1 263.9,296.4 264.3,297.2 264.8,296.6 265.3,296.3 265.8,295.8 266.3,295.8 266.8,296.6 267.3,295.8 267.8,295.4 268.3,296.8 268.8,294.8 269.3,294.8 269.8,294.6 270.3,294.1 270.8,294.8 271.3,296.6 271.8,296.2 272.3,295.8 272.8,296.6 273.3,295.6 273.8,295.4 274.3,295.9 274.8,296.3 275.3,295.7 275.8,297.0 276.2,296.0 276.7,295.5 277.2,294.6 277.7,295.2 278.2,296.2 278.7,296.2 279.2,297.5 279.7,297.3 280.2,297.5 280.7,297.8 281.2,297.9 281.7,298.1 282.2,297.2 282.6,295.2 283.1,294.7 283.6,294.5 284.1,294.3 284.6,293.4 285.1,292.2 285.6,294.3 286.1,295.8 286.6,296.8 287.1,297.7 287.6,297.8 288.1,298.3 288.6,300.2 289.1,301.5 289.6,301.3 290.1,301.2 290.6,301.0 291.0,300.6 291.5,301.8 292.0,302.8 292.5,303.5 293.0,303.2 293.5,304.8 294.0,305.1 294.5,302.9 295.0,304.5 295.5,305.0 296.0,304.7 296.5,306.4 297.0,304.3 297.5,304.0 298.0,305.0 298.5,304.6 299.0,306.9 299.5,308.7 300.0,308.9 300.5,309.0 301.0,310.6 301.5,311.1 301.9,310.0 302.4,309.6 302.9,308.6 303.4,309.1 303.9,309.2 304.4,310.4 304.9,310.6 305.4,310.6 305.9,310.2 306.4,312.5 306.9,314.6 307.3,314.5 307.8,313.8 308.3,313.0 308.8,314.7 309.3,315.1 309.8,316.7 310.3,316.0 310.9,315.5 311.4,315.0 311.9,315.4 312.4,316.9 312.9,315.7 313.4,316.3 314.0,317.5 314.5,317.1 315.0,316.5 315.5,317.9 316.0,317.7 316.5,317.8 317.0,317.2 317.5,317.0 318.0,317.6 318.4,318.4 318.9,318.5 319.4,319.0 319.9,318.0 320.4,320.4 320.9,319.7 321.4,320.6 321.9,320.1 322.4,320.8 322.9,319.5 323.4,319.5 323.9,319.0 324.4,320.0 324.9,320.8 325.3,320.6 325.8,320.3 326.3,321.4 326.8,321.6 327.3,322.8 327.8,323.8 328.3,323.4 328.8,323.1 329.3,321.3 329.8,321.3 330.3,321.1 330.8,321.1 331.2,322.5 331.7,322.7 332.2,322.7 332.7,322.8 333.2,322.4 333.7,323.8 334.2,323.1 334.7,323.6 335.2,323.6 335.7,322.1 336.2,321.7 336.7,322.1 337.2,321.0 337.7,320.4 338.2,319.4 338.7,318.5 339.2,318.6 339.7,317.1 340.2,317.2 340.7,317.8 341.2,315.6 341.7,315.7 342.2,316.2 342.6,317.0 343.1,316.8 343.6,316.3 344.1,317.5 344.6,317.3 345.1,318.1 345.6,318.6 346.1,318.3 346.6,318.4 347.1,318.1 347.6,319.5 348.1,320.2 348.6,319.0 349.0,321.3 349.5,323.2 350.0,325.0 350.5,324.6 351.0,324.6 351.5,324.5 352.0,325.7 352.5,325.6 353.0,325.6 353.5,325.1 354.0,323.5 354.5,324.1 355.0,326.1 355.5,325.6 356.0,324.5 356.5,325.3 357.0,326.1 357.5,326.1 358.0,327.1 358.5,328.2 359.0,328.2 359.5,327.5 360.0,325.9 360.5,323.6 361.0,322.5 361.4,322.9 361.9,323.2 362.4,323.2 362.9,323.2 363.4,323.0 363.9,322.8 364.4,322.7 364.9,323.8 365.4,322.5 365.9,322.4 366.4,320.1 366.8,319.8 367.3,320.3 367.8,319.0 368.3,319.8 368.8,318.0 369.3,318.6 369.8,317.9 370.3,317.8 370.9,317.0 371.4,317.2 371.9,316.5 372.4,317.2 372.9,316.8 373.4,316.6 374.0,315.9 374.5,315.8 375.0,314.9 375.5,316.4 376.0,316.8 376.4,318.2 376.9,319.5 377.4,321.2 377.9,323.0 378.4,321.8 378.9,322.9 379.4,325.4 379.9,325.8 380.4,324.1 380.9,325.3 381.4,325.6 381.9,325.7 382.4,326.2 382.9,326.5 383.4,326.6 383.9,327.5 384.4,327.1 384.9,326.1 385.4,326.1 385.9,326.7 386.4,327.3 386.9,325.7 387.5,325.1 388.0,325.1 388.5,324.6 389.0,323.8 389.5,324.3 390.0,324.0 390.5,324.1 391.0,322.1 391.5,320.3 392.0,319.4 392.5,319.2 393.0,319.7 393.5,318.5 394.0,319.7 394.5,319.5 395.0,318.6 395.5,319.0 396.0,320.0 396.5,319.9 397.0,319.8 397.5,319.9 398.0,320.5 398.5,320.1 399.0,319.9 399.5,319.9 400.0,319.5 400.5,319.7 401.0,318.8 401.5,316.7 402.0,316.0 402.5,315.4 403.0,317.0 403.5,317.7 404.0,317.8 404.5,317.1 405.0,315.6 405.5,314.7 406.0,314.9 406.5,314.4 407.0,313.1 407.5,313.0 408.0,312.0 408.5,312.6 409.0,314.5 409.5,315.5 410.0,313.2 410.5,314.4 411.0,314.0 411.5,314.4 412.0,314.8 412.5,315.1 413.0,313.5 413.5,314.8 414.0,314.0 414.5,313.5 415.0,314.1 415.5,315.2 416.0,315.0 416.5,313.8 417.0,314.6 417.5,314.7 418.0,315.9 418.5,317.5 419.0,316.7 419.5,315.8 420.0,316.0 420.5,314.6 421.0,315.8 421.5,315.3 422.0,314.9 422.5,314.7 423.0,315.6 423.5,315.6 424.0,315.9 424.5,314.7 425.0,314.9 425.5,314.1 426.0,313.0 426.5,312.4 427.0,313.6 427.5,313.2 428.0,313.6 428.5,313.7 429.0,314.2 429.5,313.6 430.0,312.2 430.5,311.9 431.0,312.0 431.5,311.1 432.0,311.0 432.5,311.6 433.0,309.6 433.5,311.0 434.0,312.0"/><polyline points="200.0,273.4 200.5,274.7 201.0,272.8 201.5,273.1 202.0,273.7 202.5,274.3 203.0,274.9 203.5,276.9 204.0,277.8 204.5,277.3 205.0,276.0 205.5,275.2 206.0,275.0 206.5,275.4 207.0,275.5 207.5,275.9 208.0,275.5 208.5,275.3 209.0,275.8 209.5,275.7 210.0,275.2 210.5,274.8 211.0,275.4 211.5,275.0 212.0,274.9 212.5,276.8 213.0,276.8 213.5,277.1 214.0,278.3 214.5,280.2 215.0,281.0 215.5,280.0 216.0,282.6 216.5,281.9 217.0,281.0 217.5,280.5 218.0,282.2 218.5,282.4 219.0,280.7 219.5,282.8 220.0,281.5 220.5,283.6 221.0,281.3 221.5,281.4 222.0,281.7 222.5,281.3 223.0,281.5 223.5,282.8 224.0,283.2 224.5,284.2 225.0,284.6 225.5,285.0 226.0,284.7 226.5,284.8 227.0,286.0 227.5,287.3 228.0,286.4 228.5,286.0 229.0,286.5 229.5,286.6 230.0,286.0 230.5,284.0 231.0,284.4 231.5,283.8 232.0,286.0 232.5,287.2 233.0,287.8 233.5,286.5 234.0,285.9 234.5,287.1 235.0,286.4 235.5,286.3 236.0,286.8 236.5,287.5 237.0,287.3 237.5,287.9 238.0,286.3 238.5,286.4 239.0,286.4 239.5,288.2 240.0,288.7 240.5,286.6 241.0,288.2 241.5,291.0 242.0,291.7 242.5,292.5 243.0,294.2 243.5,294.3 244.0,294.4 244.5,294.7 245.0,291.5 245.5,291.0 246.0,291.8 246.5,292.5 247.0,291.0 247.5,290.9 248.0,290.4 248.5,289.7 249.0,290.8 249.5,289.9 250.0,289.8 250.5,291.1 251.0,290.9 251.5,291.5 252.0,291.2 252.5,291.8 252.9,292.4 253.4,293.6 253.9,293.8 254.4,294.2 254.9,293.2 255.4,293.2 255.9,292.8 256.4,291.6 256.9,291.3 257.4,291.4 257.9,291.4 258.4,292.6 258.9,292.2 259.4,291.5 259.9,289.5 260.4,290.7 260.8,291.5 261.3,292.3 261.8,291.6 262.3,291.1 262.8,290.7 263.3,289.5 263.8,289.9 264.3,290.0 264.8,291.3 265.3,291.4 265.8,291.1 266.3,291.7 266.8,292.4 267.3,291.2 267.8,289.5 268.3,288.3 268.8,289.2 269.3,289.7 269.8,291.0 270.3,291.1 270.8,291.4 271.3,290.9 271.8,292.9 272.3,293.5 272.8,295.0 273.3,295.3 273.8,294.5 274.3,295.4 274.8,293.8 275.3,294.5 275.8,294.3 276.2,294.6 276.7,293.3 277.2,293.2 277.7,292.5 278.2,291.5 278.7,292.9 279.2,293.3 279.7,292.8 280.2,292.1 280.7,291.7 281.2,291.9 281.7,292.2 282.2,292.3 282.7,290.6 283.2,290.6 283.6,290.8 284.1,291.5 284.6,291.5 285.1,291.3 285.6,291.4 286.1,290.8 286.6,292.9 287.1,292.1 287.6,291.2 288.1,291.5 288.6,291.8 289.1,292.5 289.5,292.3 290.0,291.8 290.5,291.0 291.0,291.0 291.5,291.3 292.0,291.9 292.5,291.4 293.0,290.8 293.5,292.6 294.0,293.3 294.5,293.8 295.0,296.3 295.5,297.9 296.0,297.3 296.5,297.1 297.0,298.2 297.5,298.9 298.0,299.3 298.4,301.0 298.9,299.8 299.4,300.7 299.9,300.4 300.4,301.7 300.9,301.6 301.4,300.0 301.9,300.2 302.4,297.7 302.9,298.8 303.4,299.1 303.9,300.3 304.4,300.6 304.9,300.8 305.4,302.3 305.9,303.1 306.4,301.7 306.9,301.8 307.4,303.9 307.9,303.4 308.5,302.7 309.0,302.5 309.5,301.6 310.0,302.3 310.5,302.5 311.0,304.0 311.5,304.1 312.0,306.2 312.5,306.3 312.9,307.6 313.4,309.3 313.9,310.1 314.4,310.3 314.9,309.4 315.4,308.7 315.9,309.7 316.4,310.2 316.9,311.7 317.4,311.8 317.9,312.7 318.4,313.6 318.9,315.2 319.4,315.8 319.9,317.3 320.4,316.6 320.9,316.1 321.4,317.1 321.9,317.8 322.4,318.7 322.9,317.6 323.4,318.4 323.9,317.1 324.4,318.9 324.9,318.7 325.3,318.7 325.8,319.7 326.3,320.6 326.8,320.5 327.3,320.8 327.8,323.0 328.3,322.0 328.8,323.4 329.3,322.8 329.8,321.5 330.3,322.7 330.8,323.3 331.2,323.3 331.7,324.3 332.2,324.1 332.7,323.7 333.2,324.2 333.7,324.5 334.2,323.2 334.7,323.9 335.2,323.8 335.7,324.9 336.2,327.8 336.7,326.0 337.2,326.0 337.7,325.9 338.2,324.2 338.7,324.1 339.2,321.1 339.7,319.3 340.2,320.4 340.7,319.3 341.2,318.9 341.7,319.0 342.2,318.0 342.6,317.5 343.1,318.1 343.6,318.4 344.1,318.3 344.6,319.8 345.1,319.8 345.6,320.8 346.1,321.9 346.6,321.5 347.1,321.5 347.6,323.1 348.1,322.6 348.6,323.8 349.1,325.4 349.6,325.3 350.1,324.5 350.6,325.4 351.1,326.9 351.6,327.0 352.1,328.5 352.5,328.9 353.0,328.2 353.5,328.2 354.0,328.7 354.5,325.3 355.0,325.9 355.5,327.5 356.0,328.6 356.5,328.6 357.0,328.6 357.5,327.1 358.0,328.3 358.5,326.4 359.0,327.5 359.5,327.3 360.0,326.4 360.4,326.4 360.9,326.8 361.4,325.7 361.9,323.8 362.4,324.5 362.9,324.2 363.4,324.3 363.9,323.0 364.4,324.3 364.9,325.0 365.4,323.4 365.9,321.4 366.4,321.5 366.9,321.1 367.4,320.2 367.9,319.3 368.4,318.9 368.9,318.7 369.4,318.5 369.9,319.9 370.4,321.2 370.9,318.6 371.4,319.1 372.0,320.2 372.5,318.3 373.0,317.3 373.5,316.6 374.0,317.0 374.5,317.1 375.0,317.1 375.5,317.2 376.0,318.1 376.5,318.4 377.0,317.3 377.5,316.3 378.0,315.6 378.5,317.3 379.0,317.7 379.5,318.3 380.0,320.0 380.5,319.9 381.0,317.5 381.5,317.3 381.9,316.3 382.4,315.2 382.9,314.1 383.4,313.4 383.9,311.8 384.4,312.3 384.9,312.4 385.3,312.4 385.8,312.3 386.3,310.8 386.8,311.2 387.3,310.0 387.8,308.2 388.3,307.7 388.8,307.6 389.3,307.6 389.8,308.5 390.3,307.9 390.8,309.0 391.3,310.4 391.8,311.3 392.3,310.7 392.8,312.6 393.3,313.1 393.7,313.8 394.2,312.8 394.7,311.5 395.2,313.6 395.7,314.9 396.2,314.2 396.7,313.8 397.2,312.6 397.7,312.6 398.2,310.6 398.7,311.5 399.2,311.9 399.7,313.1 400.2,313.2 400.7,313.9 401.2,314.3 401.7,314.9 402.2,314.2 402.7,315.1 403.2,313.7 403.7,313.0 404.2,312.8 404.6,315.0 405.1,313.8 405.6,314.0 406.1,314.2 406.6,312.4 407.1,314.7 407.6,315.6 408.1,316.4 408.6,316.7 409.1,318.0 409.6,316.2 410.1,318.3 410.6,318.5 411.1,320.0 411.6,319.4 412.1,319.3 412.6,318.1 413.1,319.0 413.6,320.2 414.1,320.6 414.5,323.4 415.0,324.5 415.5,325.5 416.0,325.7 416.5,327.5 417.0,327.0 417.5,326.9 418.0,325.8 418.5,327.0 419.0,328.4 419.4,328.1 419.9,328.5 420.4,327.8 420.9,328.8 421.4,329.8 421.9,329.1 422.4,329.7 422.9,328.3 423.4,328.6 423.9,328.0 424.4,328.6 424.9,329.2 425.4,328.3 425.9,327.5 426.4,327.4 426.9,327.5 427.4,326.5 427.9,325.9 428.4,324.7 428.9,326.0 429.4,325.7 429.9,324.4 430.3,324.9 430.8,324.9 431.3,325.3 431.8,325.8 432.3,324.1 432.8,323.0 433.4,323.3 434.0,322.3"/><polyline points="200.0,274.0 200.5,273.4 201.0,274.1 201.5,274.9 202.0,274.6 202.5,272.8 203.0,273.5 203.5,272.8 204.0,273.5 204.5,271.6 205.0,273.1 205.5,273.4 206.0,274.3 206.5,274.5 207.0,276.0 207.5,277.7 208.0,277.1 208.5,276.8 209.0,277.5 209.5,278.5 210.0,276.5 210.5,276.8 211.0,275.6 211.5,276.9 212.0,277.5 212.5,276.7 213.0,275.9 213.5,277.8 214.0,279.8 214.5,279.9 215.0,279.6 215.5,280.5 216.0,279.7 216.5,279.7 217.0,280.3 217.5,280.9 218.0,281.7 218.5,281.7 219.0,281.6 219.5,280.5 220.0,278.7 220.5,279.3 221.0,279.2 221.5,280.9 222.0,281.6 222.5,280.1 223.0,281.1 223.5,280.4 224.0,280.2 224.5,279.6 225.0,277.7 225.5,279.4 226.0,279.3 226.5,279.7 227.0,279.3 227.5,278.4 228.0,277.8 228.5,279.6 229.0,279.1 229.5,277.9 230.0,280.0 230.5,279.6 231.0,278.8 231.5,279.9 232.0,279.1 232.5,279.5 233.0,279.4 233.5,278.5 234.0,277.2 234.5,278.4 235.0,279.3 235.5,281.3 236.0,281.4 236.5,281.3 237.0,281.6 237.5,282.2 238.0,283.4 238.5,281.5 239.0,282.6 239.5,282.2 240.0,282.6 240.5,281.8 241.0,281.9 241.5,283.7 242.0,281.7 242.5,282.2 243.0,282.3 243.5,282.0 244.0,282.0 244.5,282.5 245.0,282.1 245.5,282.1 246.0,281.9 246.5,282.2 247.0,281.9 247.5,281.8 248.0,282.6 248.5,283.1 249.0,284.5 249.5,284.1 250.0,282.2 250.5,282.2 251.0,281.3 251.5,280.3 252.0,280.5 252.5,280.2 253.0,280.5 253.5,282.2 254.0,283.9 254.5,284.3 255.0,285.0 255.5,286.0 256.0,287.2 256.5,285.9 257.0,284.3 257.5,285.7 258.0,284.9 258.5,282.9 259.0,282.8 259.5,281.8 260.0,283.0 260.5,284.3 261.0,284.8 261.5,284.6 262.0,284.8 262.5,284.3 263.0,284.4 263.5,284.7 264.0,284.2 264.5,283.9 265.0,283.5 265.5,285.2 266.0,285.3 266.5,284.4 267.0,285.6 267.5,285.4 268.0,285.0 268.5,282.3 269.0,281.4 269.5,280.0 270.0,279.9 270.5,279.5 271.0,279.6 271.5,279.9 272.0,278.9 272.5,276.6 273.0,277.1 273.5,276.6 274.0,275.8 274.5,274.6 275.0,273.5 275.5,276.2 276.0,275.7 276.5,276.2 277.0,275.5 277.5,274.0 278.0,275.0 278.5,276.4 279.0,278.0 279.5,278.2 280.0,277.9 280.5,279.1 281.0,279.6 281.5,280.9 282.0,281.9 282.5,284.2 283.0,284.4 283.5,284.9 284.0,283.6 284.5,284.7 285.0,284.3 285.5,285.6 286.0,284.6 286.5,285.1 287.0,284.3 287.5,283.4 288.0,282.9 288.5,286.2 289.0,286.3 289.5,284.9 290.0,286.0 290.5,286.2 291.0,285.3 291.5,286.6 292.0,285.5 292.5,284.6 293.0,282.9 293.5,282.9 294.0,282.4 294.5,282.8 295.0,284.7 295.5,283.4 296.0,283.1 296.5,283.1 297.0,284.1 297.5,283.9 298.0,283.2 298.5,283.9 299.0,283.4 299.5,283.3 300.0,284.1 300.5,284.2 301.0,285.6 301.5,286.7 302.0,285.9 302.5,286.3 303.0,286.5 303.5,285.7 304.0,285.7 304.5,286.4 305.0,287.0 305.5,288.2 306.0,287.8 306.5,288.0 307.0,289.1 307.5,288.5 308.0,288.2 308.5,289.9 309.0,289.6 309.5,289.6 310.0,291.9 310.5,291.9 311.0,292.4 311.5,291.5 312.0,291.6 312.5,291.5 313.0,290.6 313.5,289.1 314.0,289.0 314.5,288.9 315.0,289.6 315.5,291.4 316.0,292.0 316.5,292.9 316.9,292.5 317.4,292.7 317.9,293.8 318.4,295.8 318.9,294.8 319.4,295.3 319.9,296.7 320.4,296.6 320.9,298.4 321.4,298.2 321.9,298.4 322.3,299.2 322.8,298.4 323.3,298.2 323.8,298.7 324.3,299.1 324.8,300.8 325.3,301.1 325.8,301.7 326.3,301.6 326.8,301.5 327.3,303.0 327.8,304.6 328.3,305.6 328.8,306.6 329.3,306.7 329.8,306.4 330.3,307.7 330.8,308.9 331.3,306.1 331.7,306.1 332.2,307.0 332.7,305.6 333.2,305.9 333.7,306.7 334.2,305.7 334.7,306.0 335.2,306.6 335.7,306.7 336.2,305.1 336.7,305.8 337.2,307.1 337.7,306.4 338.2,305.5 338.7,306.6 339.2,305.9 339.7,306.0 340.2,306.8 340.7,306.6 341.2,307.2 341.7,308.0 342.2,308.2 342.7,306.3 343.2,305.8 343.6,306.4 344.1,305.2 344.6,304.0 345.1,304.5 345.6,305.1 346.1,304.3 346.6,305.4 347.1,306.0 347.6,305.4 348.1,306.9 348.6,306.0 349.1,306.6 349.5,308.2 350.0,309.2 350.5,309.2 351.0,309.2 351.5,311.9 352.0,310.9 352.5,311.9 353.0,311.7 353.5,311.3 354.0,311.0 354.5,312.8 355.0,311.7 355.5,312.0 356.0,312.0 356.5,312.5 357.0,310.9 357.5,311.2 358.0,312.0 358.5,312.2 359.0,313.3 359.5,311.9 360.0,310.8 360.4,310.7 360.9,312.7 361.4,313.0 361.9,313.4 362.4,315.0 362.9,315.7 363.4,315.6 363.9,317.1 364.4,317.5 364.9,317.5 365.4,316.7 365.9,316.9 366.4,315.1 366.9,314.8 367.4,314.8 367.9,315.6 368.4,316.4 368.9,316.4 369.4,317.0 369.9,316.0 370.3,315.3 370.8,315.1 371.3,315.8 371.8,316.0 372.3,314.1 372.8,312.9 373.4,314.1 373.9,313.9 374.4,313.7 374.9,315.2 375.4,316.2 376.0,318.5 376.5,318.6 377.0,317.9 377.5,318.6 378.0,320.3 378.5,321.9 378.9,320.6 379.4,320.1 379.9,320.8 380.4,321.8 380.9,321.5 381.4,322.3 381.9,323.2 382.4,326.7 382.9,329.0 383.4,328.2 383.9,327.5 384.4,327.5 384.9,325.9 385.4,325.7 385.8,324.7 386.3,323.3 386.8,323.0 387.3,321.7 387.8,322.3 388.3,321.2 388.8,320.0 389.3,318.8 389.8,318.9 390.3,320.1 390.8,320.1 391.3,320.8 391.8,319.0 392.3,319.5 392.8,317.8 393.3,315.7 393.7,315.5 394.2,315.4 394.7,316.1 395.2,318.3 395.7,317.1 396.2,317.8 396.7,316.5 397.2,316.4 397.7,314.4 398.2,316.1 398.7,316.2 399.2,316.0 399.7,314.9 400.2,314.7 400.7,314.1 401.2,314.8 401.7,314.1 402.2,312.9 402.7,313.3 403.2,313.4 403.7,313.1 404.2,314.1 404.6,313.0 405.1,312.4 405.6,312.6 406.1,312.7 406.6,311.8 407.1,310.5 407.6,311.2 408.1,311.5 408.6,313.0 409.1,312.2 409.6,311.8 410.1,311.1 410.6,310.8 411.0,311.0 411.5,311.3 412.0,312.0 412.5,312.0 413.0,311.6 413.5,311.9 414.0,310.7 414.5,310.7 415.0,310.1 415.5,311.1 416.0,311.5 416.5,312.1 417.0,311.6 417.5,310.1 418.0,308.9 418.5,308.3 419.0,308.4 419.5,308.1 420.0,308.0 420.5,308.6 420.9,309.3 421.4,309.7 421.9,309.5 422.4,310.4 422.9,309.6 423.4,309.6 423.9,308.9 424.4,309.9 424.9,309.0 425.4,309.8 425.9,309.3 426.4,308.3 426.9,308.4 427.4,309.3 427.9,309.6 428.4,311.2 428.9,312.1 429.4,310.8 429.9,308.9 430.4,307.5 430.8,308.4 431.3,307.5 431.8,307.3 432.3,308.4 432.8,307.4 433.4,306.9 434.0,307.0"/><polyline points="200.0,272.7 200.5,273.1 201.0,272.7 201.5,272.0 202.0,271.4 202.5,270.4 203.0,271.1 203.5,271.3 204.0,270.9 204.5,273.3 205.0,272.4 205.5,271.4 206.0,270.3 206.5,269.5 207.0,269.9 207.5,270.1 208.0,268.8 208.5,269.2 209.0,271.4 209.5,272.3 210.0,273.1 210.5,273.4 211.0,272.6 211.5,274.9 212.0,275.5 212.5,277.6 213.0,278.5 213.5,279.9 214.0,280.3 214.5,280.6 215.0,278.9 215.5,280.3 216.0,281.5 216.5,281.2 217.0,281.4 217.5,281.7 218.0,281.7 218.5,281.7 219.0,282.6 219.5,282.4 220.0,283.0 220.5,284.0 221.0,283.2 221.5,283.9 222.0,284.3 222.5,285.0 223.0,285.1 223.5,284.5 224.0,285.5 224.5,284.0 225.0,282.2 225.5,283.6 226.0,283.9 226.5,282.5 227.0,281.1 227.5,280.7 228.0,278.9 228.5,280.0 229.0,278.0 229.5,276.7 230.0,276.1 230.5,275.9 231.0,273.7 231.5,271.6 232.0,272.1 232.5,273.4 233.0,273.0 233.5,272.0 234.0,273.2 234.5,275.4 235.0,275.9 235.5,274.4 236.0,274.0 236.5,274.2 237.0,272.8 237.5,273.3 238.0,273.3 238.5,274.2 239.0,274.7 239.5,276.4 240.0,278.0 240.5,277.4 241.0,279.1 241.5,279.8 242.0,279.8 242.5,278.8 243.0,277.7 243.5,277.9 244.0,279.2 244.5,278.6 245.0,277.7 245.5,275.9 246.0,277.4 246.5,276.1 247.0,275.7 247.5,275.6 248.0,275.8 248.5,276.1 249.0,277.1 249.5,276.6 250.0,276.7 250.5,277.5 251.0,277.7 251.5,277.4 252.0,277.9 252.5,278.4 253.0,277.9 253.5,277.7 254.0,277.7 254.5,277.7 255.0,279.7 255.5,278.3 256.0,279.9 256.5,280.1 257.0,281.1 257.5,281.2 258.0,279.9 258.5,280.4 259.0,280.5 259.5,282.7 260.0,280.6 260.5,282.9 261.0,281.4 261.5,280.2 262.0,279.9 262.5,280.5 263.0,281.9 263.5,283.3 264.0,284.0 264.5,284.4 265.0,283.3 265.5,284.6 266.0,284.8 266.5,283.2 267.0,281.6 267.5,283.3 268.0,282.2 268.5,282.2 269.0,280.8 269.5,281.5 270.0,280.7 270.5,281.0 271.0,281.3 271.5,282.3 272.0,282.0 272.5,280.8 273.0,282.1 273.5,280.7 274.0,280.9 274.5,281.1 275.0,281.0 275.5,280.8 276.0,282.2 276.5,281.1 277.0,281.3 277.5,280.4 278.0,283.8 278.5,284.3 279.0,284.8 279.5,283.4 280.0,282.0 280.5,280.6 281.0,280.0 281.5,281.5 282.0,282.4 282.5,282.3 283.0,281.9 283.5,281.5 284.0,282.2 284.5,282.2 285.0,283.1 285.5,283.5 286.0,283.2 286.5,283.4 287.0,283.2 287.5,282.3 288.0,281.0 288.5,281.1 289.0,282.5 289.5,282.2 290.0,283.8 290.5,283.1 291.0,282.7 291.5,284.0 292.0,283.9 292.5,283.7 293.0,284.1 293.5,284.2 294.0,284.1 294.5,284.5 295.0,285.6 295.5,284.5 296.0,285.6 296.5,283.9 297.0,284.1 297.5,283.8 298.0,284.4 298.5,286.1 299.0,287.1 299.5,287.4 300.0,287.4 300.5,288.3 301.0,287.2 301.5,285.8 302.0,285.3 302.5,283.6 303.0,284.7 303.5,286.8 304.0,287.0 304.5,285.9 305.0,285.3 305.5,283.4 306.0,282.8 306.5,284.5 307.0,285.6 307.5,286.3 308.0,287.2 308.5,286.1 309.0,285.5 309.5,286.5 310.0,287.1 310.5,288.0 311.0,287.7 311.5,286.6 312.0,287.9 312.5,287.7 313.0,286.5 313.5,288.3 314.0,287.5 314.5,287.2 315.0,289.0 315.5,289.6 316.0,289.1 316.5,289.1 317.0,288.3 317.5,287.9 318.0,289.1 318.5,286.2 319.0,285.5 319.5,286.1 320.0,284.0 320.5,284.0 321.0,286.3 321.5,288.6 322.0,288.3 322.5,288.4 323.0,289.3 323.5,287.9 324.0,286.8 324.5,285.5 325.0,286.0 325.5,284.9 326.0,286.3 326.5,285.9 327.0,285.2 327.5,286.0 328.0,284.8 328.5,284.7 329.0,284.9 329.5,284.9 330.0,286.7 330.5,287.9 331.0,289.6 331.5,289.7 332.0,288.3 332.5,288.0 333.0,289.2 333.5,290.7 334.0,290.6 334.5,289.6 335.0,289.4 335.5,287.8 336.0,287.9 336.5,286.9 337.0,285.4 337.5,283.7 338.0,285.1 338.5,284.6 339.0,285.3 339.5,286.2 340.0,286.8 340.5,287.0 341.0,284.8 341.5,283.7 342.0,282.3 342.5,283.4 343.0,284.3 343.5,284.9 344.0,284.7 344.5,286.0 345.0,286.7 345.5,287.7 346.0,287.6 346.5,287.5 347.0,287.1 347.5,286.7 348.0,285.6 348.5,284.9 349.0,284.1 349.5,285.7 350.0,287.0 350.5,287.7 351.0,286.5 351.5,285.9 352.0,286.6 352.5,286.2 353.0,285.1 353.5,285.3 354.0,286.1 354.5,287.4 355.0,287.8 355.5,287.1 356.0,287.6 356.5,287.9 357.0,285.4 357.5,286.5 358.0,287.0 358.5,287.2 359.0,288.8 359.5,289.3 360.0,290.3 360.5,291.0 361.0,289.9 361.5,289.6 362.0,289.6 362.5,289.4 363.0,290.7 363.5,288.9 364.0,288.8 364.5,287.2 365.0,288.7 365.5,289.4 366.0,290.3 366.5,288.5 367.0,288.5 367.5,288.6 368.0,286.9 368.5,288.2 369.0,290.5 369.5,289.7 370.0,290.0 370.5,289.0 371.0,289.0 371.5,290.3 372.0,290.9 372.5,292.4 373.0,292.5 373.5,293.7 373.9,291.6 374.4,290.6 374.9,290.6 375.4,290.5 375.9,292.5 376.4,294.1 376.9,294.3 377.4,293.9 377.9,293.4 378.4,294.3 378.9,295.4 379.4,297.1 379.9,297.9 380.4,298.0 380.9,299.3 381.4,299.6 381.9,299.2 382.4,299.3 382.9,298.2 383.4,298.8 383.9,298.9 384.3,300.5 384.8,300.2 385.3,301.3 385.8,300.4 386.3,300.9 386.8,300.0 387.3,299.3 387.8,299.5 388.3,299.3 388.8,300.2 389.3,301.1 389.8,301.4 390.3,300.2 390.8,301.5 391.3,303.0 391.8,301.8 392.3,301.4 392.8,302.8 393.3,302.8 393.7,302.6 394.2,304.3 394.7,304.5 395.2,305.4 395.7,306.0 396.2,306.1 396.7,305.9 397.2,305.3 397.7,306.0 398.2,306.2 398.7,306.4 399.2,304.9 399.7,304.5 400.2,303.4 400.7,304.2 401.2,303.3 401.7,302.3 402.2,301.2 402.7,301.8 403.2,302.2 403.7,302.3 404.1,302.4 404.6,301.7 405.1,300.7 405.6,300.3 406.1,300.0 406.6,298.9 407.1,300.0 407.6,300.2 408.1,300.7 408.6,300.3 409.1,299.5 409.6,297.2 410.1,295.6 410.6,295.6 411.1,296.5 411.6,297.2 412.1,297.4 412.5,299.9 413.0,300.2 413.5,300.8 414.0,303.6 414.5,302.6 415.0,301.4 415.5,301.6 416.0,302.3 416.5,300.3 417.0,300.9 417.5,301.6 418.0,303.0 418.5,304.9 419.0,303.6 419.5,302.8 420.0,301.4 420.4,302.1 420.9,299.8 421.4,300.7 421.9,301.4 422.4,300.8 422.9,300.7 423.4,300.0 423.9,299.2 424.4,299.5 424.9,300.6 425.4,302.4 425.9,304.1 426.4,303.3 426.9,301.5 427.4,302.0 428.0,302.7 428.5,302.0 429.0,303.3 429.5,305.6 430.1,304.8 430.6,304.5 431.2,305.5 431.7,305.4 432.2,307.5 432.8,308.2 433.4,307.8 434.0,307.4"/><polyline points="200.0,271.7 200.5,271.7 201.0,272.0 201.5,272.1 202.0,272.3 202.5,272.0 203.0,272.0 203.5,271.7 204.0,272.1 204.5,272.3 205.0,270.9 205.5,271.8 206.0,273.7 206.5,273.4 207.0,273.2 207.5,272.4 208.0,271.5 208.5,271.2 209.0,272.0 209.5,271.7 210.0,272.3 210.5,273.3 211.0,272.4 211.5,270.9 212.0,270.5 212.5,269.8 213.0,269.4 213.5,270.6 214.0,270.6 214.5,269.9 215.0,269.6 215.5,270.6 216.0,271.9 216.5,272.6 217.0,271.9 217.5,272.7 218.0,274.4 218.5,273.2 219.0,272.0 219.5,271.9 220.0,272.6 220.5,272.1 221.0,272.4 221.5,273.7 222.0,273.3 222.5,272.7 223.0,271.7 223.5,271.6 224.0,271.5 224.5,273.1 225.0,273.4 225.5,273.1 226.0,273.6 226.5,275.4 227.0,273.8 227.5,272.9 228.0,273.3 228.5,273.2 229.0,274.4 229.5,275.0 230.0,274.9 230.5,275.3 231.0,275.8 231.5,274.9 232.0,274.8 232.5,274.8 233.0,274.9 233.5,275.1 234.0,275.5 234.5,274.7 235.0,274.3 235.5,275.1 236.0,276.1 236.5,276.3 237.0,275.7 237.5,276.0 238.0,276.6 238.5,275.7 239.0,275.9 239.5,275.4 240.0,273.0 240.5,272.7 241.0,276.0 241.5,276.7 242.0,275.2 242.5,275.5 243.0,275.1 243.5,274.9 244.0,274.6 244.5,276.2 245.0,276.8 245.5,276.8 246.0,275.6 246.5,276.3 247.0,274.2 247.5,273.8 248.0,275.1 248.5,276.6 249.0,278.5 249.5,278.2 250.0,276.8 250.5,275.9 251.0,275.9 251.5,274.5 252.0,274.8 252.5,271.8 253.0,274.0 253.5,274.8 254.0,277.6 254.5,278.0 255.0,275.4 255.5,274.0 256.0,272.6 256.5,274.2 257.0,274.5 257.5,273.3 258.0,273.3 258.5,272.6 259.0,274.9 259.5,273.5 260.0,274.8 260.5,274.0 261.0,273.6 261.5,273.3 262.0,271.4 262.5,268.3 263.0,266.4 263.5,266.2 264.0,267.2 264.5,265.2 265.0,265.4 265.5,265.3 266.0,270.5 266.5,268.8 267.0,267.7 267.5,265.8 268.0,266.3 268.5,266.6 269.0,268.3 269.5,270.3 270.0,274.0 270.5,273.2 271.0,272.8 271.5,272.2 272.0,270.8 272.5,269.1 273.0,268.8 273.5,268.6 274.0,268.3 274.5,270.2 275.0,269.6 275.5,266.6 276.0,266.7 276.5,265.5 277.0,266.4 277.5,267.5 278.0,267.3 278.5,267.3 279.0,268.8 279.5,266.9 280.0,266.6 280.5,266.3 281.0,263.8 281.5,261.8 282.0,262.7 282.5,262.3 283.0,260.5 283.5,259.3 284.0,259.7 284.5,260.3 285.0,260.3 285.5,260.4 286.0,260.2 286.5,259.9 287.0,263.0 287.5,263.0 288.0,265.8 288.5,267.6 289.0,266.3 289.5,266.7 290.0,268.6 290.5,267.0 291.0,270.0 291.5,270.9 292.0,271.6 292.5,271.7 293.0,272.2 293.5,269.6 294.0,270.0 294.5,267.9 295.0,267.0 295.5,266.5 296.0,267.9 296.5,265.9 297.0,268.0 297.5,271.1 298.0,273.9 298.5,275.6 299.0,273.9 299.5,272.9 300.0,272.2 300.5,274.2 301.0,277.0 301.5,275.6 302.0,279.8 302.5,278.5 303.0,275.0 303.5,275.1 304.0,276.9 304.5,276.9 305.0,275.7 305.5,278.1 306.0,276.3 306.5,278.1 307.0,278.0 307.5,277.1 308.0,276.1 308.5,274.4 309.0,273.2 309.5,273.6 310.0,272.1 310.5,271.2 311.0,273.0 311.5,275.7 312.0,277.2 312.5,279.3 313.0,278.1 313.5,278.4 314.0,275.5 314.5,272.2 315.0,273.0 315.5,272.6 316.0,274.1 316.5,273.7 317.0,275.6 317.5,273.3 318.0,271.2 318.5,270.3 319.0,272.5 319.5,272.6 320.0,271.6 320.5,269.9 321.0,271.0 321.5,273.4 322.0,271.4 322.5,273.2 323.0,271.4 323.5,271.7 324.0,269.9 324.5,267.5 325.0,268.2 325.5,267.4 326.0,267.7 326.5,266.9 327.0,266.3 327.5,264.8 328.0,265.9 328.5,264.2 329.0,266.4 329.5,265.6 330.0,266.2 330.5,265.1 331.0,263.1 331.5,261.6 332.0,265.8 332.5,264.2 333.0,264.9 333.5,266.5 334.0,265.5 334.5,265.2 335.0,268.2 335.5,267.1 336.0,265.9 336.5,265.6 337.0,265.6 337.5,265.7 338.0,267.5 338.5,268.3 339.0,271.0 339.5,269.9 340.0,275.4 340.5,274.3 341.0,274.1 341.5,272.1 342.0,269.3 342.5,267.8 343.0,268.6 343.5,266.8 344.0,268.3 344.5,265.6 345.0,262.6 345.5,262.6 346.0,262.0 346.5,260.7 347.0,263.9 347.5,265.6 348.0,266.7 348.5,263.6 349.0,266.1 349.5,266.6 350.0,266.7 350.5,267.5 351.0,264.5 351.5,267.2 352.0,266.1 352.5,269.4 353.0,270.4 353.5,273.6 354.0,274.5 354.5,277.3 355.0,275.5 355.5,276.1 356.0,274.9 356.5,275.9 357.0,273.7 357.5,276.1 358.0,277.0 358.5,274.3 359.0,272.1 359.5,273.8 360.0,273.7 360.5,275.6 361.0,273.0 361.5,274.4 362.0,276.2 362.5,276.5 363.0,276.9 363.5,275.9 364.0,272.4 364.5,269.9 365.0,271.1 365.5,272.2 366.0,274.9 366.5,273.3 367.0,274.9 367.5,271.8 368.0,273.2 368.5,271.3 369.0,270.5 369.5,271.4 370.0,273.2 370.5,272.3 371.0,272.4 371.5,275.2 372.0,278.8 372.5,276.9 373.0,276.3 373.5,276.6 374.0,278.9 374.5,278.5 375.0,281.5 375.5,281.1 376.0,280.8 376.5,282.3 377.0,283.3 377.5,279.3 378.0,277.6 378.5,278.0 379.0,276.6 379.5,276.0 380.0,275.0 380.5,276.5 381.0,274.6 381.5,276.0 382.0,279.4 382.5,281.2 383.0,281.8 383.5,280.2 384.0,283.3 384.5,284.3 385.0,286.4 385.5,284.3 386.0,286.3 386.5,284.3 387.0,285.4 387.5,285.9 388.0,287.1 388.5,285.8 389.0,287.3 389.5,289.3 390.0,290.6 390.5,291.4 391.0,289.8 391.5,290.2 392.0,291.3 392.5,292.7 393.0,291.0 393.5,290.4 394.0,290.7 394.5,292.1 395.0,293.1 395.5,289.7 396.0,292.4 396.5,292.9 397.0,293.5 397.5,291.0 398.0,290.5 398.5,290.3 399.0,289.5 399.5,287.3 400.0,284.2 400.5,281.9 401.0,281.3 401.5,282.0 402.0,281.6 402.5,278.0 403.0,277.0 403.5,274.9 404.0,277.4 404.5,279.1 405.0,279.5 405.5,275.8 406.0,277.4 406.5,278.0 407.0,278.0 407.5,277.6 408.0,277.4 408.5,274.6 409.0,273.3 409.5,271.4 410.0,273.5 410.5,275.6 411.0,274.0 411.5,272.5 412.0,271.8 412.5,269.3 413.0,271.6 413.5,272.3 414.0,276.2 414.5,272.0 415.0,270.6 415.5,270.0 416.0,267.3 416.5,268.3 417.0,271.6 417.5,269.9 418.0,271.6 418.5,274.3 419.0,279.6 419.5,279.6 420.0,280.1 420.5,283.3 421.0,284.1 421.5,285.4 422.0,284.7 422.5,283.3 423.0,281.0 423.5,282.5 424.0,285.6 424.5,286.2 425.0,285.0 425.5,286.2 426.0,285.9 426.5,287.9 427.0,289.7 427.5,287.3 428.0,287.3 428.5,284.2 429.0,286.7 429.5,282.6 430.0,281.0 430.5,279.9 431.0,275.8 431.5,276.7 432.0,278.0 432.5,278.7 433.0,278.6 433.5,278.2 434.0,279.8"/><polyline points="200.0,274.2 200.5,273.4 201.0,272.1 201.5,272.1 202.0,271.4 202.5,270.7 203.0,270.2 203.5,271.4 204.0,272.3 204.5,270.8 205.0,271.0 205.5,270.8 206.0,272.0 206.5,271.5 207.0,272.2 207.5,271.0 208.0,271.2 208.5,271.7 209.0,272.9 209.5,273.6 210.0,272.7 210.5,273.7 211.0,274.4 211.5,274.8 212.0,273.1 212.5,272.5 213.0,273.7 213.5,275.2 214.0,275.5 214.5,273.7 215.0,275.0 215.5,273.8 216.0,273.9 216.5,273.0 217.0,271.7 217.5,272.3 218.0,271.1 218.5,270.4 219.0,268.5 219.5,266.8 220.0,267.5 220.5,266.9 221.0,269.7 221.5,271.9 222.0,272.0 222.5,272.3 223.0,268.8 223.5,269.4 224.0,268.4 224.5,268.4 225.0,268.7 225.5,268.4 226.0,268.0 226.5,266.8 227.0,268.5 227.5,269.5 228.0,271.4 228.5,271.2 229.0,270.0 229.5,270.2 230.0,274.2 230.5,272.2 231.0,272.7 231.5,272.0 232.0,268.2 232.5,270.2 233.0,270.6 233.5,271.2 234.0,270.0 234.5,269.0 235.0,270.1 235.5,270.1 236.0,270.3 236.5,273.2 237.0,272.4 237.5,271.6 238.0,270.9 238.5,269.5 239.0,268.8 239.5,269.7 240.0,269.2 240.5,269.1 241.0,268.5 241.5,270.6 242.0,269.4 242.5,270.6 243.0,269.8 243.5,270.1 244.0,270.0 244.5,270.5 245.0,271.7 245.5,269.5 246.0,271.8 246.5,270.4 247.0,269.8 247.5,271.7 248.0,272.9 248.5,271.6 249.0,270.4 249.5,270.5 250.0,270.0 250.5,268.9 251.0,268.2 251.5,268.9 252.0,269.8 252.5,268.8 253.0,271.4 253.5,271.8 254.0,270.4 254.5,270.3 255.0,269.6 255.5,270.7 256.0,270.0 256.5,270.6 257.0,270.7 257.5,272.0 258.0,271.1 258.5,269.7 259.0,269.4 259.5,268.9 260.0,270.7 260.5,270.9 261.0,268.0 261.5,267.8 262.0,266.1 262.5,265.5 263.0,263.9 263.5,263.1 264.0,262.3 264.5,263.8 265.0,263.0 265.5,264.4 266.0,263.1 266.5,263.9 267.0,262.7 267.5,262.8 268.0,263.7 268.5,266.1 269.0,266.9 269.5,269.4 270.0,268.8 270.5,271.5 271.0,271.9 271.5,271.8 272.0,273.6 272.5,272.0 273.0,270.5 273.5,269.3 274.0,270.5 274.5,273.4 275.0,273.1 275.5,275.3 276.0,276.8 276.5,277.4 277.0,280.8 277.5,278.3 278.0,276.7 278.5,272.9 279.0,272.0 279.5,274.8 280.0,275.1 280.5,273.9 281.0,272.3 281.5,272.1 282.0,273.0 282.5,273.9 283.0,273.9 283.5,276.4 284.0,277.6 284.5,279.4 285.0,279.0 285.5,278.6 286.0,278.0 286.5,280.1 287.0,278.1 287.5,279.9 288.0,281.1 288.5,278.9 289.0,276.1 289.5,279.8 290.0,279.4 290.5,280.5 291.0,282.1 291.5,282.0 292.0,279.8 292.5,276.5 293.0,276.9 293.5,274.7 294.0,275.2 294.5,273.2 295.0,278.6 295.5,279.1 296.0,281.3 296.5,281.3 297.0,280.4 297.5,280.6 298.0,280.9 298.5,281.4 299.0,280.8 299.5,279.4 300.0,277.6 300.5,278.0 301.0,279.2 301.5,276.4 302.0,276.4 302.5,277.0 303.0,280.2 303.5,277.5 304.0,278.8 304.5,278.4 305.0,279.3 305.5,279.7 306.0,278.3 306.5,277.6 307.0,277.4 307.5,278.4 308.0,278.1 308.5,280.0 309.0,282.1 309.5,283.0 310.0,281.8 310.5,279.6 311.0,281.7 311.5,283.9 312.0,282.8 312.5,286.5 313.0,286.5 313.5,286.4 314.0,287.5 314.5,287.5 315.0,286.5 315.5,286.5 316.0,286.3 316.5,288.0 317.0,288.6 317.5,285.2 318.0,286.8 318.5,286.9 319.0,286.7 319.5,285.1 320.0,289.5 320.5,289.2 321.0,288.8 321.5,287.7 322.0,287.0 322.5,285.6 323.0,286.4 323.5,287.7 324.0,288.4 324.5,288.6 325.0,286.5 325.5,288.0 326.0,288.1 326.5,288.6 327.0,290.0 327.5,289.3 328.0,290.0 328.5,289.4 329.0,288.0 329.5,286.2 330.0,283.7 330.5,281.2 331.0,283.3 331.5,283.4 332.0,283.9 332.5,282.1 333.0,277.9 333.5,277.7 334.0,282.7 334.5,281.0 335.0,283.0 335.5,281.0 336.0,278.4 336.5,276.7 337.0,275.0 337.5,275.5 338.0,275.3 338.5,275.2 339.0,274.0 339.5,277.9 340.0,280.5 340.5,279.6 341.0,278.6 341.5,274.8 342.0,275.8 342.5,272.9 343.0,275.0 343.5,273.6 344.0,276.3 344.5,273.3 345.0,275.1 345.5,275.7 346.0,276.8 346.5,277.6 347.0,274.8 347.5,280.8 348.0,278.0 348.5,280.6 349.0,279.5 349.5,277.3 350.0,278.1 350.5,281.2 351.0,282.8 351.5,279.6 352.0,276.8 352.5,279.3 353.0,279.8 353.5,281.5 354.0,281.5 354.5,277.7 355.0,275.9 355.5,275.6 356.0,273.3 356.5,271.6 357.0,271.1 357.5,273.5 358.0,271.2 358.5,271.9 359.0,271.3 359.5,273.1 360.0,272.4 360.5,270.8 361.0,270.2 361.5,266.9 362.0,270.0 362.5,271.9 363.0,272.4 363.5,272.2 364.0,272.7 364.5,273.4 365.0,272.2 365.5,273.3 366.0,273.5 366.5,274.9 367.0,272.5 367.5,273.0 368.0,269.9 368.5,272.8 369.0,271.1 369.5,270.8 370.0,274.2 370.5,269.8 371.0,269.3 371.5,265.5 372.0,266.6 372.5,265.9 373.0,265.1 373.5,262.8 374.0,263.2 374.5,264.1 375.0,263.8 375.5,264.7 376.0,264.3 376.5,264.8 377.0,267.4 377.5,269.5 378.0,271.1 378.5,271.5 379.0,269.7 379.5,268.4 380.0,267.4 380.5,273.8 381.0,272.7 381.5,270.3 382.0,272.3 382.5,271.6 383.0,271.0 383.5,271.8 384.0,271.3 384.5,269.5 385.0,270.5 385.5,273.5 386.0,275.8 386.5,277.1 387.0,277.9 387.5,278.6 388.0,279.1 388.5,280.1 389.0,280.1 389.5,279.1 390.0,279.6 390.5,274.6 391.0,274.5 391.5,274.4 392.0,274.0 392.5,274.1 393.0,272.2 393.5,269.7 394.0,269.7 394.5,270.3 395.0,272.8 395.5,272.1 396.0,269.5 396.5,270.5 397.0,269.6 397.5,269.2 398.0,270.6 398.5,269.6 399.0,270.2 399.5,268.0 400.0,266.8 400.5,268.1 401.0,268.6 401.5,266.3 402.0,263.4 402.5,263.8 403.0,264.9 403.5,264.4 404.0,265.8 404.5,269.6 405.0,267.6 405.5,272.3 406.0,276.4 406.5,271.1 407.0,266.4 407.5,266.3 408.0,266.2 408.5,265.0 409.0,264.5 409.5,266.1 410.0,264.3 410.5,260.2 411.0,259.0 411.5,260.5 412.0,265.0 412.5,265.3 413.0,259.9 413.5,258.0 414.0,257.8 414.5,255.2 415.0,256.5 415.5,257.2 416.0,259.1 416.5,261.9 417.0,260.1 417.5,264.2 418.0,260.3 418.5,259.0 419.0,257.0 419.5,255.0 420.0,256.1 420.5,259.7 421.0,256.1 421.5,258.0 422.0,262.4 422.5,262.9 423.0,258.8 423.5,259.0 424.0,260.8 424.5,256.6 425.0,257.0 425.5,258.9 426.0,260.4 426.5,262.5 427.0,265.5 427.5,262.0 428.0,258.7 428.5,262.0 429.0,262.4 429.5,264.8 430.0,265.8 430.5,263.8 431.0,264.7 431.5,265.7 432.0,265.3 432.5,261.9 433.0,261.1 433.5,260.3 434.0,262.1"/><polyline points="200.0,275.6 200.5,273.9 201.0,274.1 201.5,274.3 202.0,273.2 202.5,272.8 203.0,273.5 203.5,273.4 204.0,272.2 204.5,273.8 205.0,274.4 205.5,273.2 206.0,273.4 206.5,270.7 207.0,270.5 207.5,272.7 208.0,271.2 208.5,270.8 209.0,270.1 209.5,269.1 210.0,269.4 210.5,269.5 211.0,268.2 211.5,269.0 212.0,269.3 212.5,269.6 213.0,270.5 213.5,271.4 214.0,271.4 214.5,270.9 215.0,270.0 215.5,270.1 216.0,268.9 216.5,267.8 217.0,267.6 217.5,268.1 218.0,269.5 218.5,269.2 219.0,269.3 219.5,268.3 220.0,268.8 220.5,268.1 221.0,268.8 221.5,268.5 222.0,269.5 222.5,270.9 223.0,269.3 223.5,269.3 224.0,268.6 224.5,268.6 225.0,268.1 225.5,268.2 226.0,269.3 226.5,270.2 227.0,269.9 227.5,268.4 228.0,269.4 228.5,269.2 229.0,271.2 229.5,270.5 230.0,270.2 230.5,269.9 231.0,269.7 231.5,270.0 232.0,268.9 232.5,267.3 233.0,266.0 233.5,265.4 234.0,266.5 234.5,266.5 235.0,267.3 235.5,268.7 236.0,268.1 236.5,267.4 237.0,266.0 237.5,265.6 238.0,266.1 238.5,265.0 239.0,265.1 239.5,267.3 240.0,264.4 240.5,263.0 241.0,263.9 241.5,262.9 242.0,263.1 242.5,264.2 243.0,262.5 243.5,261.8 244.0,262.7 244.5,264.1 245.0,264.4 245.5,266.8 246.0,266.9 246.5,266.0 247.0,266.0 247.5,265.2 248.0,264.3 248.5,265.2 249.0,263.9 249.5,265.2 250.0,267.1 250.5,266.8 251.0,265.7 251.5,267.2 252.0,266.0 252.5,263.8 253.0,263.1 253.5,264.4 254.0,264.6 254.5,265.8 255.0,269.5 255.5,270.4 256.0,269.8 256.5,271.7 257.0,272.3 257.5,274.3 258.0,276.5 258.5,275.7 259.0,276.4 259.5,276.3 260.0,274.7 260.5,274.2 261.0,274.7 261.5,275.1 262.0,274.6 262.5,274.0 263.0,273.6 263.5,271.3 264.0,271.7 264.5,270.6 265.0,269.6 265.5,273.6 266.0,273.3 266.5,273.9 267.0,274.8 267.5,276.4 268.0,276.8 268.5,277.8 269.0,278.5 269.5,277.7 270.0,276.9 270.5,275.8 271.0,277.6 271.5,278.7 272.0,279.6 272.5,278.5 273.0,278.7 273.5,278.1 274.0,275.3 274.5,271.6 275.0,271.5 275.5,274.7 276.0,273.9 276.5,274.8 277.0,275.4 277.5,274.7 278.0,274.8 278.5,273.6 279.0,273.6 279.5,274.3 280.0,275.5 280.5,275.7 281.0,276.7 281.5,274.3 282.0,274.1 282.5,275.3 283.0,274.8 283.5,275.8 284.0,274.3 284.5,271.4 285.0,273.9 285.5,276.8 286.0,276.8 286.5,275.4 287.0,274.5 287.5,275.2 288.0,273.1 288.5,273.1 289.0,273.3 289.5,270.1 290.0,269.5 290.5,268.9 291.0,272.4 291.5,273.2 292.0,275.4 292.5,274.4 293.0,272.6 293.5,272.4 294.0,271.2 294.5,272.0 295.0,268.5 295.5,268.4 296.0,268.2 296.5,268.2 297.0,268.5 297.5,267.1 298.0,268.9 298.5,268.2 299.0,268.8 299.5,269.4 300.0,270.8 300.5,271.6 301.0,270.2 301.5,269.7 302.0,270.3 302.5,271.6 303.0,272.5 303.5,274.2 304.0,272.2 304.5,272.5 305.0,274.6 305.5,275.1 306.0,275.8 306.5,276.3 307.0,277.9 307.5,275.6 308.0,276.0 308.5,277.4 309.0,274.1 309.5,273.6 310.0,276.1 310.5,274.8 311.0,275.3 311.5,274.8 312.0,274.0 312.5,273.0 313.0,273.8 313.5,271.6 314.0,275.6 314.5,275.4 315.0,277.0 315.5,277.4 316.0,278.1 316.5,277.1 317.0,278.0 317.5,277.9 318.0,277.8 318.5,281.4 319.0,284.0 319.5,285.8 320.0,288.2 320.5,285.2 321.0,286.0 321.5,286.6 322.0,287.8 322.5,289.2 323.0,291.4 323.5,291.5 324.0,292.2 324.5,293.1 325.0,294.3 325.5,293.9 326.0,292.8 326.5,293.9 327.0,291.7 327.5,292.2 328.0,293.4 328.5,294.6 329.0,294.2 329.5,294.0 330.0,293.7 330.5,293.7 331.0,293.0 331.5,291.8 332.0,292.3 332.5,293.9 333.0,292.2 333.5,293.4 334.0,294.1 334.5,293.0 335.0,292.4 335.5,291.4 336.0,289.9 336.5,289.9 337.0,290.8 337.5,290.7 338.0,290.9 338.5,288.5 339.0,290.2 339.5,290.4 340.0,291.6 340.5,291.9 341.0,291.5 341.5,293.2 342.0,292.4 342.5,292.5 343.0,292.4 343.5,292.0 344.0,289.6 344.5,289.7 345.0,290.3 345.5,290.1 346.0,290.6 346.5,290.8 347.0,292.2 347.5,290.8 348.0,293.3 348.5,293.5 349.0,292.7 349.5,293.5 350.0,294.5 350.5,294.9 351.0,295.1 351.5,296.0 352.0,295.8 352.5,294.9 353.0,294.1 353.5,294.5 354.0,295.4 354.5,296.7 355.0,298.3 355.5,296.6 356.0,295.8 356.5,294.0 357.0,293.7 357.5,293.0 358.0,293.0 358.5,293.6 359.0,292.0 359.5,292.3 360.0,289.7 360.5,284.9 361.0,281.7 361.5,282.4 362.0,283.2 362.5,284.4 363.0,284.7 363.5,286.2 364.0,287.6 364.5,288.4 365.0,287.6 365.5,285.6 366.0,290.3 366.5,288.1 367.0,283.5 367.5,282.2 368.0,281.1 368.5,278.5 369.0,282.9 369.5,284.2 370.0,282.1 370.5,286.9 371.0,285.8 371.5,286.1 372.0,285.0 372.5,282.0 373.0,284.6 373.5,286.6 374.0,286.5 374.5,287.2 375.0,287.3 375.5,289.9 376.0,287.1 376.5,285.9 377.0,284.3 377.5,283.8 378.0,284.3 378.5,283.1 379.0,281.3 379.5,282.0 380.0,284.4 380.5,284.3 381.0,285.3 381.5,284.1 382.0,286.3 382.5,286.8 383.0,289.9 383.5,288.9 384.0,292.1 384.5,291.9 385.0,292.2 385.5,293.7 386.0,292.7 386.5,290.3 387.0,290.0 387.5,289.8 388.0,292.4 388.5,294.3 389.0,296.7 389.5,296.4 390.0,297.9 390.5,298.3 391.0,299.6 391.5,297.5 392.0,297.9 392.5,298.6 393.0,298.9 393.5,301.4 394.0,300.7 394.5,300.0 395.0,299.9 395.5,300.1 396.0,299.1 396.5,298.2 397.0,297.5 397.5,295.9 398.0,297.1 398.5,296.9 399.0,294.1 399.5,296.1 400.0,296.7 400.5,297.7 401.0,298.4 401.5,298.3 402.0,297.6 402.5,295.2 403.0,294.9 403.5,293.8 404.0,293.7 404.5,293.6 405.0,296.2 405.5,297.7 406.0,297.9 406.5,299.4 407.0,297.9 407.5,299.4 408.0,300.2 408.5,301.5 409.0,302.0 409.5,302.9 410.0,304.3 410.5,304.4 411.0,305.2 411.5,304.9 412.0,304.9 412.5,303.3 413.0,303.3 413.5,303.3 414.0,303.8 414.5,303.1 415.0,301.9 415.5,302.5 416.0,302.5 416.5,302.2 417.0,301.3 417.5,299.5 418.0,299.7 418.5,299.9 419.0,300.0 419.5,301.4 420.0,301.5 420.5,301.2 421.0,299.4 421.5,299.4 422.0,299.7 422.5,298.8 423.0,297.1 423.5,296.3 424.0,296.7 424.5,298.9 425.0,296.4 425.5,297.7 426.0,295.9 426.5,297.7 427.0,297.1 427.5,295.3 428.0,297.3 428.5,294.7 429.0,296.0 429.5,294.9 430.0,296.1 430.5,296.5 431.0,295.6 431.5,297.8 432.0,296.2 432.5,296.5 433.0,298.2 433.5,295.3 434.0,290.9"/><polyline points="200.0,272.5 200.5,271.8 201.0,272.0 201.5,272.3 202.0,272.8 202.5,271.4 203.0,271.7 203.5,271.1 204.0,270.9 204.5,270.6 205.0,270.4 205.5,271.0 206.0,270.4 206.5,271.6 207.0,270.2 207.5,269.6 208.0,268.4 208.5,270.2 209.0,271.1 209.5,270.2 210.0,269.6 210.5,270.5 211.0,269.6 211.5,268.5 212.0,268.1 212.5,268.0 213.0,267.7 213.5,266.4 214.0,267.3 214.5,267.9 215.0,267.6 215.5,266.6 216.0,265.5 216.5,266.2 217.0,266.0 217.5,265.9 218.0,264.8 218.5,264.9 219.0,264.6 219.5,265.9 220.0,266.4 220.5,264.6 221.0,264.5 221.5,263.4 222.0,263.2 222.5,263.2 223.0,262.3 223.5,263.2 224.0,264.3 224.5,264.2 225.0,265.6 225.5,265.0 226.0,264.8 226.5,264.0 227.0,263.2 227.5,262.6 228.0,262.1 228.5,263.2 229.0,262.9 229.5,263.3 230.0,262.4 230.5,262.2 231.0,262.8 231.5,262.5 232.0,262.7 232.5,262.0 233.0,263.3 233.5,263.8 234.0,263.7 234.5,265.0 235.0,264.3 235.5,264.2 236.0,262.4 236.5,262.8 237.0,264.9 237.5,264.0 238.0,262.9 238.5,264.8 239.0,264.7 239.5,265.6 240.0,266.2 240.5,268.0 241.0,267.3 241.5,265.5 242.0,265.3 242.5,265.2 243.0,264.8 243.5,264.4 244.0,263.9 244.5,262.4 245.0,262.2 245.5,263.0 246.0,262.1 246.5,260.9 247.0,260.5 247.5,260.0 248.0,261.1 248.5,261.2 249.0,260.3 249.5,260.2 250.0,260.1 250.5,260.6 251.0,260.6 251.5,261.2 252.0,262.1 252.5,261.5 253.0,261.6 253.5,261.6 254.0,261.7 254.5,261.7 255.0,262.1 255.5,261.7 256.0,260.7 256.5,259.7 257.0,258.6 257.5,258.5 258.0,257.8 258.5,260.1 259.0,260.6 259.5,259.9 260.0,260.7 260.5,261.0 261.0,259.5 261.5,260.9 262.0,263.0 262.5,263.8 263.0,263.3 263.5,260.8 264.0,260.5 264.5,259.4 265.0,261.0 265.5,261.7 266.0,261.4 266.5,261.4 267.0,260.9 267.5,260.6 268.0,260.7 268.5,259.9 269.0,258.9 269.5,258.7 270.0,258.0 270.5,259.7 271.0,260.4 271.5,261.1 272.0,261.0 272.5,261.3 273.0,261.3 273.5,258.4 274.0,259.3 274.5,260.4 275.0,260.7 275.5,262.3 276.0,263.5 276.5,261.9 277.0,261.2 277.5,261.9 278.0,259.8 278.5,259.2 279.0,260.9 279.5,258.7 280.0,258.1 280.5,259.1 281.0,260.1 281.5,259.3 282.0,258.6 282.5,258.5 283.0,259.7 283.5,259.3 284.0,261.4 284.5,262.9 285.0,264.4 285.5,265.4 286.0,266.3 286.5,264.9 287.0,262.4 287.5,262.6 288.0,263.5 288.5,262.1 289.0,262.2 289.5,262.3 290.0,262.4 290.5,260.7 291.0,262.5 291.5,262.6 292.0,263.5 292.5,261.7 293.0,262.4 293.5,260.9 294.0,259.7 294.5,261.8 295.0,263.4 295.5,263.2 296.0,261.1 296.5,261.9 297.0,260.7 297.5,258.2 298.0,260.3 298.5,260.5 299.0,259.1 299.5,257.5 300.0,258.2 300.5,256.7 301.0,258.0 301.5,258.5 302.0,256.0 302.5,254.1 303.0,256.0 303.5,254.1 304.0,255.2 304.5,255.1 305.0,255.8 305.5,255.1 306.0,254.0 306.5,253.7 307.0,255.6 307.5,256.5 308.0,255.3 308.5,256.2 309.0,255.7 309.5,256.2 310.0,254.9 310.5,255.2 311.0,255.4 311.5,255.6 312.0,255.7 312.5,257.1 313.0,255.1 313.5,255.4 314.0,255.7 314.5,256.2 315.0,253.0 315.5,252.9 316.0,254.2 316.5,255.6 317.0,256.7 317.5,257.1 318.0,255.2 318.5,253.6 319.0,253.3 319.5,256.1 320.0,253.2 320.5,255.1 321.0,256.5 321.5,257.8 322.0,256.6 322.5,256.9 323.0,256.2 323.5,256.6 324.0,255.9 324.5,254.5 325.0,254.7 325.5,253.4 326.0,255.1 326.5,254.3 327.0,253.5 327.5,254.2 328.0,253.1 328.5,252.5 329.0,254.5 329.5,254.8 330.0,254.6 330.5,254.4 331.0,252.2 331.5,250.9 332.0,251.0 332.5,250.5 333.0,252.4 333.5,251.8 334.0,251.2 334.5,249.8 335.0,249.7 335.5,251.9 336.0,251.1 336.5,249.2 337.0,248.5 337.5,247.1 338.0,247.0 338.5,247.3 339.0,246.9 339.5,246.3 340.0,246.1 340.5,244.8 341.0,244.5 341.5,244.6 342.0,245.1 342.5,244.8 343.0,244.7 343.5,244.4 344.0,244.3 344.5,245.1 345.0,244.8 345.5,244.4 346.0,244.2 346.5,244.7 347.0,244.1 347.5,244.4 348.0,244.6 348.5,245.6 349.0,246.5 349.5,245.9 350.0,246.5 350.5,246.1 351.0,245.6 351.5,245.7 352.0,246.2 352.5,248.0 353.0,248.0 353.5,247.5 354.0,248.1 354.5,248.1 355.0,249.7 355.5,254.1 356.0,254.8 356.5,254.5 357.0,254.5 357.5,256.3 358.0,256.1 358.5,255.1 359.0,255.9 359.5,256.9 360.0,256.9 360.5,259.4 361.0,261.1 361.5,263.9 362.0,263.3 362.5,261.7 363.0,263.6 363.5,262.6 364.0,262.9 364.5,262.5 365.0,265.6 365.5,264.8 366.0,271.3 366.5,266.8 367.0,265.9 367.5,263.8 368.0,263.7 368.5,264.9 369.0,263.9 369.5,261.9 370.0,261.9 370.5,266.4 371.0,262.9 371.5,261.6 372.0,260.1 372.5,260.0 373.0,258.5 373.5,258.0 374.0,258.0 374.5,260.2 375.0,262.0 375.5,260.6 376.0,257.8 376.5,258.3 377.0,260.0 377.5,260.8 378.0,257.5 378.5,259.6 379.0,261.3 379.5,256.9 380.0,257.7 380.5,258.4 381.0,255.3 381.5,256.9 382.0,256.8 382.5,261.0 383.0,262.3 383.5,263.2 384.0,265.0 384.5,268.7 385.0,269.8 385.5,269.8 386.0,270.3 386.5,270.2 387.0,269.1 387.5,268.1 388.0,269.5 388.5,266.8 389.0,269.5 389.5,268.2 390.0,268.6 390.5,265.9 391.0,262.0 391.5,264.6 392.0,264.9 392.5,265.7 393.0,265.9 393.5,271.0 394.0,271.8 394.5,275.1 395.0,272.9 395.5,272.7 396.0,274.4 396.5,279.1 397.0,282.8 397.5,279.6 398.0,276.2 398.5,282.1 399.0,283.0 399.5,283.0 400.0,281.4 400.5,281.6 401.0,280.8 401.5,280.9 402.0,278.2 402.5,277.7 403.0,275.0 403.5,279.6 404.0,282.0 404.5,276.4 405.0,275.8 405.5,277.9 406.0,277.1 406.5,275.5 407.0,277.5 407.5,279.0 408.0,277.9 408.5,278.3 409.0,277.8 409.5,275.7 410.0,274.6 410.5,275.3 411.0,273.3 411.5,273.7 412.0,274.0 412.5,272.1 413.0,271.0 413.5,269.5 414.0,267.5 414.5,264.1 415.0,268.1 415.5,268.4 416.0,269.2 416.5,269.4 417.0,271.1 417.5,266.9 418.0,267.0 418.5,266.5 419.0,267.1 419.5,262.2 420.0,264.4 420.5,267.3 421.0,266.0 421.5,266.0 422.0,262.6 422.5,261.3 423.0,262.9 423.5,263.1 424.0,266.0 424.5,266.3 425.0,268.9 425.5,272.3 426.0,275.3 426.5,272.4 427.0,273.6 427.5,272.8 428.0,278.3 428.5,277.4 429.0,281.5 429.5,280.5 430.0,282.6 430.5,281.3 431.0,280.7 431.5,281.1 432.0,280.3 432.5,279.9 433.0,273.5 433.5,270.8 434.0,273.9"/><polyline points="200.0,272.3 200.5,272.5 201.0,273.4 201.5,273.0 202.0,273.2 202.5,273.9 203.0,274.8 203.5,274.5 204.0,273.6 204.5,273.3 205.0,273.0 205.5,273.1 206.0,274.8 206.5,273.4 207.0,273.6 207.5,273.5 208.0,271.5 208.5,272.2 209.0,271.0 209.5,271.3 210.0,270.6 210.5,272.1 211.0,272.2 211.5,271.0 212.0,269.6 212.5,269.8 213.0,270.3 213.5,270.6 214.0,270.3 214.5,269.6 215.0,269.4 215.5,267.3 216.0,268.1 216.5,267.2 217.0,266.4 217.5,266.1 218.0,267.8 218.5,268.6 219.0,266.9 219.5,267.4 220.0,266.5 220.5,266.6 221.0,266.7 221.5,266.2 222.0,266.1 222.5,264.7 223.0,263.5 223.5,264.9 224.0,264.4 224.5,266.2 225.0,264.6 225.5,264.5 226.0,263.2 226.5,263.6 227.0,264.5 227.5,265.7 228.0,265.7 228.5,264.7 229.0,265.3 229.5,264.3 230.0,263.0 230.5,262.9 231.0,262.4 231.5,263.2 232.0,263.2 232.5,262.7 233.0,264.1 233.5,266.6 234.0,265.9 234.5,265.0 235.0,266.8 235.5,266.4 236.0,263.2 236.5,265.0 237.0,263.8 237.5,264.2 238.0,264.0 238.5,264.3 239.0,266.0 239.5,266.2 240.0,266.0 240.5,265.5 241.0,265.0 241.5,265.2 242.0,266.2 242.5,268.0 243.0,268.7 243.5,268.2 244.0,268.4 244.5,270.7 245.0,269.6 245.5,267.8 246.0,266.0 246.5,266.6 247.0,268.1 247.5,269.7 248.0,267.2 248.5,268.0 249.0,266.8 249.5,265.8 250.0,266.2 250.5,267.2 251.0,268.5 251.5,269.6 252.0,271.3 252.5,270.1 253.0,269.2 253.5,268.5 254.0,267.7 254.5,267.5 255.0,267.4 255.5,268.5 256.0,268.4 256.5,268.5 257.0,267.3 257.5,269.2 258.0,268.6 258.5,268.1 259.0,264.9 259.5,263.2 260.0,264.0 260.5,268.9 261.0,268.5 261.5,267.1 262.0,266.6 262.5,265.8 263.0,266.5 263.5,270.8 264.0,270.9 264.5,269.1 265.0,269.4 265.5,271.2 266.0,272.2 266.5,273.9 267.0,276.2 267.5,276.8 268.0,278.0 268.5,277.0 269.0,275.5 269.5,274.5 270.0,275.3 270.5,276.0 271.0,275.8 271.5,276.2 272.0,278.2 272.5,277.7 273.0,277.0 273.5,276.0 274.0,275.6 274.5,277.9 275.0,276.6 275.5,277.7 276.0,278.2 276.5,277.6 277.0,275.9 277.5,275.2 278.0,279.0 278.5,277.9 279.0,281.4 279.5,281.2 280.0,279.1 280.5,278.6 281.0,278.4 281.5,277.2 282.0,277.9 282.5,276.9 283.0,278.4 283.5,278.5 284.0,277.8 284.5,277.5 285.0,276.9 285.5,276.0 286.0,278.0 286.5,276.5 287.0,277.2 287.5,277.4 288.0,275.3 288.5,275.7 289.0,279.6 289.5,281.0 290.0,279.6 290.5,278.4 291.0,275.9 291.5,277.1 292.0,275.1 292.5,275.5 293.0,275.5 293.5,272.6 294.0,275.4 294.5,276.9 295.0,276.3 295.5,276.6 296.0,277.0 296.5,276.7 297.0,276.9 297.5,277.3 298.0,276.2 298.5,276.2 299.0,277.1 299.5,278.7 300.0,278.7 300.5,275.1 301.0,277.9 301.5,279.4 302.0,279.7 302.5,281.9 303.0,279.2 303.5,277.5 304.0,275.1 304.5,276.6 305.0,278.3 305.5,273.6 306.0,271.9 306.5,270.1 307.0,270.4 307.5,270.3 308.0,272.7 308.5,272.2 309.0,271.5 309.5,273.4 310.0,275.9 310.5,276.7 311.0,278.8 311.5,282.3 312.0,282.6 312.5,280.1 313.0,281.0 313.5,280.6 314.0,282.0 314.5,284.0 315.0,283.9 315.5,282.0 316.0,279.0 316.5,279.4 317.0,280.3 317.5,279.8 318.0,277.3 318.5,275.9 319.0,276.1 319.5,275.4 320.0,277.5 320.5,277.3 321.0,279.7 321.5,282.2 322.0,280.2 322.5,276.4 323.0,276.6 323.5,276.8 324.0,275.3 324.5,278.9 325.0,278.0 325.5,277.2 326.0,278.6 326.5,278.1 327.0,276.5 327.5,278.1 328.0,277.2 328.5,276.9 329.0,278.5 329.5,278.7 330.0,278.9 330.5,279.2 331.0,279.7 331.5,281.5 332.0,279.1 332.5,280.7 333.0,275.6 333.5,276.5 334.0,274.7 334.5,278.0 335.0,277.9 335.5,276.4 336.0,276.2 336.5,274.0 337.0,278.6 337.5,279.4 338.0,276.3 338.5,273.3 339.0,275.7 339.5,274.8 340.0,275.9 340.5,276.5 341.0,278.8 341.5,280.5 342.0,278.1 342.5,279.5 343.0,278.8 343.5,277.4 344.0,283.4 344.5,283.7 345.0,281.3 345.5,280.3 346.0,277.5 346.5,275.1 347.0,277.9 347.5,277.3 348.0,280.2 348.5,282.2 349.0,280.2 349.5,278.3 350.0,275.7 350.5,274.1 351.0,274.5 351.5,275.0 352.0,273.6 352.5,273.0 353.0,272.7 353.5,271.1 354.0,272.6 354.5,268.3 355.0,272.2 355.5,276.0 356.0,276.3 356.5,277.3 357.0,278.2 357.5,278.8 358.0,278.7 358.5,281.3 359.0,276.4 359.5,277.7 360.0,277.1 360.5,282.8 361.0,280.4 361.5,282.7 362.0,285.8 362.5,283.8 363.0,284.1 363.5,281.8 364.0,280.1 364.5,281.3 365.0,279.3 365.5,279.1 366.0,277.9 366.5,274.5 367.0,276.9 367.5,275.8 368.0,275.0 368.5,277.4 369.0,273.5 369.5,267.5 370.0,268.8 370.5,269.6 371.0,271.3 371.5,269.5 372.0,270.6 372.5,269.1 373.0,271.9 373.5,270.6 374.0,273.2 374.5,271.4 375.0,273.9 375.5,275.3 376.0,272.1 376.5,273.3 377.0,267.9 377.5,264.5 378.0,265.4 378.5,265.3 379.0,266.1 379.5,262.7 380.0,261.9 380.5,262.4 381.0,265.2 381.5,266.4 382.0,265.1 382.5,264.8 383.0,268.0 383.5,267.5 384.0,269.9 384.5,273.6 385.0,272.1 385.5,270.5 386.0,271.0 386.5,272.9 387.0,276.3 387.5,275.7 388.0,275.3 388.5,274.6 389.0,275.5 389.5,274.6 390.0,278.6 390.5,280.2 391.0,278.8 391.5,276.0 392.0,277.1 392.5,280.9 393.0,282.5 393.5,283.3 394.0,283.9 394.5,285.4 395.0,290.6 395.5,291.0 396.0,291.3 396.5,294.5 397.0,293.4 397.5,293.1 398.0,292.4 398.5,291.4 399.0,291.5 399.5,292.2 400.0,291.5 400.5,291.3 401.0,290.5 401.5,292.3 402.0,293.9 402.5,293.4 403.0,290.7 403.5,291.3 404.0,291.6 404.5,290.5 405.0,290.4 405.5,289.6 406.0,288.1 406.5,289.5 407.0,288.3 407.5,285.9 408.0,287.3 408.5,289.0 409.0,289.5 409.5,289.3 410.0,290.6 410.5,292.7 411.0,291.1 411.5,289.5 412.0,288.3 412.5,289.1 413.0,288.3 413.5,288.2 414.0,286.4 414.5,284.1 415.0,284.8 415.5,284.2 416.0,287.2 416.5,287.9 417.0,288.6 417.5,286.3 418.0,286.2 418.5,282.6 419.0,279.5 419.5,274.0 420.0,271.8 420.5,271.9 421.0,273.2 421.5,274.8 422.0,278.8 422.5,280.2 423.0,280.5 423.5,281.1 424.0,279.2 424.5,282.9 425.0,284.1 425.5,283.9 426.0,284.2 426.5,278.5 427.0,278.6 427.5,279.5 428.0,275.0 428.5,279.2 429.0,278.3 429.5,275.9 430.0,274.4 430.5,275.3 431.0,271.6 431.5,273.6 432.0,273.0 432.5,279.4 433.0,284.9 433.5,284.4 434.0,287.5"/><polyline points="200.0,269.1 200.5,267.8 201.0,267.5 201.5,266.8 202.0,266.4 202.5,266.3 203.0,266.3 203.5,266.3 204.0,265.7 204.5,264.8 205.0,265.0 205.5,264.2 206.0,264.3 206.5,265.3 207.0,264.2 207.5,264.3 208.0,264.4 208.5,264.2 209.0,264.1 209.5,264.6 210.0,264.3 210.5,263.9 211.0,264.3 211.5,264.1 212.0,263.3 212.5,263.4 213.0,263.9 213.5,263.7 214.0,263.5 214.5,263.6 215.0,263.9 215.5,263.1 216.0,262.4 216.5,261.9 217.0,261.8 217.5,261.9 218.0,261.8 218.5,262.5 219.0,262.9 219.5,261.9 220.0,261.5 220.5,260.8 221.0,261.2 221.5,262.1 222.0,262.2 222.5,262.2 223.0,262.8 223.5,262.2 224.0,261.6 224.5,261.0 225.0,260.9 225.5,260.8 226.0,261.8 226.5,261.1 227.0,262.2 227.5,262.0 228.0,261.7 228.5,261.6 229.0,262.7 229.5,263.4 230.0,264.9 230.5,265.9 231.0,264.3 231.5,263.6 232.0,262.1 232.5,262.6 233.0,263.2 233.5,262.9 234.0,263.4 234.5,265.2 235.0,264.4 235.5,264.3 236.0,263.4 236.5,263.9 237.0,266.5 237.5,265.9 238.0,267.4 238.5,266.6 239.0,268.2 239.5,269.6 240.0,267.4 240.5,267.6 241.0,267.3 241.5,266.9 242.0,266.3 242.5,264.7 243.0,266.1 243.5,266.8 244.0,266.4 244.5,268.1 245.0,267.0 245.5,265.8 246.0,266.6 246.5,266.0 247.0,267.6 247.5,267.6 248.0,269.4 248.5,269.4 249.0,268.3 249.5,267.3 250.0,268.4 250.5,268.1 251.0,268.3 251.5,267.7 252.0,264.9 252.5,263.9 253.0,265.7 253.5,266.1 254.0,265.5 254.5,263.7 255.0,264.3 255.5,265.5 256.0,268.1 256.5,267.7 257.0,266.4 257.5,265.4 258.0,264.3 258.5,267.0 259.0,268.1 259.5,269.0 260.0,268.1 260.5,268.4 261.0,267.6 261.5,266.4 262.0,267.3 262.5,264.6 263.0,267.2 263.5,269.4 264.0,268.9 264.5,269.5 265.0,267.7 265.5,265.9 266.0,264.9 266.5,265.1 267.0,264.6 267.5,263.3 268.0,261.9 268.5,260.9 269.0,260.0 269.5,260.6 270.0,261.7 270.5,261.3 271.0,261.9 271.5,261.7 272.0,263.3 272.5,263.3 273.0,264.4 273.5,265.1 274.0,265.3 274.5,265.5 275.0,267.1 275.5,267.4 276.0,265.9 276.5,268.6 277.0,271.5 277.5,271.8 278.0,270.8 278.5,270.2 279.0,271.1 279.5,270.9 280.0,274.1 280.5,272.0 281.0,271.8 281.5,271.6 282.0,273.3 282.5,271.9 283.0,271.4 283.5,272.2 284.0,272.2 284.5,272.5 285.0,273.7 285.5,272.3 286.0,271.4 286.5,269.4 287.0,267.9 287.5,269.6 288.0,270.0 288.5,269.5 289.0,268.2 289.5,268.0 290.0,267.7 290.5,267.5 291.0,265.9 291.5,268.8 292.0,266.7 292.5,265.7 293.0,268.0 293.5,266.9 294.0,267.4 294.5,270.3 295.0,272.0 295.5,274.0 296.0,271.5 296.5,270.2 297.0,270.5 297.5,272.7 298.0,274.4 298.5,272.9 299.0,273.7 299.5,273.5 300.0,274.4 300.5,272.8 301.0,274.0 301.5,275.6 302.0,274.8 302.5,275.4 303.0,278.5 303.5,276.4 304.0,278.4 304.5,278.3 305.0,276.7 305.5,274.7 306.0,274.6 306.5,274.4 307.0,273.5 307.5,272.8 308.0,271.2 308.5,269.1 309.0,268.6 309.5,272.8 310.0,275.1 310.5,273.4 311.0,274.1 311.5,272.2 312.0,270.1 312.5,270.9 313.0,268.0 313.5,266.9 314.0,266.9 314.5,267.4 315.0,263.9 315.5,263.6 316.0,261.3 316.5,262.9 317.0,268.0 317.5,268.1 318.0,262.4 318.5,265.4 319.0,261.1 319.5,261.6 320.0,264.6 320.5,265.6 321.0,265.8 321.5,266.0 322.0,262.1 322.5,260.9 323.0,261.2 323.5,262.1 324.0,261.1 324.5,261.0 325.0,258.9 325.5,258.2 326.0,259.7 326.5,257.4 327.0,259.7 327.5,263.8 328.0,266.0 328.5,266.0 329.0,268.2 329.5,270.7 330.0,270.8 330.5,271.0 331.0,272.0 331.5,273.4 332.0,271.6 332.5,269.4 333.0,267.9 333.5,265.7 334.0,265.4 334.5,270.3 335.0,268.3 335.5,269.9 336.0,269.6 336.5,270.8 337.0,271.8 337.5,272.6 338.0,271.1 338.5,268.0 339.0,268.5 339.5,270.0 340.0,269.7 340.5,272.6 341.0,271.0 341.5,270.6 342.0,269.2 342.5,270.8 343.0,271.9 343.5,271.9 344.0,274.3 344.5,272.9 345.0,274.8 345.5,276.0 346.0,276.7 346.5,278.2 347.0,279.3 347.5,279.4 348.0,280.6 348.5,280.8 349.0,278.6 349.5,277.0 350.0,278.7 350.5,281.5 351.0,282.2 351.5,281.0 352.0,281.3 352.5,281.2 353.0,279.4 353.5,277.5 354.0,276.8 354.5,274.5 355.0,277.6 355.5,277.7 356.0,278.8 356.5,275.5 357.0,274.5 357.5,274.0 358.0,275.4 358.5,271.2 359.0,267.9 359.5,267.8 360.0,268.5 360.5,268.2 361.0,269.1 361.5,267.8 362.0,266.8 362.5,269.3 363.0,275.5 363.5,278.2 364.0,276.1 364.5,276.2 365.0,278.7 365.5,282.1 366.0,282.5 366.5,284.2 367.0,282.3 367.5,278.9 368.0,280.5 368.5,281.3 369.0,281.6 369.5,280.9 370.0,282.2 370.5,280.2 371.0,280.0 371.5,274.9 372.0,278.2 372.5,278.8 373.0,279.3 373.5,280.1 374.0,284.0 374.5,282.0 375.0,281.4 375.5,280.3 376.0,282.0 376.5,279.7 377.0,281.3 377.5,283.3 378.0,285.2 378.5,284.1 379.0,287.0 379.5,286.2 380.0,285.1 380.5,288.7 381.0,291.0 381.5,289.5 382.0,286.0 382.5,285.4 383.0,286.3 383.5,286.7 384.0,289.9 384.5,288.4 385.0,290.1 385.5,292.9 386.0,291.0 386.5,293.7 387.0,294.7 387.5,294.8 388.0,295.3 388.5,295.4 389.0,294.5 389.5,296.1 390.0,295.0 390.5,295.2 391.0,294.2 391.5,294.9 392.0,294.9 392.5,294.0 393.0,295.2 393.5,295.0 394.0,295.5 394.5,293.1 395.0,289.9 395.5,290.3 396.0,291.5 396.5,293.9 397.0,296.0 397.5,293.7 398.0,292.7 398.5,290.1 399.0,290.3 399.5,288.1 400.0,289.1 400.5,289.7 401.0,287.8 401.5,289.6 402.0,288.8 402.5,289.4 403.0,291.3 403.5,293.2 404.0,291.5 404.5,290.3 405.0,288.7 405.5,290.1 406.0,291.6 406.5,292.4 407.0,291.8 407.5,293.0 408.0,291.5 408.5,287.3 409.0,290.3 409.5,284.8 410.0,284.0 410.5,284.4 411.0,283.7 411.5,283.1 412.0,283.0 412.5,284.3 413.0,280.6 413.5,277.6 414.0,276.9 414.5,281.3 415.0,283.0 415.5,283.8 416.0,280.1 416.5,280.9 417.0,284.5 417.5,283.4 418.0,279.1 418.5,279.5 419.0,282.3 419.5,283.0 420.0,281.1 420.5,280.2 421.0,279.1 421.5,279.4 422.0,283.9 422.5,286.5 423.0,289.4 423.5,289.0 424.0,289.0 424.5,285.2 425.0,287.8 425.5,288.2 426.0,289.0 426.5,289.2 427.0,289.2 427.5,292.0 428.0,294.3 428.5,295.0 429.0,293.3 429.5,290.3 430.0,292.8 430.5,295.1 431.0,295.0 431.5,297.4 432.0,293.3 432.5,291.6 433.0,290.9 433.5,291.2 434.0,289.6"/><polyline points="200.0,274.7 200.5,273.9 201.0,273.6 201.5,273.7 202.0,272.5 202.5,273.6 203.0,273.2 203.5,274.6 204.0,275.1 204.5,274.3 205.0,274.2 205.5,275.1 206.0,274.4 206.5,272.7 207.0,272.6 207.5,272.4 208.0,272.3 208.5,272.1 209.0,273.8 209.5,273.4 210.0,274.1 210.5,274.1 211.0,273.3 211.5,274.4 212.0,274.7 212.5,274.1 213.0,272.0 213.5,271.5 214.0,273.6 214.5,274.4 215.0,275.1 215.5,274.8 216.0,274.9 216.5,273.7 217.0,272.7 217.5,271.4 218.0,271.4 218.5,274.1 219.0,274.5 219.5,274.8 220.0,274.1 220.5,273.5 221.0,271.2 221.5,272.0 222.0,273.0 222.5,272.4 223.0,273.7 223.5,273.2 224.0,273.2 224.5,272.7 225.0,274.6 225.5,274.5 226.0,273.8 226.5,274.6 227.0,273.9 227.5,273.8 228.0,273.8 228.5,273.7 229.0,273.0 229.5,270.9 230.0,272.4 230.5,270.3 231.0,269.1 231.5,269.1 232.0,271.0 232.5,271.3 233.0,268.2 233.5,269.6 234.0,269.4 234.5,268.5 235.0,268.5 235.5,267.5 236.0,266.5 236.5,266.1 237.0,267.8 237.5,267.4 238.0,268.2 238.5,268.8 239.0,267.9 239.5,266.9 240.0,267.6 240.5,266.9 241.0,267.8 241.5,268.2 242.0,268.1 242.5,267.4 243.0,267.6 243.5,267.8 244.0,270.3 244.5,271.1 245.0,271.6 245.5,271.0 246.0,271.1 246.5,270.6 247.0,270.8 247.5,269.6 248.0,269.7 248.5,269.9 249.0,272.3 249.5,271.7 250.0,269.1 250.5,267.9 251.0,268.8 251.5,271.1 252.0,273.1 252.5,274.0 253.0,275.3 253.5,275.3 254.0,272.2 254.5,272.7 255.0,271.5 255.5,272.0 256.0,271.2 256.5,273.8 257.0,274.4 257.5,273.7 258.0,275.0 258.5,275.8 259.0,273.8 259.5,276.3 260.0,276.3 260.5,274.8 261.0,274.6 261.5,276.7 262.0,276.0 262.5,275.6 263.0,273.4 263.5,273.2 264.0,271.6 264.5,271.3 265.0,272.7 265.5,273.1 266.0,273.6 266.5,274.2 267.0,273.3 267.5,270.8 268.0,273.8 268.5,274.7 269.0,276.9 269.5,277.3 270.0,280.0 270.5,278.8 271.0,278.4 271.5,279.0 272.0,279.2 272.5,279.3 273.0,277.8 273.5,275.3 274.0,276.0 274.5,275.5 275.0,275.1 275.5,272.6 276.0,270.3 276.5,270.2 277.0,270.2 277.5,271.1 278.0,268.9 278.5,268.7 279.0,268.2 279.5,271.1 280.0,271.0 280.5,270.2 281.0,272.0 281.5,273.3 282.0,274.2 282.5,273.9 283.0,271.9 283.5,268.5 284.0,270.2 284.5,272.5 285.0,274.9 285.5,273.4 286.0,272.7 286.5,269.8 287.0,269.5 287.5,266.8 288.0,265.6 288.5,266.5 289.0,266.6 289.5,268.5 290.0,270.0 290.5,268.2 291.0,270.4 291.5,271.1 292.0,271.9 292.5,273.0 293.0,272.4 293.5,273.5 294.0,270.5 294.5,272.0 295.0,273.7 295.5,273.8 296.0,272.7 296.5,273.9 297.0,274.6 297.5,275.8 298.0,274.4 298.5,275.2 299.0,277.0 299.5,275.1 300.0,273.6 300.5,272.8 301.0,273.7 301.5,272.4 302.0,273.8 302.5,274.2 303.0,272.1 303.5,274.8 304.0,276.2 304.5,276.6 305.0,273.8 305.5,272.9 306.0,270.5 306.5,272.8 307.0,271.1 307.5,269.8 308.0,269.3 308.5,268.3 309.0,269.3 309.5,267.0 310.0,266.3 310.5,265.6 311.0,266.7 311.5,267.3 312.0,265.8 312.5,264.7 313.0,265.0 313.5,265.1 314.0,268.4 314.5,268.9 315.0,270.2 315.5,269.1 316.0,265.5 316.5,267.1 317.0,268.0 317.5,271.1 318.0,269.9 318.5,267.4 319.0,268.8 319.5,266.1 320.0,267.0 320.5,267.6 321.0,268.5 321.5,270.6 322.0,269.7 322.5,271.9 323.0,271.3 323.5,273.9 324.0,273.2 324.5,273.5 325.0,276.8 325.5,275.3 326.0,276.0 326.5,272.8 327.0,276.2 327.5,273.5 328.0,277.7 328.5,277.5 329.0,278.9 329.5,279.7 330.0,278.2 330.5,279.1 331.0,279.9 331.5,280.7 332.0,278.9 332.5,278.7 333.0,280.8 333.5,278.9 334.0,276.5 334.5,273.7 335.0,274.7 335.5,273.4 336.0,274.4 336.5,277.8 337.0,277.3 337.5,280.1 338.0,280.7 338.5,281.3 339.0,282.1 339.5,282.2 340.0,283.3 340.5,284.3 341.0,282.4 341.5,284.7 342.0,285.1 342.5,284.2 343.0,284.5 343.5,283.1 344.0,282.1 344.5,281.6 345.0,281.4 345.5,283.4 346.0,281.5 346.5,279.0 347.0,281.3 347.5,284.4 348.0,284.1 348.5,284.7 349.0,286.8 349.5,284.0 350.0,285.7 350.5,287.0 351.0,288.3 351.5,288.2 352.0,290.5 352.5,289.0 353.0,286.1 353.5,287.1 354.0,286.8 354.5,287.2 355.0,288.0 355.5,288.1 356.0,290.4 356.5,289.3 357.0,288.5 357.5,288.5 358.0,289.6 358.5,293.3 359.0,292.0 359.5,289.7 360.0,289.3 360.5,286.3 361.0,286.9 361.5,290.1 362.0,288.1 362.5,287.8 363.0,285.8 363.5,286.4 364.0,286.3 364.5,289.1 365.0,288.3 365.5,289.5 366.0,288.0 366.5,289.2 367.0,289.6 367.5,286.8 368.0,286.9 368.5,286.6 369.0,285.1 369.5,285.5 370.0,284.1 370.5,285.2 371.0,281.2 371.5,283.4 372.0,283.0 372.5,282.1 373.0,280.9 373.5,280.7 374.0,280.6 374.5,281.0 375.0,279.2 375.5,280.6 376.0,279.7 376.5,282.0 377.0,280.9 377.5,282.0 378.0,286.2 378.5,285.8 379.0,283.5 379.5,283.4 380.0,280.4 380.5,276.2 381.0,278.8 381.5,278.4 382.0,277.6 382.5,280.9 383.0,285.7 383.5,284.4 384.0,283.7 384.5,285.2 385.0,283.7 385.5,288.6 386.0,286.1 386.5,285.2 387.0,283.0 387.5,283.3 388.0,283.4 388.5,285.4 389.0,284.2 389.5,285.9 390.0,286.3 390.5,289.0 391.0,287.2 391.5,286.8 392.0,288.4 392.5,286.4 393.0,284.5 393.5,285.9 394.0,284.4 394.5,286.6 395.0,286.5 395.5,286.6 396.0,284.4 396.5,285.0 397.0,280.2 397.5,279.1 398.0,280.8 398.5,279.9 399.0,280.0 399.5,275.6 400.0,277.4 400.5,279.0 401.0,277.5 401.5,277.4 402.0,279.2 402.5,279.6 403.0,279.8 403.5,277.7 404.0,279.7 404.5,280.9 405.0,276.6 405.5,277.3 406.0,277.8 406.5,277.2 407.0,280.6 407.5,279.5 408.0,278.4 408.5,274.6 409.0,269.5 409.5,267.5 410.0,264.6 410.5,262.3 411.0,263.9 411.5,267.4 412.0,264.6 412.5,266.1 413.0,266.5 413.5,264.8 414.0,265.4 414.5,265.9 415.0,271.7 415.5,269.8 416.0,274.1 416.5,276.5 417.0,275.7 417.5,278.7 418.0,279.9 418.5,277.8 419.0,277.9 419.5,279.9 420.0,278.2 420.5,275.8 421.0,276.3 421.5,276.2 422.0,272.8 422.5,270.9 423.0,273.0 423.5,272.7 424.0,271.0 424.5,266.2 425.0,264.2 425.5,264.5 426.0,264.5 426.5,260.9 427.0,266.5 427.5,263.6 428.0,263.0 428.5,258.5 429.0,257.6 429.5,257.9 430.0,259.2 430.5,261.4 431.0,260.2 431.5,256.6 432.0,258.0 432.5,262.9 433.0,266.5 433.5,271.3 434.0,274.2"/><polyline points="200.0,271.3 200.5,271.0 201.0,271.1 201.5,271.8 202.0,271.1 202.5,271.5 203.0,271.0 203.5,271.0 204.0,271.3 204.5,270.5 205.0,271.9 205.5,270.8 206.0,271.1 206.5,270.8 207.0,270.5 207.5,270.6 208.0,271.5 208.5,271.9 209.0,271.4 209.5,271.1 210.0,270.9 210.5,271.2 211.0,271.6 211.5,273.1 212.0,273.5 212.5,274.7 213.0,273.4 213.5,273.1 214.0,271.5 214.5,270.2 215.0,271.1 215.5,273.8 216.0,274.4 216.5,273.2 217.0,273.1 217.5,271.7 218.0,270.3 218.5,271.5 219.0,271.8 219.5,272.3 220.0,272.9 220.5,272.9 221.0,271.2 221.5,273.7 222.0,273.7 222.5,273.5 223.0,274.9 223.5,273.9 224.0,272.7 224.5,271.4 225.0,271.3 225.5,269.8 226.0,271.0 226.5,271.3 227.0,271.3 227.5,270.0 228.0,268.4 228.5,268.8 229.0,270.3 229.5,271.1 230.0,271.3 230.5,270.9 231.0,269.2 231.5,270.5 232.0,269.6 232.5,269.2 233.0,269.9 233.5,269.6 234.0,269.6 234.5,272.0 235.0,272.5 235.5,274.5 236.0,273.6 236.5,272.7 237.0,273.0 237.5,272.5 238.0,273.5 238.5,273.5 239.0,274.1 239.5,272.7 240.0,270.8 240.5,270.2 241.0,270.0 241.5,272.0 242.0,271.7 242.5,273.0 243.0,273.3 243.5,271.9 244.0,270.3 244.5,270.9 245.0,269.9 245.5,271.2 246.0,272.0 246.5,272.4 247.0,273.3 247.5,271.2 248.0,271.0 248.5,274.2 249.0,272.8 249.5,272.1 250.0,271.5 250.5,271.6 251.0,271.8 251.5,272.0 252.0,270.3 252.5,269.2 253.0,268.4 253.5,266.5 254.0,266.4 254.5,267.4 255.0,266.7 255.5,268.1 256.0,267.2 256.5,265.9 257.0,268.0 257.5,266.7 258.0,269.0 258.5,269.1 259.0,270.3 259.5,271.5 260.0,268.3 260.5,267.9 261.0,266.9 261.5,267.0 262.0,265.8 262.5,265.7 263.0,265.8 263.5,265.0 264.0,267.6 264.5,268.4 265.0,267.4 265.5,269.5 266.0,273.0 266.5,273.1 267.0,270.1 267.5,266.7 268.0,265.2 268.5,265.2 269.0,265.1 269.5,268.2 270.0,268.3 270.5,268.9 271.0,269.1 271.5,266.1 272.0,266.9 272.5,267.2 273.0,266.0 273.5,268.0 274.0,267.6 274.5,267.3 275.0,266.3 275.5,265.2 276.0,266.2 276.5,264.9 277.0,265.4 277.5,264.2 278.0,263.6 278.5,263.9 279.0,262.9 279.5,263.3 280.0,263.0 280.5,260.5 281.0,258.4 281.5,257.3 282.0,256.7 282.5,255.4 283.0,256.3 283.5,255.5 284.0,256.2 284.5,257.4 285.0,256.7 285.5,257.0 286.0,255.6 286.5,255.7 287.0,255.1 287.5,255.6 288.0,255.9 288.5,257.0 289.0,258.9 289.5,259.9 290.0,259.5 290.5,259.0 291.0,258.9 291.5,257.9 292.0,259.0 292.5,258.8 293.0,258.5 293.5,259.8 294.0,256.0 294.5,255.5 295.0,253.5 295.5,252.2 296.0,252.4 296.5,253.7 297.0,255.5 297.5,255.3 298.0,253.3 298.5,254.8 299.0,254.5 299.5,253.6 300.0,253.0 300.5,255.1 301.0,255.5 301.5,254.5 302.0,255.2 302.5,254.6 303.0,253.3 303.5,256.2 304.0,254.4 304.5,254.8 305.0,254.8 305.5,255.4 306.0,256.5 306.5,256.2 307.0,255.3 307.5,254.5 308.0,253.6 308.5,253.5 309.0,253.4 309.5,253.2 310.0,254.1 310.5,254.0 311.0,253.9 311.5,252.9 312.0,253.4 312.5,253.3 313.0,255.3 313.5,257.4 314.0,258.6 314.5,258.3 315.0,258.7 315.5,260.1 316.0,260.5 316.5,261.5 317.0,262.3 317.5,263.9 318.0,264.1 318.5,261.6 319.0,260.5 319.5,259.3 320.0,261.5 320.5,263.6 321.0,265.6 321.5,264.5 322.0,265.8 322.5,266.6 323.0,264.9 323.5,264.6 324.0,265.0 324.5,264.7 325.0,266.7 325.5,263.9 326.0,263.6 326.5,263.9 327.0,262.4 327.5,259.2 328.0,259.1 328.5,261.6 329.0,263.9 329.5,268.0 330.0,269.1 330.5,270.6 331.0,272.0 331.5,274.0 332.0,274.8 332.5,272.2 333.0,273.4 333.5,272.9 334.0,275.7 334.5,275.2 335.0,272.9 335.5,271.8 336.0,268.5 336.5,269.3 337.0,270.6 337.5,268.9 338.0,268.1 338.5,266.2 339.0,268.4 339.5,268.0 340.0,268.9 340.5,267.0 341.0,262.5 341.5,263.4 342.0,262.6 342.5,261.4 343.0,263.6 343.5,262.7 344.0,264.1 344.5,263.8 345.0,262.5 345.5,261.9 346.0,262.8 346.5,259.9 347.0,261.4 347.5,259.0 348.0,261.2 348.5,256.9 349.0,259.5 349.5,260.1 350.0,262.2 350.5,259.8 351.0,259.4 351.5,261.0 352.0,262.1 352.5,262.4 353.0,261.5 353.5,262.8 354.0,263.2 354.5,264.0 355.0,264.1 355.5,266.9 356.0,265.2 356.5,266.3 357.0,266.6 357.5,264.0 358.0,260.1 358.5,262.0 359.0,264.6 359.5,262.0 360.0,262.1 360.5,265.3 361.0,263.8 361.5,264.8 362.0,261.1 362.5,258.9 363.0,259.3 363.5,259.8 364.0,258.7 364.5,257.5 365.0,257.3 365.5,259.5 366.0,256.9 366.5,260.0 367.0,258.8 367.5,259.3 368.0,260.2 368.5,257.7 369.0,259.0 369.5,258.2 370.0,256.8 370.5,254.8 371.0,254.8 371.5,256.8 372.0,255.2 372.5,254.8 373.0,258.1 373.5,257.1 374.0,261.2 374.5,262.0 375.0,263.0 375.5,264.1 376.0,266.3 376.5,268.3 377.0,265.8 377.5,269.3 378.0,268.7 378.5,268.5 379.0,270.6 379.5,265.8 380.0,265.7 380.5,268.6 381.0,269.3 381.5,266.2 382.0,262.8 382.5,259.0 383.0,257.4 383.5,257.0 384.0,258.4 384.5,261.3 385.0,262.3 385.5,263.2 386.0,265.8 386.5,267.8 387.0,264.9 387.5,265.0 388.0,265.6 388.5,265.8 389.0,266.2 389.5,269.7 390.0,273.0 390.5,269.4 391.0,270.4 391.5,269.5 392.0,268.9 392.5,267.4 393.0,266.1 393.5,265.5 394.0,267.9 394.5,271.5 395.0,266.2 395.5,267.3 396.0,268.6 396.5,266.7 397.0,262.3 397.5,265.2 398.0,265.7 398.5,266.3 399.0,264.1 399.5,263.0 400.0,259.9 400.5,262.2 401.0,259.0 401.5,260.7 402.0,259.2 402.5,261.2 403.0,260.7 403.5,260.3 404.0,260.8 404.5,262.2 405.0,263.3 405.5,265.1 406.0,262.1 406.5,262.3 407.0,266.0 407.5,261.0 408.0,262.9 408.5,260.1 409.0,261.2 409.5,260.6 410.0,260.7 410.5,256.9 411.0,254.9 411.5,257.6 412.0,254.6 412.5,254.6 413.0,255.1 413.5,257.5 414.0,257.8 414.5,255.7 415.0,256.7 415.5,258.8 416.0,263.1 416.5,264.9 417.0,265.6 417.5,272.4 418.0,274.6 418.5,277.3 419.0,279.5 419.5,278.4 420.0,279.6 420.5,282.0 421.0,282.6 421.5,284.6 422.0,285.8 422.5,286.6 423.0,287.2 423.5,288.7 424.0,286.4 424.5,285.4 425.0,285.7 425.5,283.7 426.0,285.3 426.5,285.5 427.0,287.1 427.5,290.0 428.0,291.5 428.5,291.2 429.0,295.8 429.5,296.8 430.0,296.5 430.5,298.6 431.0,298.6 431.5,299.1 432.0,300.5 432.5,300.8 433.0,302.7 433.5,301.9 434.0,303.2"/></g>
<line x1="199.5" y1="214.6" x2="199.5" y2="331.5" stroke="#bbb" stroke-width="1"/>
<line x1="199.5" y1="331.5" x2="434.5" y2="331.5" stroke="#bbb" stroke-width="1"/>
<g stroke="#bbb" stroke-width="1"><line x1="239.0" y1="328.8" x2="239.0" y2="331"/><line x1="278.0" y1="328.8" x2="278.0" y2="331"/><line x1="317.0" y1="328.8" x2="317.0" y2="331"/><line x1="356.0" y1="328.8" x2="356.0" y2="331"/><line x1="395.0" y1="328.8" x2="395.0" y2="331"/><line x1="434.0" y1="328.8" x2="434.0" y2="331"/></g>
<text transform="translate(194.90,329.29) rotate(-90)" font-family='"Liberation Sans", sans-serif' font-size="16" class="lt" fill="#111" textLength="105.49" lengthAdjust="spacingAndGlyphs">bump position</text>
<text x="199.5" y="346.9" text-anchor="middle" class="lt" font-family='"Liberation Sans", sans-serif' font-size="16.6" fill="#111">0</text>
<rect x="238.83" y="335.40" width="1.15" height="11.4" fill="#2a2a2a"/>
<polygon points="235.50,337.20 238.90,335.50 238.90,338.10 235.50,338.40" fill="#2a2a2a"/>
<text x="277.1" y="346.9" text-anchor="middle" class="lt" font-family='"Liberation Sans", sans-serif' font-size="16.6" fill="#111">2</text>
<text x="316.1" y="346.9" text-anchor="middle" class="lt" font-family='"Liberation Sans", sans-serif' font-size="16.6" fill="#111">3</text>
<text x="354.8" y="346.9" text-anchor="middle" class="lt" font-family='"Liberation Sans", sans-serif' font-size="16.6" fill="#111">4</text>
<text x="393.4" y="346.9" text-anchor="middle" class="lt" font-family='"Liberation Sans", sans-serif' font-size="16.6" fill="#111">5</text>
<text x="432.4" y="346.9" text-anchor="middle" class="lt" font-family='"Liberation Sans", sans-serif' font-size="16.6" fill="#111">6</text>
<text x="281.65" y="365.40" font-family='"Liberation Sans", sans-serif' font-size="16" class="lt" fill="#111" textLength="54.46" lengthAdjust="spacingAndGlyphs">time (s)</text>
<text x="474.87" y="21.4" font-family='"Liberation Sans", sans-serif' font-weight="bold" font-size="27.6" fill="#000">C</text>
<rect x="505.5" y="30" width="30.1" height="118" fill="#d884fa"/>
<rect x="535.6" y="30" width="120.5" height="118" fill="#008b8b"/>
<text x="507.95" y="25.60" font-family='"Liberation Sans", sans-serif' font-size="14.5" font-weight="bold" fill="#d884fa" textLength="25.83" lengthAdjust="spacingAndGlyphs">fast</text>
<text x="580.58" y="25.90" font-family='"Liberation Sans", sans-serif' font-size="14.5" font-weight="bold" fill="#178b8b" textLength="32.69" lengthAdjust="spacingAndGlyphs">slow</text>
<polyline points="505.3,148.3 505.6,148.0 505.8,147.8 506.1,147.4 506.5,146.7 507.2,145.4 508.0,143.8 508.9,141.9 509.7,140.2 510.5,138.6 511.3,136.9 512.1,135.3 512.9,133.7 513.7,132.1 514.5,130.4 515.4,128.8 516.2,127.2 517.0,125.6 517.8,124.0 518.6,122.4 519.4,120.8 520.2,119.2 521.0,117.6 521.8,115.9 522.7,114.3 523.7,112.6 524.7,110.9 525.7,109.3 526.7,107.8 527.6,106.5 528.4,105.3 529.2,104.3 530.0,103.3 530.8,102.4 531.5,101.6 532.2,100.9 533.0,100.2 533.8,99.5 534.6,98.8 535.5,98.2 536.4,97.5 537.4,96.8 538.5,96.2 539.6,95.5 540.8,94.9 542.1,94.3 543.4,93.7 544.8,93.2 546.2,92.6 547.5,92.0 548.8,91.5 550.2,90.9 551.6,90.3 553.1,89.6 554.7,88.9 556.3,88.1 558.0,87.3 559.6,86.4 561.3,85.5 563.0,84.6 565.0,83.6 567.3,82.5 569.8,81.3 572.4,80.2 575.0,79.0 577.5,77.9 580.0,76.8 582.5,75.7 585.0,74.6 587.5,73.5 590.0,72.5 592.5,71.5 595.0,70.5 597.5,69.5 600.0,68.5 602.5,67.6 605.0,66.6 607.5,65.7 610.0,64.7 612.5,63.8 615.0,62.9 617.5,62.0 620.0,61.1 622.5,60.3 625.0,59.4 627.5,58.6 630.0,57.7 632.5,56.9 635.0,56.1 637.5,55.3 640.0,54.5 642.5,53.8 645.0,53.0 647.7,52.2 650.5,51.4 653.1,50.7 655.0,50.1 656.1,49.8 656.5,49.7 656.7,49.7 657.0,49.6" fill="none" stroke="#0000ff" stroke-width="5.2" stroke-linejoin="round"/>
<g stroke="#ff0000" stroke-width="5.0" stroke-linecap="butt"><line x1="505.1" y1="147.2" x2="513.4" y2="133.6"/><line x1="518.0" y1="118.1" x2="525.7" y2="104.4"/><line x1="531.9" y1="92.3" x2="539.9" y2="82.7"/><line x1="546.6" y1="76.8" x2="555.5" y2="72.9"/><line x1="560.9" y1="68.7" x2="569.4" y2="64.7"/><line x1="575.2" y1="59.6" x2="584.1" y2="57.6"/><line x1="589.3" y1="56.9" x2="598.2" y2="54.4"/><line x1="603.8" y1="53.1" x2="611.6" y2="50.6"/><line x1="617.4" y1="47.7" x2="626.3" y2="45.2"/><line x1="631.4" y1="43.4" x2="640.3" y2="40.3"/><line x1="644.9" y1="40.6" x2="652.7" y2="37.2"/></g>
<text transform="translate(499.80,144.39) rotate(-90)" font-family='"Liberation Sans", sans-serif' font-size="16" class="lt" fill="#111" textLength="111.25" lengthAdjust="spacingAndGlyphs">bump variance</text>
<text x="505.3" y="163.4" text-anchor="middle" class="lt" font-family='"Liberation Sans", sans-serif' font-size="16.6" fill="#111">0</text>
<text x="555.2" y="163.4" text-anchor="middle" class="lt" font-family='"Liberation Sans", sans-serif' font-size="16.6" fill="#111">2</text>
<text x="604.8" y="163.4" text-anchor="middle" class="lt" font-family='"Liberation Sans", sans-serif' font-size="16.6" fill="#111">4</text>
<text x="653.4" y="163.4" text-anchor="middle" class="lt" font-family='"Liberation Sans", sans-serif' font-size="16.6" fill="#111">6</text>
<text x="546.45" y="182.20" font-family='"Liberation Sans", sans-serif' font-size="16" class="lt" fill="#111" textLength="54.77" lengthAdjust="spacingAndGlyphs">time (s)</text>
<text x="476.35" y="207.8" font-family='"Liberation Sans", sans-serif' font-weight="bold" font-size="27.6" fill="#000">F</text>
<line x1="506.5" y1="214.9" x2="506.5" y2="331.5" stroke="#c8c8c8" stroke-width="1"/>
<line x1="506.5" y1="331.5" x2="655" y2="331.5" stroke="#d0d0d0" stroke-width="1"/>
<g stroke="#c4c4c4" stroke-width="1"><line x1="531.1" y1="329.5" x2="531.1" y2="331.5"/><line x1="555.8" y1="329.5" x2="555.8" y2="331.5"/><line x1="580.5" y1="329.5" x2="580.5" y2="331.5"/><line x1="605.2" y1="329.5" x2="605.2" y2="331.5"/><line x1="629.9" y1="329.5" x2="629.9" y2="331.5"/><line x1="654.6" y1="329.5" x2="654.6" y2="331.5"/></g>
<polyline points="505.5,331.5 508.0,329.8 510.5,328.1 513.0,326.4 515.5,324.8 518.0,323.2 520.5,321.6 523.0,320.1 525.5,318.6 528.0,317.1 530.5,315.7 533.0,314.3 535.5,312.9 538.0,311.5 540.5,310.1 543.0,308.7 545.5,307.3 548.0,305.9 550.5,304.6 553.0,303.2 555.5,301.8 558.0,300.4 560.5,298.9 563.0,297.5 565.5,296.0 568.0,294.6 570.5,293.1 573.0,291.7 575.5,290.2 578.0,288.7 580.5,287.2 583.0,285.7 585.5,284.2 588.0,282.7 590.5,281.1 593.0,279.5 595.5,277.9 598.0,276.3 600.5,274.6 603.0,272.9 605.5,271.2 608.0,269.5 610.5,267.7 613.0,265.9 615.5,264.2 618.0,262.5 620.5,260.7 623.0,259.0 625.5,257.3 628.0,255.6 630.5,253.9 633.0,252.2 635.5,250.5 638.0,248.9 640.5,247.2 643.0,245.6 645.5,244.1 648.0,242.6 650.5,241.2 653.0,239.8 655.5,238.4" fill="none" stroke="#0000ff" stroke-width="4.4" stroke-linejoin="round"/>
<g stroke="#ff0000" stroke-width="4.6" stroke-linecap="butt"><line x1="506.0" y1="331.5" x2="519.5" y2="322.6"/><line x1="530.9" y1="315.0" x2="543.8" y2="306.4"/><line x1="553.1" y1="300.2" x2="565.5" y2="292.0"/><line x1="574.2" y1="286.2" x2="586.4" y2="278.1"/><line x1="594.4" y1="272.7" x2="605.2" y2="265.6"/><line x1="612.8" y1="260.5" x2="623.2" y2="253.6"/><line x1="630.5" y1="248.7" x2="640.7" y2="242.0"/><line x1="646.7" y1="237.9" x2="655.5" y2="232.1"/></g>
<text transform="translate(499.60,331.49) rotate(-90)" font-family='"Liberation Sans", sans-serif' font-size="16" class="lt" fill="#111" textLength="111.15" lengthAdjust="spacingAndGlyphs">bump variance</text>
<text x="505.3" y="347.5" text-anchor="middle" class="lt" font-family='"Liberation Sans", sans-serif' font-size="16.6" fill="#111">0</text>
<text x="555.2" y="347.5" text-anchor="middle" class="lt" font-family='"Liberation Sans", sans-serif' font-size="16.6" fill="#111">2</text>
<text x="604.8" y="347.5" text-anchor="middle" class="lt" font-family='"Liberation Sans", sans-serif' font-size="16.6" fill="#111">4</text>
<text x="653.5" y="347.5" text-anchor="middle" class="lt" font-family='"Liberation Sans", sans-serif' font-size="16.6" fill="#111">6</text>
<text x="545.65" y="365.80" font-family='"Liberation Sans", sans-serif' font-size="16" class="lt" fill="#111" textLength="54.97" lengthAdjust="spacingAndGlyphs">time (s)</text>
</svg>
</body></html>
